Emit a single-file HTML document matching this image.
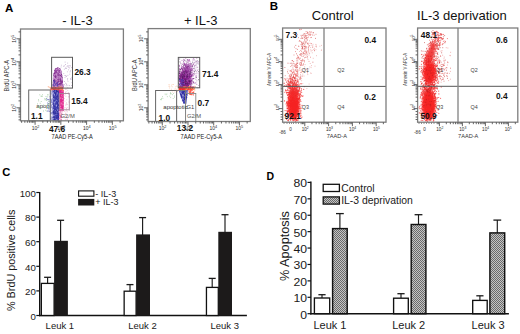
<!DOCTYPE html>
<html><head><meta charset="utf-8"><style>
html,body{margin:0;padding:0;background:#fff;width:520px;height:334px;overflow:hidden}
svg{display:block}
text{font-family:"Liberation Sans",sans-serif}
</style></head><body>
<svg width="520" height="334" viewBox="0 0 520 334">
<defs>
<pattern id="hatch" width="2" height="2" patternUnits="userSpaceOnUse">
<rect width="2" height="2" fill="#c4c4c4"/><rect width="1" height="1" fill="#6a6a6a"/><rect x="1" y="1" width="1" height="1" fill="#6a6a6a"/>
</pattern>
<linearGradient id="bluegrad" x1="0" x2="1" y1="0" y2="0"><stop offset="0" stop-color="#c4c4ea"/><stop offset="0.25" stop-color="#9a9ad4"/><stop offset="0.4" stop-color="#4444b2"/><stop offset="1" stop-color="#3a3aac"/></linearGradient>
<filter id="b1" x="-50%" y="-50%" width="200%" height="200%"><feGaussianBlur stdDeviation="1.2"/></filter>
<filter id="b05" x="-50%" y="-50%" width="200%" height="200%"><feGaussianBlur stdDeviation="0.6"/></filter>
</defs>
<rect width="520" height="334" fill="#fff"/>
<text x="5.0" y="12.2" font-size="11.5" font-weight="bold" text-anchor="start" fill="#000" >A</text>
<text x="269.8" y="10.3" font-size="11.5" font-weight="bold" text-anchor="start" fill="#000" >B</text>
<text x="2.2" y="176.4" font-size="11.2" font-weight="bold" text-anchor="start" fill="#000" >C</text>
<text x="266.5" y="180.4" font-size="10.5" font-weight="bold" text-anchor="start" fill="#000" >D</text>
<line x1="39.70" y1="192.00" x2="39.70" y2="316.20" stroke="#111" stroke-width="1.4"/>
<line x1="39.00" y1="315.50" x2="246.90" y2="315.50" stroke="#111" stroke-width="1.4"/>
<line x1="36.30" y1="315.50" x2="39.70" y2="315.50" stroke="#111" stroke-width="1.2"/>
<text x="35.9" y="319.8" font-size="9.7" font-weight="normal" text-anchor="end" fill="#1a1a1a" >0</text>
<line x1="36.30" y1="290.90" x2="39.70" y2="290.90" stroke="#111" stroke-width="1.2"/>
<text x="35.9" y="295.2" font-size="9.7" font-weight="normal" text-anchor="end" fill="#1a1a1a" >20</text>
<line x1="36.30" y1="266.30" x2="39.70" y2="266.30" stroke="#111" stroke-width="1.2"/>
<text x="35.9" y="270.6" font-size="9.7" font-weight="normal" text-anchor="end" fill="#1a1a1a" >40</text>
<line x1="36.30" y1="241.70" x2="39.70" y2="241.70" stroke="#111" stroke-width="1.2"/>
<text x="35.9" y="246.0" font-size="9.7" font-weight="normal" text-anchor="end" fill="#1a1a1a" >60</text>
<line x1="36.30" y1="217.10" x2="39.70" y2="217.10" stroke="#111" stroke-width="1.2"/>
<text x="35.9" y="221.4" font-size="9.7" font-weight="normal" text-anchor="end" fill="#1a1a1a" >80</text>
<line x1="36.30" y1="192.50" x2="39.70" y2="192.50" stroke="#111" stroke-width="1.2"/>
<text x="35.9" y="196.8" font-size="9.7" font-weight="normal" text-anchor="end" fill="#1a1a1a" >100</text>
<line x1="47.60" y1="283.40" x2="47.60" y2="277.30" stroke="#1a1a1a" stroke-width="1.15"/>
<line x1="44.10" y1="277.30" x2="51.10" y2="277.30" stroke="#1a1a1a" stroke-width="1.3"/>
<rect x="41.35" y="283.40" width="12.75" height="32.10" fill="#fff" stroke="#111" stroke-width="1.3" />
<line x1="60.60" y1="241.30" x2="60.60" y2="220.30" stroke="#1a1a1a" stroke-width="1.15"/>
<line x1="57.10" y1="220.30" x2="64.10" y2="220.30" stroke="#1a1a1a" stroke-width="1.3"/>
<rect x="54.10" y="240.80" width="13.80" height="74.70" fill="#1c1a1a" stroke="none" stroke-width="1" />
<line x1="130.00" y1="291.20" x2="130.00" y2="284.60" stroke="#1a1a1a" stroke-width="1.15"/>
<line x1="126.50" y1="284.60" x2="133.50" y2="284.60" stroke="#1a1a1a" stroke-width="1.3"/>
<rect x="124.15" y="291.20" width="11.95" height="24.30" fill="#fff" stroke="#111" stroke-width="1.3" />
<line x1="142.60" y1="234.90" x2="142.60" y2="217.60" stroke="#1a1a1a" stroke-width="1.15"/>
<line x1="139.10" y1="217.60" x2="146.10" y2="217.60" stroke="#1a1a1a" stroke-width="1.3"/>
<rect x="136.10" y="234.40" width="13.90" height="81.10" fill="#1c1a1a" stroke="none" stroke-width="1" />
<line x1="212.20" y1="287.40" x2="212.20" y2="278.40" stroke="#1a1a1a" stroke-width="1.15"/>
<line x1="208.70" y1="278.40" x2="215.70" y2="278.40" stroke="#1a1a1a" stroke-width="1.3"/>
<rect x="206.45" y="287.40" width="11.85" height="28.10" fill="#fff" stroke="#111" stroke-width="1.3" />
<line x1="225.00" y1="232.30" x2="225.00" y2="214.70" stroke="#1a1a1a" stroke-width="1.15"/>
<line x1="221.50" y1="214.70" x2="228.50" y2="214.70" stroke="#1a1a1a" stroke-width="1.3"/>
<rect x="218.30" y="231.80" width="13.70" height="83.70" fill="#1c1a1a" stroke="none" stroke-width="1" />
<text x="45.6" y="328.6" font-size="9.5" font-weight="normal" text-anchor="start" fill="#1a1a1a" >Leuk 1</text>
<text x="128.2" y="328.6" font-size="9.5" font-weight="normal" text-anchor="start" fill="#1a1a1a" >Leuk 2</text>
<text x="210.5" y="328.6" font-size="9.5" font-weight="normal" text-anchor="start" fill="#1a1a1a" >Leuk 3</text>
<rect x="78.60" y="190.90" width="15.30" height="5.30" fill="#fff" stroke="#111" stroke-width="1.1" />
<rect x="78.10" y="198.90" width="16.20" height="6.60" fill="#1c1a1a" stroke="none" stroke-width="1" />
<text x="95.3" y="196.6" font-size="9" font-weight="normal" text-anchor="start" fill="#1a1a1a" >- IL-3</text>
<text x="95.3" y="205.3" font-size="9" font-weight="normal" text-anchor="start" fill="#1a1a1a" >+ IL-3</text>
<text transform="translate(14.7,260.3) rotate(-90)" font-size="10.8" text-anchor="middle" fill="#1a1a1a">% BrdU positive cells</text>
<line x1="310.90" y1="181.60" x2="310.90" y2="314.40" stroke="#111" stroke-width="1.4"/>
<line x1="310.20" y1="313.70" x2="508.90" y2="313.70" stroke="#111" stroke-width="1.4"/>
<line x1="307.50" y1="313.70" x2="310.90" y2="313.70" stroke="#111" stroke-width="1.2"/>
<text transform="translate(307.0,318.70) scale(1.08,1)" font-size="11.3" text-anchor="end" fill="#1a1a1a">0</text>
<line x1="307.50" y1="297.29" x2="310.90" y2="297.29" stroke="#111" stroke-width="1.2"/>
<text transform="translate(307.0,302.29) scale(1.08,1)" font-size="11.3" text-anchor="end" fill="#1a1a1a">10</text>
<line x1="307.50" y1="280.88" x2="310.90" y2="280.88" stroke="#111" stroke-width="1.2"/>
<text transform="translate(307.0,285.88) scale(1.08,1)" font-size="11.3" text-anchor="end" fill="#1a1a1a">20</text>
<line x1="307.50" y1="264.47" x2="310.90" y2="264.47" stroke="#111" stroke-width="1.2"/>
<text transform="translate(307.0,269.47) scale(1.08,1)" font-size="11.3" text-anchor="end" fill="#1a1a1a">30</text>
<line x1="307.50" y1="248.06" x2="310.90" y2="248.06" stroke="#111" stroke-width="1.2"/>
<text transform="translate(307.0,253.06) scale(1.08,1)" font-size="11.3" text-anchor="end" fill="#1a1a1a">40</text>
<line x1="307.50" y1="231.65" x2="310.90" y2="231.65" stroke="#111" stroke-width="1.2"/>
<text transform="translate(307.0,236.65) scale(1.08,1)" font-size="11.3" text-anchor="end" fill="#1a1a1a">50</text>
<line x1="307.50" y1="215.24" x2="310.90" y2="215.24" stroke="#111" stroke-width="1.2"/>
<text transform="translate(307.0,220.24) scale(1.08,1)" font-size="11.3" text-anchor="end" fill="#1a1a1a">60</text>
<line x1="307.50" y1="198.83" x2="310.90" y2="198.83" stroke="#111" stroke-width="1.2"/>
<text transform="translate(307.0,203.83) scale(1.08,1)" font-size="11.3" text-anchor="end" fill="#1a1a1a">70</text>
<line x1="307.50" y1="182.42" x2="310.90" y2="182.42" stroke="#111" stroke-width="1.2"/>
<text transform="translate(307.0,187.42) scale(1.08,1)" font-size="11.3" text-anchor="end" fill="#1a1a1a">80</text>
<line x1="322.00" y1="298.00" x2="322.00" y2="294.70" stroke="#1a1a1a" stroke-width="1.15"/>
<line x1="318.40" y1="294.70" x2="325.60" y2="294.70" stroke="#1a1a1a" stroke-width="1.3"/>
<rect x="314.40" y="298.00" width="15.30" height="15.70" fill="#fff" stroke="#111" stroke-width="1.35" />
<line x1="339.90" y1="228.60" x2="339.90" y2="213.60" stroke="#1a1a1a" stroke-width="1.15"/>
<line x1="336.00" y1="213.60" x2="343.80" y2="213.60" stroke="#1a1a1a" stroke-width="1.3"/>
<rect x="332.60" y="228.60" width="14.60" height="85.10" fill="url(#hatch)" stroke="#111" stroke-width="1.45" />
<line x1="401.00" y1="298.20" x2="401.00" y2="293.70" stroke="#1a1a1a" stroke-width="1.15"/>
<line x1="397.40" y1="293.70" x2="404.60" y2="293.70" stroke="#1a1a1a" stroke-width="1.3"/>
<rect x="393.60" y="298.20" width="14.70" height="15.50" fill="#fff" stroke="#111" stroke-width="1.35" />
<line x1="418.50" y1="224.50" x2="418.50" y2="214.70" stroke="#1a1a1a" stroke-width="1.15"/>
<line x1="414.60" y1="214.70" x2="422.40" y2="214.70" stroke="#1a1a1a" stroke-width="1.3"/>
<rect x="411.20" y="224.50" width="14.70" height="89.20" fill="url(#hatch)" stroke="#111" stroke-width="1.45" />
<line x1="479.90" y1="300.40" x2="479.90" y2="295.80" stroke="#1a1a1a" stroke-width="1.15"/>
<line x1="476.30" y1="295.80" x2="483.50" y2="295.80" stroke="#1a1a1a" stroke-width="1.3"/>
<rect x="472.70" y="300.40" width="14.50" height="13.30" fill="#fff" stroke="#111" stroke-width="1.35" />
<line x1="497.30" y1="232.90" x2="497.30" y2="220.10" stroke="#1a1a1a" stroke-width="1.15"/>
<line x1="493.40" y1="220.10" x2="501.20" y2="220.10" stroke="#1a1a1a" stroke-width="1.3"/>
<rect x="489.90" y="232.90" width="14.80" height="80.80" fill="url(#hatch)" stroke="#111" stroke-width="1.45" />
<text x="313.4" y="328.6" font-size="11" font-weight="normal" text-anchor="start" fill="#1a1a1a" >Leuk 1</text>
<text x="392.2" y="328.6" font-size="11" font-weight="normal" text-anchor="start" fill="#1a1a1a" >Leuk 2</text>
<text x="471.6" y="328.6" font-size="11" font-weight="normal" text-anchor="start" fill="#1a1a1a" >Leuk 3</text>
<rect x="323.20" y="184.30" width="16.20" height="7.20" fill="#fff" stroke="#111" stroke-width="1.3" />
<rect x="323.20" y="196.90" width="16.20" height="7.20" fill="url(#hatch)" stroke="#111" stroke-width="1.3" />
<text x="341.2" y="191.6" font-size="10.4" font-weight="normal" text-anchor="start" fill="#1a1a1a" >Control</text>
<text x="341.2" y="204.2" font-size="10.4" font-weight="normal" text-anchor="start" fill="#1a1a1a" >IL-3 deprivation</text>
<text transform="translate(289.2,246.1) rotate(-90)" font-size="12.7" text-anchor="middle" fill="#1a1a1a">% Apoptosis</text>
<text x="62.3" y="25.4" font-size="13" font-weight="normal" text-anchor="start" fill="#111" >- IL-3</text>
<path d="M67.9 85.3h.01M69.5 67.9h.01M64.3 84.7h.01M61.1 83.4h.01M69.8 74.2h.01M64.3 69.2h.01M63.8 73.6h.01M66.6 76.4h.01M72.0 82.6h.01M67.8 87.7h.01M63.4 66.2h.01M67.7 63.1h.01M61.4 75.4h.01M66.1 85.8h.01M67.9 75.4h.01M66.5 68.4h.01M61.1 67.0h.01M68.6 67.2h.01M65.1 62.1h.01M70.1 66.0h.01M63.9 84.9h.01M66.6 84.0h.01M68.0 81.3h.01M62.0 76.1h.01M66.6 84.7h.01M65.0 77.6h.01M61.7 72.1h.01M64.6 65.9h.01M70.0 71.9h.01M71.8 77.3h.01M67.7 78.6h.01M68.4 65.9h.01M65.8 68.2h.01M65.4 64.5h.01M71.6 67.6h.01M68.4 69.8h.01M70.6 79.2h.01M62.4 84.0h.01M71.4 85.5h.01M67.3 65.8h.01M63.1 86.1h.01M67.1 66.7h.01M70.7 78.7h.01M67.3 71.8h.01M65.5 68.2h.01M61.4 84.8h.01M66.1 76.2h.01M64.5 81.5h.01M61.3 71.7h.01M61.3 65.2h.01M71.6 79.1h.01M65.7 75.6h.01M70.6 70.9h.01M67.5 79.8h.01M64.9 75.5h.01M69.4 85.6h.01M62.7 86.3h.01M61.1 81.6h.01M69.9 65.6h.01M65.6 83.2h.01" stroke="#bca0c8" stroke-width="1.00" stroke-linecap="round" opacity="0.8"/>
<g filter="url(#b05)"><polygon points="55.3,68.8 57.3,67.4 59.4,68.0 60.9,70.0 62.0,75.0 62.8,80.0 63.4,88.0 52.7,88.0 53.0,80.0 53.6,74.0 54.3,70.5" fill="#9a4ca6"/></g>
<path d="M56.8 72.6h.01M57.6 80.9h.01M53.8 75.2h.01M54.1 81.0h.01M61.6 75.2h.01M56.7 78.5h.01M55.0 72.5h.01M56.2 76.8h.01M53.6 82.9h.01M58.9 73.6h.01M53.5 83.1h.01M56.0 84.6h.01M59.3 71.3h.01M57.4 85.6h.01M56.7 82.0h.01M53.7 82.4h.01M61.0 84.4h.01M59.9 75.0h.01M53.4 78.1h.01M60.8 71.3h.01M55.5 78.4h.01M60.7 85.9h.01M61.3 80.7h.01M60.4 87.9h.01M62.7 84.8h.01M61.0 75.5h.01M59.6 71.2h.01M60.8 83.0h.01M60.4 76.6h.01M56.7 76.0h.01M53.1 84.8h.01M58.5 75.4h.01M58.6 82.3h.01M56.8 84.5h.01M54.2 83.1h.01M60.3 84.4h.01M53.7 87.8h.01M58.9 76.6h.01M60.7 71.3h.01M57.8 68.1h.01M56.1 73.8h.01M60.4 76.8h.01M53.3 87.9h.01M62.2 86.3h.01M55.3 75.5h.01M55.1 70.0h.01M61.9 77.4h.01M54.7 81.2h.01M55.5 78.3h.01M55.7 78.0h.01M59.4 78.4h.01M56.9 83.7h.01M63.2 86.8h.01M55.2 87.4h.01M54.9 77.8h.01M58.0 86.2h.01M59.1 68.8h.01M55.2 77.0h.01M62.1 83.1h.01M61.6 83.1h.01M60.3 84.9h.01M60.0 82.6h.01M55.9 70.9h.01M60.8 70.8h.01M62.5 79.7h.01M56.2 86.7h.01M54.4 78.0h.01M53.7 87.3h.01M58.9 84.0h.01M55.7 83.9h.01M60.2 80.7h.01M57.1 81.7h.01M61.6 74.3h.01M59.9 71.7h.01M58.6 83.2h.01M53.4 82.4h.01M52.9 87.1h.01M57.7 75.8h.01M60.4 78.2h.01M58.7 78.9h.01M57.5 80.4h.01M58.6 68.9h.01M59.0 72.0h.01M54.8 85.5h.01M54.8 76.8h.01M60.7 82.0h.01M58.6 84.0h.01M57.7 80.2h.01M61.5 81.4h.01M59.6 75.8h.01M58.7 75.6h.01M60.7 75.2h.01M57.7 83.0h.01M58.1 74.4h.01M61.5 75.2h.01M61.7 83.6h.01M57.5 82.1h.01M61.9 79.3h.01M58.7 81.1h.01M60.0 79.4h.01M57.2 71.2h.01M55.8 73.4h.01M57.3 88.0h.01M56.5 76.6h.01M56.7 79.4h.01M62.8 85.7h.01M56.7 72.9h.01M62.2 77.6h.01M60.0 68.9h.01M58.0 71.5h.01M57.2 84.5h.01M61.6 77.2h.01M60.9 76.8h.01M56.7 78.6h.01M54.9 73.9h.01M60.3 83.3h.01M53.3 82.5h.01M61.4 76.6h.01M53.4 81.5h.01M55.3 80.7h.01M56.7 80.5h.01M55.5 77.2h.01M58.3 80.4h.01M54.9 87.2h.01M55.8 73.7h.01M55.4 68.8h.01M57.2 83.3h.01M60.3 71.4h.01M54.2 74.0h.01M60.9 77.5h.01M62.6 80.9h.01M59.3 83.2h.01M60.7 74.5h.01M55.4 76.4h.01M57.9 70.3h.01M57.4 80.6h.01M54.6 73.2h.01M54.7 70.8h.01M57.8 67.7h.01M57.6 70.8h.01M55.6 83.7h.01M54.7 80.1h.01M57.0 76.0h.01M62.6 85.8h.01M59.8 79.8h.01M61.0 71.8h.01M62.9 85.7h.01M53.9 73.9h.01M53.0 84.5h.01M62.5 87.8h.01M59.2 81.1h.01M60.0 79.1h.01M56.3 78.0h.01M60.1 76.1h.01M61.8 83.0h.01M56.3 69.0h.01M56.0 76.6h.01M62.3 81.4h.01M61.8 75.7h.01M55.3 70.3h.01M61.3 81.5h.01M55.0 72.9h.01M60.2 70.1h.01M58.2 68.1h.01M58.6 84.8h.01M60.9 79.9h.01M56.0 80.4h.01M57.6 85.2h.01M55.8 83.0h.01M59.5 82.7h.01" stroke="#7e2a8a" stroke-width="1.10" stroke-linecap="round" opacity="0.9"/>
<path d="M57.0 73.8h.01M57.4 71.5h.01M60.3 77.8h.01M62.0 85.9h.01M56.1 73.2h.01M53.3 77.9h.01M58.1 76.4h.01M62.9 86.9h.01M57.1 84.6h.01M59.4 82.4h.01M58.9 71.7h.01M60.2 71.4h.01M57.7 87.5h.01M58.5 68.6h.01M57.3 81.0h.01M56.8 77.8h.01M55.9 80.9h.01M54.6 86.1h.01M57.7 85.1h.01M55.8 83.9h.01M55.8 82.2h.01M56.3 79.8h.01M61.3 78.6h.01M56.8 74.6h.01M59.4 69.4h.01M59.9 87.2h.01M63.2 85.7h.01M62.0 85.5h.01M59.4 78.1h.01M54.8 78.1h.01M55.8 70.0h.01M54.1 83.9h.01M58.9 76.1h.01M57.3 71.6h.01M59.8 73.4h.01M57.0 76.9h.01M60.4 73.8h.01M58.1 85.5h.01M59.9 69.3h.01M54.2 87.8h.01M54.4 71.8h.01M53.6 77.1h.01M59.0 74.0h.01M53.9 84.1h.01M61.3 79.0h.01M54.2 78.6h.01M59.4 76.2h.01M61.9 75.4h.01M58.2 69.8h.01M58.7 83.2h.01M60.5 72.7h.01M57.2 75.9h.01M61.0 71.0h.01M59.5 82.2h.01M58.2 85.4h.01M57.7 77.0h.01M55.7 86.3h.01M56.1 81.7h.01M57.1 86.7h.01M53.5 77.6h.01M53.2 78.7h.01M54.7 75.0h.01M56.0 79.8h.01M61.5 86.7h.01M56.2 79.1h.01M62.0 80.8h.01M55.8 83.4h.01M55.8 85.8h.01M60.7 76.7h.01M54.3 78.0h.01M55.9 78.7h.01M60.7 85.1h.01M53.3 79.6h.01M62.0 79.4h.01M62.2 83.6h.01M60.4 71.5h.01M55.5 74.1h.01M59.0 80.3h.01M54.8 74.9h.01M61.5 78.7h.01M58.2 83.1h.01M59.7 73.4h.01M53.6 76.9h.01M62.1 79.7h.01M56.8 79.4h.01M59.0 87.0h.01M56.3 75.8h.01M59.3 85.7h.01M60.3 77.1h.01M61.4 77.4h.01M54.1 84.5h.01M55.9 84.9h.01M59.2 77.9h.01M53.6 83.6h.01M53.4 87.3h.01M54.1 85.6h.01M57.8 70.0h.01M58.0 72.5h.01M57.1 80.6h.01M62.5 83.9h.01M54.4 77.2h.01M58.0 87.8h.01M53.6 77.9h.01M55.5 78.9h.01M56.1 86.5h.01M53.6 82.1h.01M55.8 85.9h.01M62.3 86.7h.01M56.8 87.2h.01M60.2 86.3h.01M61.9 84.7h.01M56.5 69.4h.01M60.5 70.2h.01M56.8 87.9h.01M58.7 78.1h.01M56.6 74.1h.01M54.1 86.3h.01M62.2 79.7h.01M59.9 82.5h.01M58.0 68.4h.01M58.1 82.6h.01M59.7 80.1h.01M58.4 68.4h.01M57.1 78.7h.01M60.4 86.7h.01M60.6 74.6h.01M53.5 82.0h.01M61.0 71.0h.01M57.6 78.2h.01M59.3 87.8h.01" stroke="#d8acdc" stroke-width="1.00" stroke-linecap="round" opacity="0.9"/>
<path d="M54.5 82.3h.01M57.9 82.5h.01M54.1 87.0h.01M53.7 87.2h.01M57.3 84.9h.01M55.1 81.5h.01M53.5 80.8h.01M54.7 83.1h.01M57.6 84.0h.01M58.0 85.4h.01M53.7 84.2h.01M53.8 80.3h.01M57.7 82.5h.01M53.9 80.8h.01M56.3 83.5h.01M53.1 85.4h.01M54.3 85.9h.01M55.4 84.0h.01M55.3 85.1h.01M58.0 86.0h.01M53.3 83.7h.01M54.2 80.8h.01M54.0 81.9h.01M57.8 85.6h.01M57.3 85.2h.01" stroke="#4a40b0" stroke-width="1.10" stroke-linecap="round" opacity="0.9"/>
<text x="36.3" y="108.3" font-size="6.0" font-weight="normal" text-anchor="start" fill="#333" >apoptotic</text>
<rect x="50.20" y="88.30" width="8.80" height="32.50" fill="url(#bluegrad)" stroke="none" stroke-width="1" />
<path d="M51.0 91.0h.01M50.9 95.3h.01M51.5 99.1h.01M51.4 114.7h.01M50.4 92.3h.01M52.6 105.8h.01M51.6 97.4h.01M51.9 96.0h.01M52.8 115.0h.01M51.2 89.8h.01M52.9 98.4h.01M52.2 116.0h.01M52.6 116.2h.01M51.7 115.5h.01M51.6 97.3h.01M51.7 99.6h.01M52.5 115.2h.01M50.7 94.2h.01M51.4 103.6h.01M53.1 118.7h.01M53.1 112.0h.01M52.3 97.5h.01M51.4 89.1h.01M52.7 97.7h.01M50.5 98.9h.01M51.2 111.8h.01M50.3 96.2h.01M52.9 115.9h.01M52.1 106.6h.01M50.9 116.6h.01M52.5 105.2h.01M50.8 95.8h.01M51.4 99.4h.01M50.5 101.8h.01M51.6 98.0h.01M51.4 99.5h.01M51.4 108.5h.01M51.7 95.2h.01M52.6 105.2h.01M51.6 111.5h.01M52.5 115.7h.01M52.7 110.1h.01M52.4 93.9h.01M52.3 97.0h.01M51.0 92.8h.01M51.5 89.6h.01M52.2 112.6h.01M52.5 93.1h.01M52.2 115.4h.01M50.4 95.1h.01M51.1 103.6h.01M50.8 106.0h.01M51.3 109.6h.01M51.8 110.6h.01M51.0 111.3h.01M52.4 111.7h.01M50.5 118.8h.01M52.0 97.6h.01M51.6 105.3h.01M51.8 96.8h.01M51.1 100.5h.01M52.6 102.8h.01M50.4 103.2h.01M50.9 89.4h.01M53.1 98.3h.01M51.9 100.3h.01M50.5 117.4h.01M53.0 94.9h.01M51.5 100.8h.01M50.8 109.8h.01M52.6 112.9h.01M52.3 89.6h.01M51.0 105.2h.01M52.3 101.2h.01M51.6 115.5h.01M50.4 97.5h.01M51.1 120.3h.01M51.0 90.5h.01M51.5 109.5h.01M50.7 115.5h.01" stroke="#f4f4ff" stroke-width="1.00" stroke-linecap="round" opacity="0.85"/>
<path d="M50.4 118.7h.01M52.3 93.0h.01M53.3 102.6h.01M52.9 115.1h.01M52.3 90.6h.01M53.3 110.9h.01M53.7 97.5h.01M53.2 116.5h.01M51.6 101.9h.01M51.5 89.2h.01M51.2 99.4h.01M50.7 113.1h.01M51.9 106.9h.01M51.4 100.4h.01M53.1 103.8h.01M52.5 102.3h.01M52.4 117.3h.01M51.3 105.4h.01M52.8 91.7h.01M53.9 104.7h.01M51.2 113.0h.01M53.3 108.9h.01M53.7 91.8h.01M52.3 112.4h.01M53.7 109.2h.01" stroke="#5a5ac0" stroke-width="1.00" stroke-linecap="round" opacity="0.8"/>
<path d="M55.2 103.0h.01M54.1 104.6h.01M54.4 94.1h.01M55.3 91.0h.01M55.8 110.9h.01M56.9 119.7h.01M58.3 109.0h.01M58.4 103.0h.01M57.8 98.0h.01M56.2 119.9h.01M56.6 105.0h.01M57.7 98.8h.01M58.0 89.6h.01M54.4 94.6h.01M54.5 118.8h.01M53.1 98.4h.01M56.4 111.1h.01M57.6 101.1h.01M54.3 115.8h.01M53.7 91.0h.01M54.4 104.5h.01M58.7 112.0h.01M56.4 105.4h.01M57.2 108.7h.01M55.0 91.9h.01M54.2 113.7h.01M56.8 114.1h.01M53.3 117.4h.01M55.3 118.2h.01M56.6 106.2h.01M57.9 108.7h.01M57.0 94.0h.01M56.6 100.2h.01M53.5 93.2h.01M55.9 97.3h.01M57.6 92.9h.01M53.1 120.4h.01M54.9 105.1h.01M54.3 95.6h.01M55.4 113.9h.01M53.2 115.4h.01M58.9 106.6h.01M55.2 96.4h.01M54.1 99.2h.01M58.1 89.1h.01M57.7 110.0h.01M53.1 91.2h.01M57.4 110.2h.01M54.9 116.1h.01M54.3 102.4h.01M53.7 109.3h.01M53.5 94.7h.01M57.6 104.8h.01M57.0 112.1h.01M56.6 95.2h.01M57.2 92.7h.01M54.6 103.1h.01M53.7 92.3h.01M56.9 112.4h.01M55.2 101.3h.01" stroke="#e0e0ff" stroke-width="0.90" stroke-linecap="round" opacity="0.7"/>
<path d="M56.4 97.8h.01M54.5 92.1h.01M54.9 113.4h.01M53.1 104.2h.01M56.6 90.6h.01M54.8 117.6h.01M59.0 115.8h.01M54.0 113.1h.01M55.7 94.4h.01M55.9 118.1h.01M58.3 101.3h.01M53.4 117.4h.01M58.9 105.1h.01M54.4 106.1h.01M57.2 104.2h.01M55.1 96.8h.01M54.8 90.6h.01M54.5 119.0h.01M53.0 111.9h.01M57.7 101.7h.01M56.6 96.0h.01M57.0 111.3h.01M57.4 104.5h.01M58.8 116.3h.01M56.4 110.5h.01M54.6 118.7h.01M56.9 117.2h.01M54.7 119.9h.01M53.6 105.7h.01M53.7 95.0h.01M57.6 91.1h.01M55.3 95.0h.01M58.1 91.6h.01M55.0 116.0h.01M57.1 111.2h.01M58.9 89.7h.01M57.0 112.5h.01M57.5 111.5h.01M53.4 91.6h.01M57.6 108.3h.01M54.6 89.3h.01M56.2 91.8h.01M57.5 99.7h.01M57.8 92.0h.01M56.0 92.1h.01M57.7 106.6h.01M54.4 119.3h.01M57.1 99.6h.01M58.1 101.0h.01M58.7 98.4h.01M58.9 91.0h.01M57.4 98.2h.01M55.5 109.0h.01M53.3 96.0h.01M53.6 112.3h.01M54.3 104.7h.01M55.0 96.4h.01M58.6 105.0h.01M56.9 111.2h.01M57.9 97.3h.01M53.5 103.7h.01M54.0 89.6h.01M58.5 108.7h.01M55.5 93.3h.01M57.6 105.8h.01M54.0 119.9h.01M58.7 118.2h.01M58.0 105.7h.01M54.8 109.5h.01M53.9 108.4h.01M53.4 89.4h.01M57.3 99.8h.01M57.2 113.6h.01M58.0 108.4h.01M58.1 109.8h.01M58.6 117.3h.01M53.3 97.4h.01M55.3 96.9h.01M54.1 116.5h.01M53.2 94.7h.01M57.6 96.0h.01M54.6 119.5h.01M57.6 103.1h.01M53.8 97.5h.01M58.9 113.9h.01M53.4 111.3h.01M55.3 111.7h.01M54.8 93.1h.01M53.1 98.3h.01M58.2 117.1h.01M57.1 112.6h.01M54.2 100.2h.01M58.4 120.1h.01M55.7 113.4h.01M58.6 120.4h.01M54.8 109.6h.01M55.3 103.7h.01M55.8 97.8h.01M53.1 113.1h.01M57.2 115.5h.01" stroke="#2a2a96" stroke-width="1.10" stroke-linecap="round" opacity="0.9"/>
<path d="M49.1 101.2h.01M48.2 111.0h.01M48.9 109.0h.01M49.4 111.3h.01M50.1 103.4h.01M50.1 99.0h.01M48.1 104.1h.01M50.1 99.5h.01M50.2 102.3h.01M47.4 99.7h.01M48.5 103.5h.01M49.9 96.8h.01M46.7 98.4h.01M48.8 108.5h.01M48.3 105.8h.01M47.8 111.1h.01M48.4 99.6h.01M47.7 103.0h.01" stroke="#4a4ab8" stroke-width="1.00" stroke-linecap="round" opacity="0.8"/>
<rect x="59.00" y="90.00" width="4.80" height="21.00" fill="#e0288e" stroke="none" stroke-width="1" />
<path d="M59.1 120.1h.01M60.6 111.4h.01M61.9 112.7h.01M59.7 115.5h.01M61.0 119.2h.01M60.2 116.1h.01M59.4 115.4h.01M59.2 111.2h.01M59.4 113.2h.01M60.1 117.4h.01M59.3 111.2h.01M61.3 117.1h.01M61.5 117.6h.01M61.3 115.8h.01M61.6 110.9h.01M59.7 117.8h.01M59.7 115.6h.01M59.9 114.5h.01M61.9 116.9h.01M60.6 112.9h.01M61.8 116.9h.01M60.5 119.1h.01M61.4 120.3h.01M61.3 119.4h.01M60.9 117.5h.01M61.9 110.9h.01M60.7 116.4h.01M59.2 118.3h.01M61.5 119.8h.01M60.3 114.9h.01M62.2 114.3h.01M61.9 114.4h.01M60.2 112.9h.01M59.7 114.5h.01M59.6 118.7h.01M62.4 111.0h.01M59.2 110.0h.01M62.3 110.8h.01M61.4 113.2h.01M59.7 112.6h.01" stroke="#e070b0" stroke-width="1.10" stroke-linecap="round" opacity="0.9"/>
<path d="M62.1 110.4h.01M64.0 95.5h.01M59.7 100.9h.01M61.2 98.0h.01M62.8 104.9h.01M61.8 103.1h.01M61.9 104.2h.01M63.6 109.9h.01M63.9 108.1h.01M59.5 99.5h.01M62.9 96.2h.01M62.0 91.2h.01M60.0 98.4h.01M59.4 98.9h.01M60.2 108.1h.01M60.6 98.0h.01M63.0 101.8h.01M59.3 94.6h.01M62.1 94.2h.01M60.2 103.1h.01M61.5 95.7h.01M61.8 103.3h.01M59.2 95.8h.01M60.5 108.5h.01M59.3 97.3h.01M60.0 104.6h.01M63.1 91.2h.01M63.3 104.6h.01M60.1 109.2h.01M60.5 106.6h.01M59.4 99.6h.01M61.5 108.8h.01M63.2 101.5h.01M59.3 99.0h.01M60.9 110.9h.01M62.4 98.5h.01M60.8 106.1h.01M59.5 107.2h.01M62.4 99.1h.01M62.6 98.4h.01" stroke="#f6a0cc" stroke-width="1.00" stroke-linecap="round" opacity="0.8"/>
<path d="M67.7 104.4h.01M65.3 89.3h.01M66.7 108.8h.01M66.1 119.2h.01M64.7 114.6h.01M67.8 117.3h.01M69.0 96.5h.01M69.0 101.7h.01M67.6 119.0h.01M67.1 107.4h.01M63.9 107.8h.01M64.9 101.2h.01M65.8 119.7h.01M67.3 111.8h.01M64.5 98.6h.01M68.8 92.8h.01M69.2 102.5h.01M65.8 105.2h.01M66.2 103.8h.01M66.0 111.1h.01M65.2 94.2h.01M66.1 91.8h.01M66.2 104.6h.01M68.2 92.4h.01M65.9 113.6h.01M65.5 115.3h.01M67.8 90.3h.01M65.8 113.1h.01M66.7 110.2h.01M69.4 110.3h.01M66.8 115.7h.01M66.1 89.3h.01M65.1 107.7h.01M69.2 108.1h.01M65.2 120.3h.01M65.9 96.2h.01M66.8 99.8h.01M64.2 111.5h.01M67.6 119.6h.01M64.3 117.7h.01M68.3 97.0h.01M66.4 108.8h.01M65.4 92.4h.01M68.5 94.2h.01M66.4 102.8h.01" stroke="#e6aac8" stroke-width="1.00" stroke-linecap="round" opacity="0.8"/>
<rect x="50.50" y="87.40" width="12.80" height="2.40" fill="#f4483a" stroke="none" stroke-width="1" />
<path d="M51.5 89.8h.01M61.2 87.1h.01M51.3 87.2h.01M50.2 88.1h.01M56.0 89.1h.01M48.9 87.0h.01M49.9 87.4h.01M51.0 90.7h.01M54.0 86.7h.01M58.7 90.9h.01M60.7 89.2h.01M54.1 88.0h.01M52.8 90.0h.01M60.9 88.4h.01M61.8 89.3h.01M59.0 87.3h.01M51.9 87.1h.01M62.6 90.0h.01M62.4 90.1h.01M60.9 88.2h.01M60.2 86.8h.01M58.5 86.2h.01M63.5 90.4h.01M50.6 89.8h.01M61.2 86.2h.01M57.1 88.1h.01M57.9 90.4h.01M59.6 87.1h.01M56.9 88.8h.01M48.2 86.7h.01" stroke="#ff8a50" stroke-width="1.00" stroke-linecap="round" opacity="0.7"/>
<path d="M46.5 100.4h.01M40.2 103.3h.01M40.8 108.6h.01M44.7 98.8h.01M47.5 104.5h.01M38.7 100.9h.01M43.4 111.0h.01M41.2 101.5h.01M49.7 101.1h.01M47.8 94.8h.01M42.1 96.5h.01M48.5 103.5h.01M39.8 94.8h.01M42.5 94.8h.01M43.3 106.8h.01M41.0 96.2h.01M41.7 96.2h.01M48.0 94.8h.01M46.6 99.3h.01M46.5 107.6h.01M38.8 107.4h.01M49.3 103.8h.01M45.4 99.1h.01M39.3 107.1h.01M47.7 96.9h.01M38.5 99.7h.01M45.1 99.9h.01M49.5 108.0h.01M48.9 104.4h.01M46.8 111.1h.01M37.5 103.9h.01M39.4 108.1h.01M40.0 107.1h.01M41.3 105.4h.01M45.8 110.3h.01M48.3 101.3h.01M46.0 96.5h.01M38.3 106.6h.01M48.8 107.2h.01M43.7 105.0h.01" stroke="#94c494" stroke-width="1.00" stroke-linecap="round" opacity="0.8"/>
<rect x="51.60" y="57.30" width="20.90" height="30.80" fill="none" stroke="#5a5a5a" stroke-width="1.0" />
<rect x="28.70" y="90.00" width="21.60" height="30.80" fill="none" stroke="#666" stroke-width="1.0" />
<rect x="59.30" y="93.50" width="10.00" height="16.30" fill="none" stroke="#a08898" stroke-width="0.9" />
<text x="60.6" y="118.3" font-size="5.8" font-weight="normal" text-anchor="start" fill="#555" >G2/M</text>
<rect x="20.50" y="29.00" width="102.90" height="91.80" fill="none" stroke="#7d7d7d" stroke-width="1.3" />
<line x1="18.50" y1="119.83" x2="20.50" y2="119.83" stroke="#555" stroke-width="0.9"/>
<line x1="18.50" y1="116.95" x2="20.50" y2="116.95" stroke="#555" stroke-width="0.9"/>
<line x1="18.50" y1="114.72" x2="20.50" y2="114.72" stroke="#555" stroke-width="0.9"/>
<line x1="18.50" y1="112.90" x2="20.50" y2="112.90" stroke="#555" stroke-width="0.9"/>
<line x1="18.50" y1="111.36" x2="20.50" y2="111.36" stroke="#555" stroke-width="0.9"/>
<line x1="18.50" y1="110.03" x2="20.50" y2="110.03" stroke="#555" stroke-width="0.9"/>
<line x1="18.50" y1="108.85" x2="20.50" y2="108.85" stroke="#555" stroke-width="0.9"/>
<line x1="16.50" y1="107.80" x2="20.50" y2="107.80" stroke="#555" stroke-width="0.9"/>
<line x1="18.50" y1="100.88" x2="20.50" y2="100.88" stroke="#555" stroke-width="0.9"/>
<line x1="18.50" y1="96.83" x2="20.50" y2="96.83" stroke="#555" stroke-width="0.9"/>
<line x1="18.50" y1="93.95" x2="20.50" y2="93.95" stroke="#555" stroke-width="0.9"/>
<line x1="18.50" y1="91.72" x2="20.50" y2="91.72" stroke="#555" stroke-width="0.9"/>
<line x1="18.50" y1="89.90" x2="20.50" y2="89.90" stroke="#555" stroke-width="0.9"/>
<line x1="18.50" y1="88.36" x2="20.50" y2="88.36" stroke="#555" stroke-width="0.9"/>
<line x1="18.50" y1="87.03" x2="20.50" y2="87.03" stroke="#555" stroke-width="0.9"/>
<line x1="18.50" y1="85.85" x2="20.50" y2="85.85" stroke="#555" stroke-width="0.9"/>
<line x1="16.50" y1="84.80" x2="20.50" y2="84.80" stroke="#555" stroke-width="0.9"/>
<line x1="18.50" y1="77.88" x2="20.50" y2="77.88" stroke="#555" stroke-width="0.9"/>
<line x1="18.50" y1="73.83" x2="20.50" y2="73.83" stroke="#555" stroke-width="0.9"/>
<line x1="18.50" y1="70.95" x2="20.50" y2="70.95" stroke="#555" stroke-width="0.9"/>
<line x1="18.50" y1="68.72" x2="20.50" y2="68.72" stroke="#555" stroke-width="0.9"/>
<line x1="18.50" y1="66.90" x2="20.50" y2="66.90" stroke="#555" stroke-width="0.9"/>
<line x1="18.50" y1="65.36" x2="20.50" y2="65.36" stroke="#555" stroke-width="0.9"/>
<line x1="18.50" y1="64.03" x2="20.50" y2="64.03" stroke="#555" stroke-width="0.9"/>
<line x1="18.50" y1="62.85" x2="20.50" y2="62.85" stroke="#555" stroke-width="0.9"/>
<line x1="16.50" y1="61.80" x2="20.50" y2="61.80" stroke="#555" stroke-width="0.9"/>
<line x1="18.50" y1="54.88" x2="20.50" y2="54.88" stroke="#555" stroke-width="0.9"/>
<line x1="18.50" y1="50.83" x2="20.50" y2="50.83" stroke="#555" stroke-width="0.9"/>
<line x1="18.50" y1="47.95" x2="20.50" y2="47.95" stroke="#555" stroke-width="0.9"/>
<line x1="18.50" y1="45.72" x2="20.50" y2="45.72" stroke="#555" stroke-width="0.9"/>
<line x1="18.50" y1="43.90" x2="20.50" y2="43.90" stroke="#555" stroke-width="0.9"/>
<line x1="18.50" y1="42.36" x2="20.50" y2="42.36" stroke="#555" stroke-width="0.9"/>
<line x1="18.50" y1="41.03" x2="20.50" y2="41.03" stroke="#555" stroke-width="0.9"/>
<line x1="18.50" y1="39.85" x2="20.50" y2="39.85" stroke="#555" stroke-width="0.9"/>
<line x1="16.50" y1="38.80" x2="20.50" y2="38.80" stroke="#555" stroke-width="0.9"/>
<line x1="18.50" y1="31.88" x2="20.50" y2="31.88" stroke="#555" stroke-width="0.9"/>
<line x1="21.64" y1="120.80" x2="21.64" y2="122.80" stroke="#555" stroke-width="0.9"/>
<line x1="24.85" y1="120.80" x2="24.85" y2="122.80" stroke="#555" stroke-width="0.9"/>
<line x1="27.35" y1="120.80" x2="27.35" y2="122.80" stroke="#555" stroke-width="0.9"/>
<line x1="29.39" y1="120.80" x2="29.39" y2="122.80" stroke="#555" stroke-width="0.9"/>
<line x1="31.11" y1="120.80" x2="31.11" y2="122.80" stroke="#555" stroke-width="0.9"/>
<line x1="32.60" y1="120.80" x2="32.60" y2="122.80" stroke="#555" stroke-width="0.9"/>
<line x1="33.92" y1="120.80" x2="33.92" y2="122.80" stroke="#555" stroke-width="0.9"/>
<line x1="35.10" y1="120.80" x2="35.10" y2="124.80" stroke="#555" stroke-width="0.9"/>
<line x1="42.85" y1="120.80" x2="42.85" y2="122.80" stroke="#555" stroke-width="0.9"/>
<line x1="47.39" y1="120.80" x2="47.39" y2="122.80" stroke="#555" stroke-width="0.9"/>
<line x1="50.60" y1="120.80" x2="50.60" y2="122.80" stroke="#555" stroke-width="0.9"/>
<line x1="53.10" y1="120.80" x2="53.10" y2="122.80" stroke="#555" stroke-width="0.9"/>
<line x1="55.14" y1="120.80" x2="55.14" y2="122.80" stroke="#555" stroke-width="0.9"/>
<line x1="56.86" y1="120.80" x2="56.86" y2="122.80" stroke="#555" stroke-width="0.9"/>
<line x1="58.35" y1="120.80" x2="58.35" y2="122.80" stroke="#555" stroke-width="0.9"/>
<line x1="59.67" y1="120.80" x2="59.67" y2="122.80" stroke="#555" stroke-width="0.9"/>
<line x1="60.85" y1="120.80" x2="60.85" y2="124.80" stroke="#555" stroke-width="0.9"/>
<line x1="68.60" y1="120.80" x2="68.60" y2="122.80" stroke="#555" stroke-width="0.9"/>
<line x1="73.14" y1="120.80" x2="73.14" y2="122.80" stroke="#555" stroke-width="0.9"/>
<line x1="76.35" y1="120.80" x2="76.35" y2="122.80" stroke="#555" stroke-width="0.9"/>
<line x1="78.85" y1="120.80" x2="78.85" y2="122.80" stroke="#555" stroke-width="0.9"/>
<line x1="80.89" y1="120.80" x2="80.89" y2="122.80" stroke="#555" stroke-width="0.9"/>
<line x1="82.61" y1="120.80" x2="82.61" y2="122.80" stroke="#555" stroke-width="0.9"/>
<line x1="84.10" y1="120.80" x2="84.10" y2="122.80" stroke="#555" stroke-width="0.9"/>
<line x1="85.42" y1="120.80" x2="85.42" y2="122.80" stroke="#555" stroke-width="0.9"/>
<line x1="86.60" y1="120.80" x2="86.60" y2="124.80" stroke="#555" stroke-width="0.9"/>
<line x1="94.35" y1="120.80" x2="94.35" y2="122.80" stroke="#555" stroke-width="0.9"/>
<line x1="98.89" y1="120.80" x2="98.89" y2="122.80" stroke="#555" stroke-width="0.9"/>
<line x1="102.10" y1="120.80" x2="102.10" y2="122.80" stroke="#555" stroke-width="0.9"/>
<line x1="104.60" y1="120.80" x2="104.60" y2="122.80" stroke="#555" stroke-width="0.9"/>
<line x1="106.64" y1="120.80" x2="106.64" y2="122.80" stroke="#555" stroke-width="0.9"/>
<line x1="108.36" y1="120.80" x2="108.36" y2="122.80" stroke="#555" stroke-width="0.9"/>
<line x1="109.85" y1="120.80" x2="109.85" y2="122.80" stroke="#555" stroke-width="0.9"/>
<line x1="111.17" y1="120.80" x2="111.17" y2="122.80" stroke="#555" stroke-width="0.9"/>
<line x1="112.35" y1="120.80" x2="112.35" y2="124.80" stroke="#555" stroke-width="0.9"/>
<line x1="120.10" y1="120.80" x2="120.10" y2="122.80" stroke="#555" stroke-width="0.9"/>
<g transform="translate(15.6,38.8) rotate(-90)"><text font-size="5.0" fill="#2a2a2a" text-anchor="middle">10<tspan font-size="3.8" dy="-2">5</tspan></text></g>
<g transform="translate(15.6,61.8) rotate(-90)"><text font-size="5.0" fill="#2a2a2a" text-anchor="middle">10<tspan font-size="3.8" dy="-2">4</tspan></text></g>
<g transform="translate(15.6,84.8) rotate(-90)"><text font-size="5.0" fill="#2a2a2a" text-anchor="middle">10<tspan font-size="3.8" dy="-2">3</tspan></text></g>
<g transform="translate(15.6,107.8) rotate(-90)"><text font-size="5.0" fill="#2a2a2a" text-anchor="middle">10<tspan font-size="3.8" dy="-2">2</tspan></text></g>
<text x="35.5" y="130.0" font-size="5.0" fill="#2a2a2a" text-anchor="middle">10<tspan font-size="3.8" dy="-2">2</tspan></text>
<text x="61.2" y="130.0" font-size="5.0" fill="#2a2a2a" text-anchor="middle">10<tspan font-size="3.8" dy="-2">3</tspan></text>
<text x="86.9" y="130.0" font-size="5.0" fill="#2a2a2a" text-anchor="middle">10<tspan font-size="3.8" dy="-2">4</tspan></text>
<text x="112.7" y="130.0" font-size="5.0" fill="#2a2a2a" text-anchor="middle">10<tspan font-size="3.8" dy="-2">5</tspan></text>
<text transform="translate(9.2,75.7) rotate(-90)" font-size="6.3" fill="#333" text-anchor="middle" textLength="31.5" lengthAdjust="spacingAndGlyphs">BrdU APC-A</text>
<text x="51.5" y="138.6" font-size="6.8" font-weight="normal" text-anchor="start" fill="#222" textLength="41.3" lengthAdjust="spacingAndGlyphs">7AAD PE-Cy5-A</text>
<text transform="translate(74.4,74.7) scale(0.93,1)" font-size="9" font-weight="bold" fill="#111">26.3</text>
<text transform="translate(71.3,103.7) scale(0.93,1)" font-size="9" font-weight="bold" fill="#111">15.4</text>
<text transform="translate(30.9,118.8) scale(0.93,1)" font-size="9" font-weight="bold" fill="#111">1.1</text>
<text transform="translate(48.9,132.0) scale(0.93,1)" font-size="9" font-weight="bold" fill="#111">47.6</text>
<text x="183.9" y="25.4" font-size="13" font-weight="normal" text-anchor="start" fill="#111" >+ IL-3</text>
<path d="M186.9 79.4h.01M186.2 82.4h.01M197.3 63.0h.01M192.8 69.9h.01M182.5 69.1h.01M188.6 85.0h.01M194.3 59.2h.01M180.1 87.8h.01M190.1 76.7h.01M186.1 83.1h.01M190.1 76.2h.01M184.0 81.5h.01M183.3 63.0h.01M190.9 83.1h.01M184.9 67.8h.01M182.0 76.5h.01M194.4 62.6h.01M189.7 74.7h.01M181.1 74.4h.01M184.4 64.8h.01M198.7 61.6h.01M185.9 76.9h.01M187.1 59.5h.01M196.3 65.9h.01M187.2 85.3h.01M198.4 85.5h.01M187.2 80.6h.01M196.0 64.7h.01M198.4 61.9h.01M192.2 65.9h.01M183.3 63.0h.01M197.8 62.7h.01M197.2 63.8h.01M185.6 65.1h.01M198.8 61.7h.01M196.2 67.7h.01M198.0 80.8h.01M184.3 73.8h.01M182.2 70.8h.01M179.5 78.8h.01M190.9 66.9h.01M179.3 86.2h.01M181.5 68.5h.01M179.5 70.1h.01M187.0 74.5h.01M185.5 66.2h.01M194.7 67.1h.01M185.6 73.2h.01M184.5 80.1h.01M180.7 68.4h.01M187.4 66.5h.01M195.8 69.3h.01M187.4 72.6h.01M195.6 65.3h.01M195.6 86.5h.01M184.3 63.9h.01M194.8 68.1h.01M183.5 61.3h.01M191.3 86.2h.01M196.6 76.1h.01M187.8 87.3h.01M192.2 86.7h.01M192.8 79.2h.01M193.0 62.6h.01M184.1 60.9h.01M197.7 87.8h.01M191.1 63.5h.01M181.5 71.9h.01M186.8 64.7h.01M180.8 77.8h.01M194.8 60.8h.01M185.2 67.7h.01M189.8 76.5h.01M187.2 84.1h.01M186.8 67.8h.01M194.3 83.4h.01M196.5 63.9h.01M182.9 72.4h.01M198.4 77.0h.01M191.5 68.5h.01M198.8 64.3h.01M190.2 78.6h.01M195.2 82.6h.01M186.7 66.9h.01M198.6 75.0h.01M184.6 63.0h.01M195.1 83.6h.01M190.4 70.1h.01M192.2 87.4h.01M190.6 81.8h.01M196.6 80.9h.01M188.7 64.2h.01M192.9 83.1h.01M198.3 63.4h.01M181.3 77.5h.01M195.5 61.2h.01M191.3 66.7h.01M199.0 69.5h.01M180.6 81.7h.01M185.0 71.2h.01" stroke="#b898c4" stroke-width="1.00" stroke-linecap="round" opacity="0.7"/>
<path d="M185.9 61.0h.01M190.2 71.8h.01M189.8 66.0h.01M194.5 71.5h.01M187.7 77.7h.01M186.5 68.0h.01M184.7 75.3h.01M185.8 65.2h.01M184.3 74.5h.01M191.1 64.4h.01M189.8 73.0h.01M194.0 78.4h.01M185.1 68.7h.01M181.5 83.4h.01M190.2 81.2h.01M195.7 70.7h.01M188.7 70.4h.01M191.2 74.3h.01M180.0 78.7h.01M185.4 66.3h.01M196.6 77.4h.01M188.8 74.3h.01M187.6 60.0h.01M184.0 60.0h.01M189.1 76.6h.01M193.1 64.1h.01M189.2 74.4h.01M185.4 68.8h.01M198.6 71.6h.01M192.4 66.5h.01M187.9 79.5h.01M198.5 79.6h.01M191.4 70.4h.01M185.0 68.7h.01M191.1 63.7h.01M192.7 62.1h.01M179.1 61.9h.01M179.7 59.0h.01M193.7 68.4h.01M189.1 79.3h.01M194.3 66.0h.01M194.6 73.1h.01M188.0 73.5h.01M180.9 63.7h.01M187.5 74.9h.01M186.1 69.0h.01M192.8 81.3h.01M191.8 80.1h.01M186.0 67.5h.01M189.6 67.6h.01M185.5 83.2h.01M187.0 62.3h.01M190.4 84.7h.01M188.4 79.9h.01M185.8 66.1h.01M184.6 68.9h.01M197.2 60.8h.01M196.2 61.9h.01M186.8 76.7h.01M191.2 72.3h.01" stroke="#402050" stroke-width="0.90" stroke-linecap="round" opacity="0.7"/>
<g filter="url(#b1)"><ellipse cx="185.3" cy="79.0" rx="5.8" ry="9.0" fill="#9a2a9e"/></g>
<g filter="url(#b1)"><ellipse cx="188.0" cy="70.0" rx="4.0" ry="6.0" fill="#a048a8" opacity="0.7"/></g>
<path d="M185.3 80.3h.01M184.6 81.8h.01M184.2 78.5h.01M180.1 78.8h.01M182.2 75.7h.01M185.0 79.7h.01M179.4 68.8h.01M184.2 81.4h.01M186.6 84.0h.01M190.0 81.6h.01M185.2 72.1h.01M181.9 75.6h.01M186.3 79.9h.01M185.3 77.6h.01M187.6 79.8h.01M186.4 80.4h.01M183.3 72.1h.01M187.1 81.1h.01M184.5 75.9h.01M193.5 73.8h.01M184.5 80.1h.01M181.1 79.2h.01M191.8 84.3h.01M187.6 82.2h.01M185.7 84.4h.01M184.7 75.9h.01M185.7 84.1h.01M186.5 82.7h.01M193.7 86.8h.01M184.2 73.2h.01M186.3 72.4h.01M187.9 75.2h.01M188.8 86.9h.01M182.8 69.8h.01M183.1 77.1h.01M189.0 69.1h.01M187.5 81.9h.01M185.3 71.2h.01M187.2 80.9h.01M187.9 81.1h.01M190.9 70.2h.01M181.2 76.2h.01M182.9 82.8h.01M190.8 83.3h.01M183.9 82.3h.01M188.2 71.9h.01M186.6 82.9h.01M189.7 73.4h.01M185.7 73.3h.01M187.4 73.1h.01M188.6 80.9h.01M188.8 77.6h.01M184.7 87.0h.01M186.8 82.7h.01M191.9 80.6h.01M190.3 69.3h.01M188.4 77.0h.01M184.8 78.6h.01M178.6 78.8h.01M182.7 85.7h.01M183.8 81.3h.01M183.9 82.6h.01M189.0 76.0h.01M185.5 69.7h.01M186.4 83.8h.01M183.3 85.4h.01M180.3 75.5h.01M185.4 78.0h.01M185.1 83.0h.01M183.6 70.7h.01M190.5 81.5h.01M182.3 78.5h.01M188.4 86.0h.01M182.1 83.2h.01M186.2 85.3h.01M190.3 76.4h.01M180.1 81.0h.01M191.7 82.8h.01M181.6 84.1h.01M183.2 78.8h.01M185.6 87.9h.01M181.9 75.2h.01M179.6 81.5h.01M183.7 81.1h.01M181.4 76.3h.01M189.0 77.4h.01M187.6 81.8h.01M184.0 68.8h.01M188.8 79.6h.01M188.8 66.0h.01M179.3 65.2h.01M182.1 85.0h.01M187.3 78.3h.01M185.8 83.2h.01M184.2 81.0h.01M185.8 64.9h.01M183.9 86.9h.01M183.9 77.6h.01M183.1 75.5h.01M189.3 76.8h.01M183.2 66.3h.01M178.7 83.4h.01M187.9 66.6h.01M188.4 81.3h.01M182.5 83.1h.01M179.4 71.0h.01M180.1 71.6h.01M188.5 70.2h.01M181.2 72.6h.01M186.0 76.4h.01M188.4 74.1h.01M180.7 75.4h.01M185.4 72.7h.01M183.2 78.7h.01M190.1 74.4h.01M182.2 71.6h.01M186.7 81.6h.01M184.7 78.7h.01M189.8 83.8h.01M180.2 78.3h.01M185.6 82.8h.01M184.4 74.3h.01M183.6 67.3h.01M185.1 74.6h.01M186.9 72.0h.01M183.6 72.2h.01M181.3 82.6h.01M183.5 81.0h.01M181.1 78.9h.01M179.1 75.3h.01M183.4 81.9h.01M185.8 77.2h.01M188.2 79.4h.01M187.1 83.0h.01M184.9 76.4h.01M186.3 75.6h.01M186.5 85.1h.01M188.2 75.9h.01M180.5 77.9h.01M184.7 85.1h.01M183.8 76.9h.01M187.8 75.3h.01M190.5 82.1h.01M186.1 72.2h.01M187.1 78.6h.01M185.9 75.0h.01M185.1 77.1h.01M186.3 87.0h.01M186.4 67.9h.01M181.6 68.4h.01M182.3 81.7h.01M186.6 74.5h.01M186.1 73.5h.01M180.0 69.5h.01M182.0 87.0h.01M180.3 85.9h.01M189.9 77.1h.01M184.9 74.4h.01M185.0 82.3h.01M185.2 84.4h.01M189.4 80.3h.01M186.3 77.8h.01M186.4 71.3h.01M186.6 79.5h.01M181.6 72.8h.01M186.1 66.2h.01M182.3 68.7h.01M181.6 77.4h.01M186.3 85.0h.01M188.0 85.5h.01M187.2 75.3h.01M189.1 75.1h.01M182.9 87.6h.01M187.9 79.5h.01M187.8 83.6h.01M180.2 77.6h.01M180.9 78.9h.01M182.7 86.6h.01M187.0 73.1h.01M185.0 70.7h.01M185.2 81.5h.01M186.0 66.2h.01M183.9 81.3h.01M186.2 85.3h.01M180.5 81.4h.01M182.8 79.4h.01M186.6 82.4h.01M183.0 79.3h.01M180.9 69.4h.01M187.1 77.8h.01M179.3 72.9h.01M185.2 87.8h.01M188.9 83.1h.01M178.7 77.5h.01M186.8 80.6h.01M186.6 76.7h.01M191.4 87.3h.01M184.8 72.1h.01M192.5 74.7h.01M181.7 79.9h.01M183.8 81.3h.01M187.2 78.1h.01M189.1 76.5h.01M182.1 75.1h.01M185.2 71.6h.01M182.3 74.8h.01M183.7 72.1h.01M181.2 79.1h.01M193.7 82.7h.01M187.8 68.8h.01M185.0 70.8h.01M187.9 76.7h.01M185.2 77.6h.01M183.0 68.7h.01M187.2 69.6h.01M180.8 76.3h.01M182.5 79.8h.01M188.7 79.7h.01M185.8 78.3h.01M188.2 66.7h.01M186.4 72.4h.01M180.6 78.2h.01M183.7 81.8h.01M189.1 63.7h.01M188.2 87.1h.01M185.5 69.2h.01M181.0 82.5h.01M188.5 73.6h.01M184.1 79.8h.01M178.8 76.0h.01M183.2 73.1h.01M186.3 79.3h.01M183.8 77.1h.01M188.7 74.4h.01M185.4 80.6h.01M188.6 78.8h.01M191.3 76.6h.01M182.9 75.3h.01M188.7 79.8h.01M182.2 80.3h.01M187.0 82.5h.01M182.3 83.8h.01M191.8 75.5h.01M187.8 68.5h.01M185.3 79.4h.01M183.0 76.3h.01M184.3 67.9h.01M189.7 81.9h.01M187.6 79.3h.01M193.5 78.6h.01M187.0 66.7h.01M183.0 73.9h.01M185.0 80.3h.01M181.3 75.4h.01M186.0 70.4h.01M187.2 82.1h.01M185.4 79.9h.01M181.7 67.8h.01M182.8 76.2h.01M183.5 83.0h.01M183.1 75.0h.01M181.1 83.8h.01M183.6 79.6h.01M186.5 81.6h.01M189.6 77.0h.01M184.5 82.6h.01M186.7 76.7h.01M185.3 75.1h.01M187.7 84.0h.01M179.6 76.7h.01M191.3 75.6h.01M179.4 86.9h.01M187.1 70.8h.01M187.9 71.8h.01M180.3 77.3h.01M183.4 71.4h.01M183.8 72.0h.01M185.3 78.1h.01M187.8 75.4h.01M180.3 70.0h.01M184.2 87.8h.01M188.2 74.2h.01M188.5 71.0h.01M188.8 75.8h.01M187.9 82.1h.01M184.1 80.2h.01M181.3 77.7h.01M187.7 78.8h.01M181.5 84.8h.01M179.2 73.2h.01M186.4 70.7h.01M190.7 85.0h.01M183.1 74.8h.01M180.4 69.5h.01M186.7 82.1h.01M186.4 79.9h.01M183.1 80.5h.01M179.8 78.3h.01M190.5 86.4h.01M183.5 76.1h.01M179.7 75.6h.01M186.0 85.8h.01M182.1 82.2h.01M186.7 77.4h.01M183.9 84.8h.01M187.6 71.5h.01M185.9 69.9h.01M182.4 70.2h.01M180.3 73.9h.01M181.6 81.5h.01M188.0 76.7h.01M181.1 83.2h.01M187.8 82.3h.01M188.7 76.9h.01M180.6 75.1h.01M187.2 73.4h.01M182.6 69.5h.01M180.9 83.5h.01M186.8 71.0h.01M181.2 74.7h.01M187.1 70.9h.01M184.5 64.9h.01M180.6 80.8h.01M188.4 71.0h.01M182.3 83.2h.01M183.7 74.9h.01M187.0 79.4h.01M189.2 83.2h.01M183.1 77.5h.01M184.9 69.8h.01M181.6 84.3h.01M179.4 84.4h.01M186.2 77.4h.01M187.1 81.2h.01M189.5 75.7h.01M184.3 76.7h.01M191.9 84.1h.01M181.8 76.2h.01M182.6 78.3h.01M186.7 73.9h.01M184.6 75.2h.01M185.3 84.5h.01M179.7 86.4h.01M183.8 87.6h.01M186.6 85.9h.01M187.2 85.0h.01M185.4 73.1h.01M187.6 82.7h.01M192.7 65.8h.01M184.5 84.9h.01M180.7 76.9h.01M192.8 87.1h.01M182.0 87.2h.01M189.5 83.1h.01M186.6 79.8h.01M182.0 75.1h.01M187.8 79.2h.01M191.9 76.2h.01M186.2 80.7h.01M185.4 73.2h.01M190.6 74.2h.01M187.8 76.5h.01M180.9 87.1h.01M186.8 76.1h.01M187.9 77.7h.01M184.4 77.4h.01M181.3 73.7h.01M187.6 81.9h.01M185.2 74.0h.01M187.7 67.8h.01M184.0 76.8h.01M182.2 79.3h.01M182.8 73.4h.01M191.7 83.0h.01M189.6 78.7h.01M188.7 83.3h.01M184.4 80.0h.01M180.2 78.6h.01M187.5 74.9h.01M189.4 86.4h.01M183.8 87.3h.01M191.6 81.3h.01M181.7 87.6h.01M184.7 76.1h.01M185.7 75.2h.01M189.2 83.3h.01M189.7 82.1h.01M182.4 77.5h.01M188.5 76.0h.01M195.8 77.0h.01M183.2 85.6h.01M188.0 78.3h.01M184.5 81.1h.01M188.3 83.2h.01M184.2 81.2h.01M188.3 83.2h.01M182.5 77.1h.01M185.9 84.2h.01M187.5 77.7h.01M183.1 80.4h.01M190.9 80.6h.01M183.9 77.8h.01M189.1 81.4h.01M184.3 84.0h.01M186.9 79.2h.01M186.4 80.1h.01M184.1 75.7h.01M185.4 72.6h.01M180.8 86.6h.01M184.4 78.4h.01M184.8 78.6h.01M185.4 78.9h.01M182.4 84.3h.01M182.8 84.9h.01M188.9 77.6h.01M182.9 80.8h.01M181.5 79.0h.01M183.0 81.8h.01M188.5 73.2h.01M191.1 74.8h.01M190.8 78.0h.01M183.0 73.9h.01M181.4 86.9h.01M184.6 63.9h.01M188.3 76.2h.01M184.4 85.7h.01M185.3 73.8h.01M187.1 74.8h.01M189.7 84.5h.01M185.5 82.3h.01M187.3 76.8h.01M188.5 77.1h.01M187.5 72.6h.01M185.7 81.1h.01M182.5 75.9h.01M183.4 83.0h.01M182.7 81.2h.01M190.8 80.7h.01M179.5 79.3h.01M189.1 76.8h.01M189.3 82.4h.01M186.8 76.9h.01M183.5 77.0h.01M185.6 81.8h.01M186.8 76.7h.01M185.6 81.0h.01M179.5 73.8h.01M182.5 77.3h.01M184.4 77.0h.01M182.2 82.8h.01M186.3 68.4h.01M185.4 71.6h.01M191.5 75.8h.01M183.9 79.1h.01M184.6 78.2h.01M190.9 80.0h.01M188.4 85.6h.01M187.8 84.5h.01M182.3 83.7h.01M186.9 75.3h.01M193.6 82.1h.01M184.5 79.8h.01M188.6 85.6h.01M187.5 86.2h.01M190.7 71.0h.01M183.6 72.8h.01M185.7 87.6h.01M187.7 72.1h.01M184.3 85.0h.01M183.5 78.0h.01M186.5 67.3h.01M188.2 80.7h.01M187.4 72.6h.01M182.6 74.9h.01M186.3 79.1h.01M190.1 74.2h.01M184.2 87.2h.01M191.1 75.3h.01M184.4 79.1h.01M182.3 72.6h.01" stroke="#7a1a82" stroke-width="1.10" stroke-linecap="round" opacity="0.85"/>
<path d="M181.8 78.6h.01M187.8 80.7h.01M187.9 65.3h.01M192.7 73.7h.01M188.3 73.0h.01M192.3 78.5h.01M188.8 60.7h.01M185.9 73.2h.01M196.0 75.3h.01M187.3 81.4h.01M187.2 72.2h.01M188.5 61.2h.01M192.2 75.6h.01M186.4 63.8h.01M188.7 82.9h.01M184.8 64.5h.01M189.7 60.4h.01M184.6 70.3h.01M185.2 74.9h.01M186.7 67.9h.01M185.7 77.2h.01M192.2 79.2h.01M183.2 70.1h.01M188.7 60.3h.01M194.3 74.7h.01M184.9 73.7h.01M186.2 66.7h.01M190.1 69.0h.01M181.3 67.7h.01M187.3 64.4h.01M193.6 64.3h.01M195.9 79.2h.01M183.5 73.4h.01M193.2 71.0h.01M182.3 73.3h.01M196.9 61.3h.01M190.3 72.6h.01M187.3 69.6h.01M186.3 80.3h.01M190.6 65.0h.01M195.0 62.8h.01M190.9 73.9h.01M193.3 75.2h.01M192.7 72.3h.01M192.3 75.1h.01M197.7 67.3h.01M193.3 76.0h.01M188.6 68.3h.01M189.9 61.5h.01M181.5 77.9h.01M180.7 83.3h.01M186.6 74.4h.01M188.2 75.7h.01M186.6 69.8h.01M187.3 80.4h.01M193.1 82.1h.01M189.5 71.1h.01M180.1 77.4h.01M191.7 69.5h.01M191.6 82.2h.01M188.3 80.5h.01M189.3 59.6h.01M185.7 69.5h.01M190.3 66.1h.01M185.8 65.4h.01M187.7 73.1h.01M192.3 78.6h.01M188.6 74.4h.01M188.4 73.4h.01M187.0 74.9h.01M193.1 64.4h.01M189.4 79.0h.01M185.8 58.3h.01M186.2 63.6h.01M190.8 66.2h.01M196.0 73.6h.01M184.1 68.8h.01M182.8 75.5h.01M194.7 71.0h.01M192.1 65.5h.01M181.4 81.8h.01M193.3 58.5h.01M181.3 65.3h.01M192.3 69.4h.01M187.1 77.9h.01M188.4 74.3h.01M186.4 81.0h.01M184.3 85.1h.01M186.3 66.6h.01M190.8 76.0h.01M178.7 74.2h.01M181.6 66.3h.01M191.5 66.1h.01M189.5 69.7h.01M196.7 71.8h.01M182.4 64.3h.01M183.7 73.5h.01M187.8 79.8h.01M188.6 73.5h.01M189.3 71.5h.01M189.2 78.4h.01M191.4 68.4h.01M179.7 66.4h.01M185.6 75.8h.01M185.2 64.1h.01M195.9 82.9h.01M186.6 82.4h.01M193.8 64.0h.01M186.6 64.2h.01M188.1 62.6h.01M187.7 80.5h.01M188.7 70.4h.01M194.9 65.7h.01M192.2 70.1h.01M188.7 72.6h.01M188.3 72.0h.01M184.1 68.1h.01M189.8 71.6h.01M182.4 67.1h.01M184.5 71.9h.01M188.5 73.0h.01M184.7 72.5h.01M187.4 59.9h.01M183.3 63.2h.01M190.6 63.2h.01M188.9 68.6h.01M182.0 60.4h.01M189.8 75.1h.01M191.2 85.9h.01M188.9 74.3h.01M187.0 73.0h.01M186.0 65.5h.01M196.8 58.2h.01M188.8 75.4h.01M188.3 64.9h.01M186.7 68.6h.01M182.6 71.7h.01M185.7 67.9h.01M190.7 64.1h.01M189.5 67.5h.01M189.5 72.5h.01M188.6 64.7h.01M183.9 65.6h.01M188.3 77.6h.01M192.4 68.2h.01M187.9 59.8h.01M184.4 60.3h.01M179.3 75.9h.01M183.8 59.3h.01M198.1 73.2h.01M186.0 77.0h.01M183.9 83.8h.01M180.4 62.1h.01M186.8 66.1h.01M193.9 59.8h.01M184.0 73.6h.01M190.0 79.3h.01M185.2 73.1h.01M191.3 69.4h.01M186.0 68.3h.01M184.4 63.3h.01M184.8 60.2h.01M189.1 59.8h.01M196.8 84.4h.01M192.4 70.1h.01M184.6 80.8h.01M188.1 75.9h.01M184.0 79.6h.01M183.6 72.5h.01M179.4 66.8h.01M189.6 68.3h.01M185.2 77.5h.01M186.9 80.9h.01M189.6 60.1h.01M181.3 78.2h.01M182.4 66.9h.01M190.0 69.1h.01M189.4 65.1h.01M188.6 79.7h.01M190.2 72.0h.01M183.1 82.0h.01M179.3 85.6h.01M184.4 83.4h.01M187.1 61.7h.01M187.7 74.1h.01M189.7 79.5h.01M183.1 75.3h.01M190.6 69.6h.01M183.0 64.5h.01M190.7 77.6h.01M183.5 61.6h.01M192.9 60.0h.01M188.0 65.6h.01M179.2 72.5h.01M186.4 82.3h.01M197.6 70.2h.01M191.9 79.4h.01M184.8 65.1h.01M194.6 68.9h.01M187.1 69.4h.01" stroke="#aa58b0" stroke-width="1.00" stroke-linecap="round" opacity="0.8"/>
<path d="M184.0 85.6h.01M183.5 65.2h.01M190.2 73.4h.01M184.7 71.7h.01M180.6 76.9h.01M188.3 84.9h.01M182.5 82.9h.01M183.4 80.5h.01M185.5 83.6h.01M182.5 79.1h.01M185.8 80.4h.01M183.1 84.4h.01M185.7 87.1h.01M184.0 72.5h.01M186.9 72.5h.01M183.0 87.8h.01M179.3 78.7h.01M183.7 87.7h.01M182.2 75.0h.01M188.9 83.5h.01M187.4 76.2h.01M185.8 81.4h.01M182.9 76.3h.01M182.2 78.2h.01M179.6 79.6h.01M178.9 80.3h.01M184.5 73.6h.01M190.1 71.7h.01M189.9 81.1h.01M184.7 76.3h.01M187.0 77.3h.01M182.2 77.3h.01M180.7 79.8h.01M183.3 75.3h.01M186.4 83.1h.01M179.2 73.6h.01M189.6 81.7h.01M186.9 76.8h.01M183.4 82.5h.01M182.9 73.2h.01M184.9 85.2h.01M180.8 86.1h.01M187.6 74.7h.01M184.9 79.5h.01M187.4 83.8h.01M179.7 71.8h.01M188.9 80.5h.01M186.5 81.8h.01M190.9 72.6h.01M189.2 74.9h.01" stroke="#2a1a3a" stroke-width="0.90" stroke-linecap="round" opacity="0.7"/>
<path d="M181.3 83.8h.01M183.7 81.2h.01M182.1 83.0h.01M183.8 80.7h.01M182.2 79.7h.01M181.7 86.7h.01M182.6 79.3h.01M183.9 83.3h.01M181.9 86.6h.01M181.9 80.8h.01M181.1 85.0h.01M181.0 80.3h.01M180.9 79.8h.01M179.5 80.0h.01M181.5 81.6h.01M179.9 84.9h.01M182.1 85.6h.01M179.8 84.0h.01M180.3 83.0h.01M181.2 83.7h.01M181.9 86.3h.01M182.1 81.8h.01M183.0 80.3h.01M182.9 83.6h.01M180.3 85.0h.01M179.6 79.3h.01M180.4 83.0h.01M182.2 81.5h.01M181.9 86.8h.01M184.0 84.8h.01" stroke="#4a3ab0" stroke-width="1.10" stroke-linecap="round" opacity="0.85"/>
<rect x="178.50" y="86.80" width="14.50" height="3.60" fill="#ff2a2a" stroke="none" stroke-width="1" />
<path d="M191.5 87.3h.01M191.6 88.9h.01M189.9 94.4h.01M192.8 92.3h.01M194.0 88.9h.01M190.1 93.7h.01M190.9 90.6h.01M193.3 95.0h.01M190.9 92.6h.01M189.5 89.0h.01M189.3 92.5h.01M189.7 92.3h.01M190.3 93.6h.01M191.2 89.0h.01M189.9 87.7h.01M190.3 89.7h.01M191.0 92.3h.01M191.7 89.9h.01M189.1 91.7h.01M188.4 87.4h.01M192.2 88.3h.01M193.5 92.4h.01M191.4 94.5h.01M188.9 89.5h.01M191.3 94.7h.01M194.0 88.2h.01M192.6 92.5h.01M190.3 91.3h.01M191.0 91.5h.01M193.8 91.9h.01M190.0 91.8h.01M192.4 88.1h.01M193.0 89.4h.01M191.3 89.1h.01M189.8 94.0h.01M193.0 87.5h.01M193.0 94.4h.01M192.6 92.5h.01M189.7 92.6h.01M190.5 94.4h.01M192.6 89.6h.01M189.3 88.7h.01M188.6 89.2h.01M192.8 89.4h.01M189.9 87.5h.01" stroke="#ff4a3a" stroke-width="1.20" stroke-linecap="round" opacity="0.9"/>
<path d="M186.3 90.9h.01M194.4 88.3h.01M187.0 89.5h.01M184.6 90.3h.01M184.1 86.2h.01M187.7 88.3h.01M184.1 87.4h.01M194.8 89.9h.01M184.6 90.4h.01M189.1 90.9h.01M187.5 87.5h.01M191.5 88.4h.01M187.0 88.6h.01M191.0 87.6h.01M193.1 89.7h.01M192.3 89.3h.01M186.5 89.5h.01M185.9 86.7h.01M189.5 86.9h.01M185.4 89.0h.01M194.7 86.3h.01M188.9 86.5h.01M189.9 88.9h.01M189.4 86.2h.01M191.7 88.5h.01" stroke="#ff9a50" stroke-width="1.10" stroke-linecap="round" opacity="0.9"/>
<path d="M178.3 88.3h.01M175.8 88.8h.01M169.0 84.6h.01M169.6 88.0h.01M174.9 92.0h.01M177.9 89.9h.01M172.2 86.8h.01M175.7 86.8h.01M176.4 89.8h.01M169.3 90.4h.01M169.0 86.5h.01M178.7 89.2h.01M177.4 91.4h.01M170.9 90.4h.01M172.1 84.5h.01M169.2 85.0h.01M174.9 89.1h.01M177.3 86.4h.01M176.4 86.1h.01M171.5 89.2h.01M172.3 92.0h.01M171.5 85.9h.01M177.7 91.0h.01M169.8 86.7h.01M173.6 84.5h.01" stroke="#f8c0a0" stroke-width="1.00" stroke-linecap="round" opacity="0.7"/>
<g filter="url(#b05)"><polygon points="178.8,90.2 187.8,90.2 187.2,96.0 186.2,103.5 183.6,103.5 180.8,97.0" fill="#3c3cb2"/></g>
<path d="M183.8 96.6h.01M184.9 97.5h.01M185.5 95.7h.01M180.8 91.0h.01M182.1 96.2h.01M180.9 91.8h.01M184.8 92.1h.01M181.3 95.7h.01M185.8 92.0h.01M184.8 94.5h.01M187.1 94.9h.01M181.7 93.8h.01M183.7 102.9h.01M183.7 100.1h.01M183.5 91.3h.01M184.1 98.1h.01M184.2 94.2h.01M181.2 94.6h.01M181.4 97.0h.01M183.4 99.7h.01M182.8 90.8h.01M185.0 99.6h.01M184.7 101.5h.01M185.8 101.2h.01M184.1 98.1h.01M184.3 93.8h.01M184.2 103.0h.01M184.2 90.7h.01M184.4 95.3h.01M182.7 92.7h.01M184.2 99.2h.01M185.1 93.9h.01M183.7 91.3h.01M183.9 94.3h.01M183.6 100.2h.01M180.8 90.7h.01M183.1 93.7h.01M184.3 94.9h.01M183.6 96.3h.01M185.2 92.0h.01M183.4 92.6h.01M185.2 92.7h.01M180.4 94.0h.01M182.4 100.8h.01M182.1 92.7h.01M186.9 90.7h.01M185.9 103.0h.01M185.8 90.8h.01M182.8 93.7h.01M182.3 95.3h.01M182.4 90.3h.01M181.2 94.1h.01M184.6 99.5h.01M185.6 98.7h.01M186.8 97.6h.01" stroke="#2a2a98" stroke-width="1.10" stroke-linecap="round" opacity="0.9"/>
<path d="M186.9 91.4h.01M183.2 94.3h.01M180.6 91.9h.01M186.0 95.5h.01M183.1 97.9h.01M186.1 90.3h.01M180.7 92.8h.01M182.6 98.7h.01M183.1 90.5h.01M182.3 94.9h.01M181.3 91.9h.01M179.8 90.5h.01M185.6 97.3h.01M183.5 95.7h.01M183.1 99.4h.01M186.7 92.6h.01M185.4 101.4h.01M181.7 90.3h.01M184.8 92.9h.01M185.3 102.8h.01M183.0 96.5h.01M185.3 90.8h.01M185.6 101.0h.01M184.2 101.0h.01M183.0 95.6h.01M185.1 96.4h.01M181.6 93.7h.01M182.7 95.3h.01M185.6 100.6h.01M186.0 101.4h.01" stroke="#c8c8f0" stroke-width="0.90" stroke-linecap="round" opacity="0.8"/>
<path d="M170.7 97.6h.01M170.7 93.9h.01M160.4 99.6h.01M174.4 96.0h.01M170.6 92.7h.01M167.3 96.7h.01M171.2 93.8h.01M161.5 99.7h.01M173.6 93.4h.01M173.2 98.5h.01M162.9 98.4h.01M166.1 94.7h.01M162.6 96.7h.01M169.8 96.1h.01M161.6 98.4h.01M165.1 94.1h.01M170.3 93.5h.01M174.6 97.2h.01M172.6 94.7h.01M166.9 94.0h.01" stroke="#9ccc9c" stroke-width="1.00" stroke-linecap="round" opacity="0.8"/>
<rect x="178.30" y="57.40" width="21.40" height="30.40" fill="none" stroke="#5a5a5a" stroke-width="1.0" />
<rect x="155.60" y="90.50" width="21.00" height="31.00" fill="none" stroke="#666" stroke-width="1.0" />
<rect x="176.60" y="90.50" width="8.90" height="31.00" fill="none" stroke="#777" stroke-width="0.9" />
<rect x="185.60" y="93.50" width="10.20" height="28.00" fill="none" stroke="#888" stroke-width="0.9" />
<text x="163.3" y="109.0" font-size="6.0" font-weight="normal" text-anchor="start" fill="#333" >apoptotic</text>
<text x="186.5" y="109.0" font-size="5.8" font-weight="normal" text-anchor="start" fill="#444" >G1</text>
<text x="187.0" y="118.4" font-size="5.8" font-weight="normal" text-anchor="start" fill="#555" >G2/M</text>
<rect x="148.10" y="28.60" width="102.20" height="92.90" fill="none" stroke="#7d7d7d" stroke-width="1.3" />
<line x1="146.10" y1="119.83" x2="148.10" y2="119.83" stroke="#555" stroke-width="0.9"/>
<line x1="146.10" y1="116.95" x2="148.10" y2="116.95" stroke="#555" stroke-width="0.9"/>
<line x1="146.10" y1="114.72" x2="148.10" y2="114.72" stroke="#555" stroke-width="0.9"/>
<line x1="146.10" y1="112.90" x2="148.10" y2="112.90" stroke="#555" stroke-width="0.9"/>
<line x1="146.10" y1="111.36" x2="148.10" y2="111.36" stroke="#555" stroke-width="0.9"/>
<line x1="146.10" y1="110.03" x2="148.10" y2="110.03" stroke="#555" stroke-width="0.9"/>
<line x1="146.10" y1="108.85" x2="148.10" y2="108.85" stroke="#555" stroke-width="0.9"/>
<line x1="144.10" y1="107.80" x2="148.10" y2="107.80" stroke="#555" stroke-width="0.9"/>
<line x1="146.10" y1="100.88" x2="148.10" y2="100.88" stroke="#555" stroke-width="0.9"/>
<line x1="146.10" y1="96.83" x2="148.10" y2="96.83" stroke="#555" stroke-width="0.9"/>
<line x1="146.10" y1="93.95" x2="148.10" y2="93.95" stroke="#555" stroke-width="0.9"/>
<line x1="146.10" y1="91.72" x2="148.10" y2="91.72" stroke="#555" stroke-width="0.9"/>
<line x1="146.10" y1="89.90" x2="148.10" y2="89.90" stroke="#555" stroke-width="0.9"/>
<line x1="146.10" y1="88.36" x2="148.10" y2="88.36" stroke="#555" stroke-width="0.9"/>
<line x1="146.10" y1="87.03" x2="148.10" y2="87.03" stroke="#555" stroke-width="0.9"/>
<line x1="146.10" y1="85.85" x2="148.10" y2="85.85" stroke="#555" stroke-width="0.9"/>
<line x1="144.10" y1="84.80" x2="148.10" y2="84.80" stroke="#555" stroke-width="0.9"/>
<line x1="146.10" y1="77.88" x2="148.10" y2="77.88" stroke="#555" stroke-width="0.9"/>
<line x1="146.10" y1="73.83" x2="148.10" y2="73.83" stroke="#555" stroke-width="0.9"/>
<line x1="146.10" y1="70.95" x2="148.10" y2="70.95" stroke="#555" stroke-width="0.9"/>
<line x1="146.10" y1="68.72" x2="148.10" y2="68.72" stroke="#555" stroke-width="0.9"/>
<line x1="146.10" y1="66.90" x2="148.10" y2="66.90" stroke="#555" stroke-width="0.9"/>
<line x1="146.10" y1="65.36" x2="148.10" y2="65.36" stroke="#555" stroke-width="0.9"/>
<line x1="146.10" y1="64.03" x2="148.10" y2="64.03" stroke="#555" stroke-width="0.9"/>
<line x1="146.10" y1="62.85" x2="148.10" y2="62.85" stroke="#555" stroke-width="0.9"/>
<line x1="144.10" y1="61.80" x2="148.10" y2="61.80" stroke="#555" stroke-width="0.9"/>
<line x1="146.10" y1="54.88" x2="148.10" y2="54.88" stroke="#555" stroke-width="0.9"/>
<line x1="146.10" y1="50.83" x2="148.10" y2="50.83" stroke="#555" stroke-width="0.9"/>
<line x1="146.10" y1="47.95" x2="148.10" y2="47.95" stroke="#555" stroke-width="0.9"/>
<line x1="146.10" y1="45.72" x2="148.10" y2="45.72" stroke="#555" stroke-width="0.9"/>
<line x1="146.10" y1="43.90" x2="148.10" y2="43.90" stroke="#555" stroke-width="0.9"/>
<line x1="146.10" y1="42.36" x2="148.10" y2="42.36" stroke="#555" stroke-width="0.9"/>
<line x1="146.10" y1="41.03" x2="148.10" y2="41.03" stroke="#555" stroke-width="0.9"/>
<line x1="146.10" y1="39.85" x2="148.10" y2="39.85" stroke="#555" stroke-width="0.9"/>
<line x1="144.10" y1="38.80" x2="148.10" y2="38.80" stroke="#555" stroke-width="0.9"/>
<line x1="146.10" y1="31.88" x2="148.10" y2="31.88" stroke="#555" stroke-width="0.9"/>
<line x1="148.86" y1="121.50" x2="148.86" y2="123.50" stroke="#555" stroke-width="0.9"/>
<line x1="152.07" y1="121.50" x2="152.07" y2="123.50" stroke="#555" stroke-width="0.9"/>
<line x1="154.56" y1="121.50" x2="154.56" y2="123.50" stroke="#555" stroke-width="0.9"/>
<line x1="156.60" y1="121.50" x2="156.60" y2="123.50" stroke="#555" stroke-width="0.9"/>
<line x1="158.32" y1="121.50" x2="158.32" y2="123.50" stroke="#555" stroke-width="0.9"/>
<line x1="159.81" y1="121.50" x2="159.81" y2="123.50" stroke="#555" stroke-width="0.9"/>
<line x1="161.12" y1="121.50" x2="161.12" y2="123.50" stroke="#555" stroke-width="0.9"/>
<line x1="162.30" y1="121.50" x2="162.30" y2="125.50" stroke="#555" stroke-width="0.9"/>
<line x1="170.04" y1="121.50" x2="170.04" y2="123.50" stroke="#555" stroke-width="0.9"/>
<line x1="174.56" y1="121.50" x2="174.56" y2="123.50" stroke="#555" stroke-width="0.9"/>
<line x1="177.77" y1="121.50" x2="177.77" y2="123.50" stroke="#555" stroke-width="0.9"/>
<line x1="180.26" y1="121.50" x2="180.26" y2="123.50" stroke="#555" stroke-width="0.9"/>
<line x1="182.30" y1="121.50" x2="182.30" y2="123.50" stroke="#555" stroke-width="0.9"/>
<line x1="184.02" y1="121.50" x2="184.02" y2="123.50" stroke="#555" stroke-width="0.9"/>
<line x1="185.51" y1="121.50" x2="185.51" y2="123.50" stroke="#555" stroke-width="0.9"/>
<line x1="186.82" y1="121.50" x2="186.82" y2="123.50" stroke="#555" stroke-width="0.9"/>
<line x1="188.00" y1="121.50" x2="188.00" y2="125.50" stroke="#555" stroke-width="0.9"/>
<line x1="195.74" y1="121.50" x2="195.74" y2="123.50" stroke="#555" stroke-width="0.9"/>
<line x1="200.26" y1="121.50" x2="200.26" y2="123.50" stroke="#555" stroke-width="0.9"/>
<line x1="203.47" y1="121.50" x2="203.47" y2="123.50" stroke="#555" stroke-width="0.9"/>
<line x1="205.96" y1="121.50" x2="205.96" y2="123.50" stroke="#555" stroke-width="0.9"/>
<line x1="208.00" y1="121.50" x2="208.00" y2="123.50" stroke="#555" stroke-width="0.9"/>
<line x1="209.72" y1="121.50" x2="209.72" y2="123.50" stroke="#555" stroke-width="0.9"/>
<line x1="211.21" y1="121.50" x2="211.21" y2="123.50" stroke="#555" stroke-width="0.9"/>
<line x1="212.52" y1="121.50" x2="212.52" y2="123.50" stroke="#555" stroke-width="0.9"/>
<line x1="213.70" y1="121.50" x2="213.70" y2="125.50" stroke="#555" stroke-width="0.9"/>
<line x1="221.44" y1="121.50" x2="221.44" y2="123.50" stroke="#555" stroke-width="0.9"/>
<line x1="225.96" y1="121.50" x2="225.96" y2="123.50" stroke="#555" stroke-width="0.9"/>
<line x1="229.17" y1="121.50" x2="229.17" y2="123.50" stroke="#555" stroke-width="0.9"/>
<line x1="231.66" y1="121.50" x2="231.66" y2="123.50" stroke="#555" stroke-width="0.9"/>
<line x1="233.70" y1="121.50" x2="233.70" y2="123.50" stroke="#555" stroke-width="0.9"/>
<line x1="235.42" y1="121.50" x2="235.42" y2="123.50" stroke="#555" stroke-width="0.9"/>
<line x1="236.91" y1="121.50" x2="236.91" y2="123.50" stroke="#555" stroke-width="0.9"/>
<line x1="238.22" y1="121.50" x2="238.22" y2="123.50" stroke="#555" stroke-width="0.9"/>
<line x1="239.40" y1="121.50" x2="239.40" y2="125.50" stroke="#555" stroke-width="0.9"/>
<line x1="247.14" y1="121.50" x2="247.14" y2="123.50" stroke="#555" stroke-width="0.9"/>
<g transform="translate(143.2,38.4) rotate(-90)"><text font-size="5.0" fill="#2a2a2a" text-anchor="middle">10<tspan font-size="3.8" dy="-2">5</tspan></text></g>
<g transform="translate(143.2,61.4) rotate(-90)"><text font-size="5.0" fill="#2a2a2a" text-anchor="middle">10<tspan font-size="3.8" dy="-2">4</tspan></text></g>
<g transform="translate(143.2,84.4) rotate(-90)"><text font-size="5.0" fill="#2a2a2a" text-anchor="middle">10<tspan font-size="3.8" dy="-2">3</tspan></text></g>
<g transform="translate(143.2,107.4) rotate(-90)"><text font-size="5.0" fill="#2a2a2a" text-anchor="middle">10<tspan font-size="3.8" dy="-2">2</tspan></text></g>
<text x="162.6" y="130.0" font-size="5.0" fill="#2a2a2a" text-anchor="middle">10<tspan font-size="3.8" dy="-2">2</tspan></text>
<text x="188.0" y="130.0" font-size="5.0" fill="#2a2a2a" text-anchor="middle">10<tspan font-size="3.8" dy="-2">3</tspan></text>
<text x="213.4" y="130.0" font-size="5.0" fill="#2a2a2a" text-anchor="middle">10<tspan font-size="3.8" dy="-2">4</tspan></text>
<text x="239.4" y="130.0" font-size="5.0" fill="#2a2a2a" text-anchor="middle">10<tspan font-size="3.8" dy="-2">5</tspan></text>
<text transform="translate(136.8,75.3) rotate(-90)" font-size="6.3" fill="#333" text-anchor="middle" textLength="31.5" lengthAdjust="spacingAndGlyphs">BrdU APC-A</text>
<text x="180.6" y="138.6" font-size="6.8" font-weight="normal" text-anchor="start" fill="#222" textLength="41.3" lengthAdjust="spacingAndGlyphs">7AAD PE-Cy5-A</text>
<text transform="translate(202.0,77.4) scale(0.93,1)" font-size="9" font-weight="bold" fill="#111">71.4</text>
<text transform="translate(197.5,105.5) scale(0.93,1)" font-size="9" font-weight="bold" fill="#111">0.7</text>
<text transform="translate(158.6,120.8) scale(0.93,1)" font-size="9" font-weight="bold" fill="#111">1.0</text>
<text transform="translate(176.8,131.4) scale(0.93,1)" font-size="9" font-weight="bold" fill="#111">13.2</text>
<text x="311.8" y="20.1" font-size="13" font-weight="normal" text-anchor="start" fill="#111" >Control</text>
<path d="M300.8 72.6h.01M297.1 60.1h.01M293.1 69.3h.01M297.8 69.5h.01M304.1 55.0h.01M297.8 73.4h.01M301.8 46.6h.01M295.5 81.8h.01M300.1 62.5h.01M290.8 66.5h.01M303.5 56.2h.01M307.7 32.0h.01M305.4 35.1h.01M301.4 42.9h.01M305.5 36.4h.01M300.4 64.2h.01M299.8 78.8h.01M310.0 33.2h.01M308.3 47.8h.01M303.0 60.1h.01M305.7 57.4h.01M301.7 44.2h.01M298.0 57.7h.01M306.1 31.5h.01M305.6 47.3h.01M293.0 65.8h.01M291.0 84.1h.01M295.8 67.2h.01M295.6 51.6h.01M305.1 38.3h.01M299.4 54.7h.01M304.6 48.6h.01M296.2 66.7h.01M292.9 67.9h.01M296.3 67.4h.01M306.8 51.7h.01M302.9 38.1h.01M301.3 63.1h.01M310.8 37.6h.01M308.1 32.9h.01M310.9 34.4h.01M308.5 37.1h.01M305.8 38.8h.01M302.6 48.2h.01M296.7 64.4h.01M285.2 75.7h.01M294.3 66.4h.01M290.2 75.7h.01M290.4 74.2h.01M311.5 37.4h.01M308.3 46.8h.01M298.9 46.4h.01M313.2 32.8h.01M304.4 53.6h.01M290.6 78.3h.01M308.3 48.0h.01M300.0 67.6h.01M295.9 79.3h.01M299.9 70.2h.01M295.5 80.4h.01M302.1 60.8h.01M290.9 70.6h.01M292.1 64.1h.01M300.3 76.1h.01M301.4 64.0h.01M310.2 35.4h.01M295.9 76.2h.01M297.7 72.5h.01M305.9 52.9h.01M292.9 85.6h.01M304.6 46.2h.01M308.9 34.3h.01M291.6 75.7h.01M312.6 35.0h.01M302.5 59.3h.01M303.4 35.0h.01M310.1 43.3h.01M296.0 48.6h.01M302.3 43.4h.01M299.2 59.4h.01M290.3 78.3h.01M290.9 77.2h.01M300.5 55.1h.01M304.0 60.9h.01M294.0 74.1h.01M298.4 46.2h.01M301.4 29.3h.01M301.0 38.5h.01M312.5 47.2h.01M301.7 36.8h.01M309.6 31.8h.01M305.1 42.2h.01M306.1 41.3h.01M304.6 39.7h.01M306.5 52.4h.01M290.3 78.8h.01M298.1 56.7h.01M301.4 48.8h.01M294.0 55.0h.01M296.8 58.3h.01M294.6 87.1h.01M302.6 47.9h.01M294.3 82.5h.01M304.2 44.6h.01M290.8 80.3h.01M299.2 41.4h.01M304.8 40.7h.01M306.9 53.4h.01M300.4 65.6h.01M308.7 51.0h.01M304.6 61.9h.01M301.7 51.4h.01M296.5 63.2h.01M294.4 47.1h.01M293.5 76.9h.01M297.8 63.0h.01M303.2 52.5h.01M311.5 43.6h.01M291.1 81.6h.01M290.3 82.7h.01M305.3 48.8h.01M302.4 49.0h.01M300.8 50.5h.01M287.6 85.2h.01M296.2 69.0h.01M309.4 34.9h.01M294.2 63.8h.01M289.1 83.7h.01M300.2 58.2h.01M287.4 84.0h.01M302.4 60.8h.01M305.7 51.7h.01M306.4 35.9h.01M309.0 61.4h.01M295.1 83.4h.01M297.6 71.0h.01M303.2 53.1h.01M295.5 84.8h.01M303.6 64.8h.01M299.6 64.1h.01M310.4 57.2h.01M295.8 70.8h.01M296.9 60.9h.01M304.1 36.8h.01M298.3 57.9h.01M300.4 54.7h.01M307.4 32.6h.01M288.5 84.9h.01M310.5 34.7h.01M293.3 63.3h.01M300.6 41.3h.01M293.4 77.0h.01M296.2 65.2h.01M297.5 55.4h.01M316.0 34.3h.01M297.1 63.4h.01M302.0 56.4h.01M302.0 37.9h.01M307.6 72.8h.01M296.2 65.0h.01M293.8 86.5h.01M304.3 48.0h.01M297.2 73.1h.01M298.0 57.2h.01M300.1 29.7h.01M287.1 78.3h.01M314.1 35.2h.01M304.9 50.1h.01M305.1 50.5h.01M288.4 85.1h.01M295.6 67.1h.01M290.8 80.4h.01M289.6 75.1h.01M301.7 60.9h.01M297.0 58.7h.01M299.4 40.5h.01M305.1 43.7h.01M292.9 77.3h.01M295.2 64.3h.01M304.0 49.3h.01M295.4 77.7h.01M296.0 82.3h.01M295.3 65.0h.01M302.5 43.0h.01M311.6 32.0h.01M307.3 37.5h.01M290.3 81.6h.01M300.8 65.1h.01M302.7 65.2h.01M307.6 43.8h.01M304.5 33.8h.01M297.6 34.6h.01M293.9 85.8h.01M306.1 37.2h.01M292.1 79.9h.01M302.0 76.1h.01M299.7 68.7h.01M308.9 34.5h.01M307.9 35.3h.01M288.2 73.4h.01M292.7 85.8h.01M293.6 74.6h.01M297.0 70.9h.01M303.4 63.8h.01M291.4 74.1h.01M294.7 79.1h.01M298.6 37.6h.01M284.1 83.0h.01M305.6 46.2h.01M296.2 78.3h.01M291.6 74.6h.01M304.5 57.8h.01M299.8 58.3h.01M305.6 54.1h.01M288.9 81.3h.01M304.2 35.6h.01M306.7 52.1h.01M298.7 77.0h.01M301.0 44.6h.01M308.4 49.6h.01M291.8 65.5h.01M310.5 32.1h.01M291.8 69.9h.01M288.2 82.9h.01M306.5 38.1h.01M300.6 53.7h.01M301.4 63.6h.01M296.6 64.5h.01M292.5 60.7h.01M308.3 44.2h.01" stroke="#e26a6a" stroke-width="1.00" stroke-linecap="round" opacity="0.8"/>
<path d="M321.6 50.0h.01M289.8 76.4h.01M316.0 49.7h.01M302.2 46.9h.01M304.0 76.0h.01M296.4 80.4h.01M302.1 53.2h.01M313.0 44.3h.01M306.2 50.2h.01M321.6 45.4h.01M311.1 45.3h.01M302.8 74.1h.01M300.3 76.6h.01M316.5 46.6h.01M294.3 81.3h.01M306.9 88.6h.01M308.0 59.5h.01M312.9 47.0h.01M299.5 79.3h.01M311.1 51.1h.01M304.6 60.7h.01M304.0 60.2h.01M304.4 60.7h.01M303.8 71.4h.01M308.9 68.8h.01M302.3 76.1h.01M308.3 52.8h.01M313.3 49.4h.01M302.8 83.6h.01M301.7 80.8h.01M311.2 73.4h.01M310.8 49.8h.01M309.7 53.1h.01M308.8 45.8h.01M295.6 77.0h.01M300.5 79.6h.01M308.3 50.7h.01M316.3 45.1h.01M295.4 85.8h.01M312.8 45.7h.01M315.0 66.2h.01M310.2 63.5h.01M313.2 58.3h.01M294.4 81.2h.01M292.1 84.2h.01M297.8 76.5h.01M307.8 74.6h.01M297.0 70.6h.01M300.2 77.9h.01M310.7 73.0h.01M295.9 82.2h.01M300.1 77.4h.01M314.7 48.4h.01M289.0 82.7h.01M311.1 67.6h.01M301.3 69.9h.01M306.1 57.5h.01M302.7 44.3h.01M296.6 75.0h.01M288.0 69.9h.01M311.4 65.6h.01M319.9 46.2h.01M308.4 43.2h.01M309.9 66.9h.01M312.2 52.8h.01M301.3 60.8h.01M302.8 54.5h.01M288.5 81.0h.01M305.0 41.6h.01M301.4 46.5h.01M315.8 44.4h.01M309.1 84.0h.01M305.0 71.7h.01M301.4 45.3h.01M297.7 76.7h.01M310.7 47.6h.01M297.9 61.0h.01M299.8 63.8h.01M312.1 50.5h.01M295.2 84.0h.01M295.5 77.1h.01M299.6 51.5h.01M316.5 46.9h.01M301.7 78.2h.01M321.3 50.3h.01M304.8 44.0h.01M315.3 46.3h.01M314.3 49.8h.01M309.0 55.1h.01M309.5 40.8h.01M297.7 76.0h.01M297.9 82.4h.01M286.7 81.6h.01M306.6 69.7h.01M305.1 64.6h.01M296.1 81.4h.01M299.8 78.9h.01M302.7 71.3h.01M298.7 86.4h.01M304.7 66.9h.01M295.2 76.4h.01M293.5 84.0h.01M307.7 58.1h.01M300.4 74.5h.01M316.5 55.7h.01M298.5 70.9h.01M294.7 84.3h.01M306.1 56.0h.01M292.8 74.1h.01M309.6 53.6h.01" stroke="#e8a0a0" stroke-width="1.00" stroke-linecap="round" opacity="0.8"/>
<path d="M302.2 38.4h.01M303.3 42.1h.01M301.4 42.1h.01M292.3 77.6h.01M307.1 39.1h.01M284.9 67.5h.01M302.8 48.3h.01M294.5 77.6h.01M302.5 35.3h.01M306.1 33.4h.01M304.2 69.1h.01M295.0 65.7h.01M307.3 43.2h.01M293.7 61.6h.01M313.2 32.7h.01M295.8 45.4h.01M306.0 42.3h.01M288.9 84.3h.01M297.2 67.7h.01M295.4 69.9h.01M306.1 46.6h.01M297.3 49.4h.01M291.8 63.2h.01M300.9 60.4h.01M297.4 67.1h.01M307.6 56.8h.01M303.0 45.7h.01M291.2 81.3h.01M290.2 63.3h.01M301.6 53.8h.01M292.5 84.2h.01M295.0 80.4h.01M296.4 53.8h.01M312.9 62.2h.01M297.3 75.7h.01M301.7 65.1h.01M315.4 38.4h.01M297.3 63.3h.01M292.4 82.4h.01M288.0 63.2h.01M290.8 82.0h.01M301.3 55.1h.01M302.6 47.6h.01M292.5 73.1h.01M301.1 62.4h.01M306.3 47.9h.01M305.9 35.5h.01M297.4 65.7h.01M303.5 53.3h.01M304.7 46.5h.01M292.1 60.6h.01M298.2 57.8h.01M304.6 37.3h.01M307.1 54.8h.01M304.0 33.9h.01M302.9 46.5h.01M303.4 43.4h.01M302.5 44.3h.01M287.5 71.8h.01M300.8 78.7h.01M296.1 67.2h.01M304.2 51.6h.01M307.2 40.2h.01M291.5 75.9h.01M314.4 50.7h.01M299.7 29.3h.01M307.7 33.2h.01M309.6 45.8h.01M301.1 35.4h.01M306.2 38.1h.01" stroke="#c83434" stroke-width="0.90" stroke-linecap="round" opacity="0.8"/>
<path d="M293.8 77.3h.01M289.7 83.5h.01M290.3 82.0h.01M297.0 71.4h.01M291.1 81.2h.01M297.6 79.1h.01M294.3 78.5h.01M297.9 74.8h.01M294.6 78.1h.01M292.7 72.4h.01M289.8 85.0h.01M290.9 83.0h.01M294.5 73.9h.01M289.2 76.1h.01M296.9 71.6h.01M290.6 87.0h.01M289.2 87.7h.01M289.6 78.1h.01M293.2 88.2h.01M290.1 82.5h.01M290.9 79.6h.01M284.3 85.5h.01M295.5 75.7h.01M296.6 75.3h.01M297.0 74.0h.01M290.0 70.9h.01M293.3 84.3h.01M291.3 79.8h.01M292.1 78.0h.01M294.0 70.2h.01M295.9 73.9h.01M296.3 76.1h.01M292.3 79.7h.01M291.6 78.9h.01M294.6 81.2h.01M293.4 75.9h.01M291.4 83.4h.01M288.4 86.6h.01M292.1 82.1h.01M292.5 82.0h.01M288.4 84.3h.01M288.8 79.3h.01M292.2 78.5h.01M289.1 78.8h.01M292.0 79.3h.01M292.6 85.8h.01M289.1 85.8h.01M285.8 79.2h.01M288.2 83.6h.01M290.8 84.8h.01M291.8 82.0h.01M290.1 79.8h.01M297.6 89.9h.01M295.7 74.5h.01M290.8 78.1h.01M294.7 83.7h.01M292.9 84.0h.01M295.5 88.5h.01M291.1 86.3h.01M295.0 74.3h.01M288.5 81.2h.01M290.2 85.4h.01M290.5 76.6h.01M295.5 78.2h.01M293.3 71.9h.01M295.3 88.7h.01M290.8 82.6h.01M301.3 72.1h.01M291.4 71.7h.01M288.1 87.4h.01M286.2 86.5h.01M288.3 82.1h.01M293.6 76.2h.01M290.9 71.0h.01M293.6 80.3h.01M289.3 86.4h.01M293.8 72.1h.01M294.2 72.1h.01M288.3 86.5h.01M300.2 77.6h.01" stroke="#e84444" stroke-width="1.00" stroke-linecap="round" opacity="0.8"/>
<g filter="url(#b1)"><ellipse cx="293.6" cy="104.5" rx="5.6" ry="15.5" fill="#ff2a2a"/></g>
<path d="M295.7 102.0h.01M293.3 102.6h.01M294.1 100.2h.01M293.4 112.4h.01M296.1 106.3h.01M297.7 105.6h.01M290.3 88.8h.01M291.2 103.1h.01M294.7 112.8h.01M291.6 96.8h.01M295.9 113.7h.01M291.9 106.5h.01M297.9 106.4h.01M293.3 85.9h.01M297.7 109.1h.01M293.9 99.7h.01M289.5 102.8h.01M293.1 113.0h.01M289.6 115.9h.01M293.6 113.8h.01M290.4 106.6h.01M297.4 104.6h.01M288.8 100.8h.01M295.2 91.7h.01M288.8 105.7h.01M290.4 109.5h.01M289.7 88.0h.01M291.0 116.4h.01M290.7 103.6h.01M294.3 95.6h.01M297.0 105.2h.01M294.9 89.3h.01M287.9 80.2h.01M292.9 101.7h.01M295.8 116.3h.01M292.7 101.4h.01M294.9 116.7h.01M290.8 109.0h.01M292.7 100.8h.01M296.1 97.0h.01M290.1 109.3h.01M293.4 101.4h.01M293.1 107.9h.01M292.3 110.2h.01M294.8 116.3h.01M297.5 111.0h.01M292.8 104.7h.01M292.8 108.4h.01M297.8 92.1h.01M290.8 100.3h.01M290.3 92.9h.01M291.8 114.7h.01M295.8 104.0h.01M293.6 89.6h.01M295.7 107.3h.01M290.0 105.5h.01M292.9 99.3h.01M290.3 98.0h.01M290.5 107.7h.01M294.7 106.5h.01M292.9 100.3h.01M300.0 87.9h.01M297.3 106.7h.01M293.7 99.4h.01M292.8 93.7h.01M289.1 102.8h.01M288.2 110.9h.01M288.5 106.1h.01M294.2 104.7h.01M294.9 110.1h.01M296.3 119.0h.01M293.6 111.1h.01M288.3 102.6h.01M289.6 115.6h.01M301.0 108.4h.01M289.4 102.8h.01M293.6 105.5h.01M297.0 111.9h.01M285.0 115.4h.01M291.9 99.0h.01M298.1 101.5h.01M289.1 92.5h.01M293.7 111.5h.01M298.3 102.3h.01M292.0 117.6h.01M292.1 116.2h.01M294.3 105.8h.01M292.8 106.3h.01M292.0 98.0h.01M293.1 98.3h.01M294.5 104.5h.01M292.7 102.1h.01M292.8 118.6h.01M293.5 98.8h.01M292.6 109.4h.01M292.9 102.5h.01M292.7 105.2h.01M294.8 107.6h.01M288.3 94.7h.01M285.1 110.6h.01M297.1 114.8h.01M294.0 113.6h.01M293.4 102.8h.01M288.6 97.1h.01M291.6 111.6h.01M298.8 99.8h.01M294.7 106.1h.01M291.0 89.2h.01M291.1 91.6h.01M292.5 102.6h.01M292.9 102.4h.01M295.1 95.9h.01M296.4 89.6h.01M293.7 107.1h.01M291.0 90.2h.01M295.6 98.1h.01M296.0 110.3h.01M293.5 103.8h.01M296.7 107.0h.01M290.5 105.2h.01M295.3 105.5h.01M294.1 102.5h.01M293.1 95.8h.01M288.9 113.3h.01M291.5 105.6h.01M288.7 105.1h.01M290.3 95.6h.01M296.5 113.4h.01M286.8 105.9h.01M296.3 93.4h.01M295.7 99.3h.01M290.3 100.8h.01M292.0 92.0h.01M300.6 99.9h.01M291.1 111.0h.01M293.3 115.0h.01M292.7 106.7h.01M293.8 105.2h.01M292.8 102.9h.01M298.8 98.0h.01M291.8 100.9h.01M295.3 107.1h.01M296.5 92.4h.01M294.3 102.3h.01M292.6 105.1h.01M287.3 106.1h.01M294.0 91.7h.01M293.2 116.8h.01M292.3 108.8h.01M292.8 96.9h.01M290.6 100.4h.01M297.6 110.6h.01M291.3 112.2h.01M293.1 97.9h.01M294.9 96.1h.01M288.5 114.7h.01M287.7 108.3h.01M288.7 103.5h.01M292.9 100.1h.01M286.6 102.8h.01M293.4 96.2h.01M293.3 112.1h.01M291.2 105.9h.01M289.9 107.0h.01M296.4 107.4h.01M298.0 95.4h.01M296.9 99.2h.01M291.6 113.0h.01M294.3 114.9h.01M288.9 106.1h.01M291.9 101.5h.01M287.5 111.7h.01M294.2 95.6h.01M289.3 96.5h.01M297.9 103.0h.01M292.5 108.0h.01M293.6 105.8h.01M295.9 106.6h.01M296.3 93.9h.01M293.7 100.9h.01M293.9 103.5h.01M291.6 101.0h.01M296.5 99.3h.01M289.7 108.9h.01M296.6 101.7h.01M294.0 96.9h.01M292.9 113.2h.01M296.1 105.2h.01M292.7 90.4h.01M294.6 107.8h.01M296.9 120.8h.01M294.8 111.9h.01M290.1 114.0h.01M296.3 115.3h.01M295.7 107.8h.01M298.2 98.5h.01M295.6 113.0h.01M291.1 94.4h.01M295.0 105.1h.01M295.5 109.4h.01M291.2 106.9h.01M297.1 101.1h.01M292.7 94.7h.01M296.2 120.3h.01M289.4 110.4h.01M296.5 99.5h.01M292.5 95.4h.01M291.2 105.5h.01M295.7 105.1h.01M296.3 105.8h.01M290.0 116.2h.01M297.3 98.3h.01M299.2 108.0h.01M294.1 120.0h.01M285.9 90.9h.01M295.9 102.1h.01M290.7 116.7h.01M295.2 93.6h.01M291.6 111.2h.01M299.2 87.6h.01M294.5 101.0h.01M288.2 102.8h.01M288.7 99.8h.01M298.7 108.5h.01M296.1 109.2h.01M294.8 112.3h.01M290.1 101.3h.01M296.4 98.2h.01M292.3 114.3h.01M298.5 99.3h.01M291.2 109.1h.01M294.6 98.7h.01M295.6 108.9h.01M298.0 111.1h.01M297.2 98.4h.01M294.7 104.9h.01M292.0 106.5h.01M294.5 103.9h.01M292.2 111.2h.01M288.7 111.2h.01M293.8 106.6h.01M286.3 118.3h.01M288.3 97.2h.01M295.7 99.3h.01M292.5 85.8h.01M292.4 106.1h.01M295.9 102.0h.01M294.4 108.0h.01M291.6 98.1h.01M299.9 97.3h.01M297.6 105.0h.01M298.4 99.1h.01M295.4 107.1h.01M293.0 107.0h.01M291.3 103.7h.01M292.5 110.7h.01M293.5 92.8h.01M292.6 103.6h.01M290.9 115.5h.01M295.0 111.4h.01M291.3 101.1h.01M296.9 92.4h.01M294.9 105.1h.01M292.2 105.1h.01M290.4 106.3h.01M289.9 93.7h.01M298.1 98.5h.01M287.1 112.5h.01M293.6 112.1h.01M294.9 118.7h.01M293.4 109.4h.01M290.6 105.8h.01M298.6 108.6h.01M294.3 87.9h.01M292.6 93.6h.01M296.2 98.2h.01M294.9 96.0h.01M299.7 94.6h.01M294.4 97.1h.01M295.7 112.7h.01M296.5 87.9h.01M294.4 86.6h.01M299.7 105.0h.01M292.3 110.0h.01M295.3 94.5h.01M298.9 102.4h.01M288.2 116.1h.01M298.6 114.9h.01M295.5 96.9h.01M296.7 120.0h.01M296.3 117.9h.01M291.3 113.0h.01M296.7 91.9h.01M288.6 98.4h.01M294.0 108.2h.01M293.0 103.9h.01M293.4 105.2h.01M295.6 108.6h.01M293.6 106.6h.01M292.3 111.2h.01M292.2 118.3h.01M293.7 106.8h.01M291.4 101.5h.01M294.3 104.6h.01M291.8 94.7h.01M293.9 105.7h.01M295.5 115.0h.01M292.8 87.6h.01M293.3 88.9h.01M289.7 113.2h.01M295.6 99.0h.01M291.8 103.7h.01M288.2 108.5h.01M292.7 120.0h.01M290.4 112.9h.01M291.6 113.1h.01M290.7 110.7h.01M292.4 97.5h.01M293.3 108.5h.01M295.1 117.8h.01M296.4 82.2h.01M292.5 87.6h.01M292.6 109.8h.01M289.5 94.5h.01M294.2 102.0h.01M298.8 107.2h.01M295.5 119.3h.01M292.2 104.5h.01M290.6 106.7h.01M297.1 116.1h.01M293.7 98.5h.01M291.3 92.7h.01M294.2 116.0h.01M286.2 86.1h.01M298.3 90.9h.01M294.8 93.8h.01M296.3 111.2h.01M294.3 111.5h.01M294.0 109.3h.01M299.6 113.9h.01M291.7 97.7h.01M293.0 102.6h.01M294.0 99.4h.01M295.9 104.9h.01M295.0 104.6h.01M295.8 94.4h.01M298.9 107.5h.01M295.3 109.8h.01M297.3 110.8h.01M294.6 103.1h.01M288.6 106.4h.01M292.8 102.0h.01M301.5 88.8h.01M294.0 114.9h.01M296.9 115.2h.01M289.8 96.5h.01M295.8 102.1h.01M299.3 106.6h.01M294.5 108.4h.01M293.0 105.7h.01M291.7 104.4h.01M292.3 106.9h.01M289.3 92.0h.01M295.3 106.6h.01M290.8 102.8h.01M288.9 119.3h.01M291.2 108.3h.01M293.0 101.5h.01M296.9 111.7h.01M293.0 97.0h.01M300.5 116.7h.01M294.3 102.2h.01M294.8 105.4h.01M297.7 96.5h.01M294.0 98.1h.01M298.1 120.1h.01M293.6 109.3h.01M298.4 102.2h.01M290.9 113.6h.01M295.5 103.0h.01M298.6 106.8h.01M288.2 107.7h.01M293.7 120.8h.01M293.8 103.0h.01M295.3 106.9h.01M289.4 105.8h.01M292.8 116.7h.01M301.6 95.3h.01M290.8 97.6h.01M291.8 98.9h.01M294.1 114.0h.01M289.7 91.7h.01M288.0 114.2h.01M298.1 91.7h.01M288.7 105.9h.01M297.4 113.4h.01M294.5 110.6h.01M294.9 100.1h.01M300.0 104.8h.01M290.3 100.8h.01M289.0 104.9h.01M297.4 94.0h.01M295.1 95.0h.01M291.2 102.0h.01M289.8 94.2h.01M293.1 103.3h.01M295.8 94.6h.01M299.9 113.8h.01M296.8 99.3h.01M299.5 101.9h.01M299.7 113.9h.01M291.0 100.9h.01M299.9 113.3h.01M293.4 106.5h.01M294.5 98.2h.01M293.3 99.2h.01M292.5 108.8h.01M290.8 111.0h.01M294.3 111.3h.01M296.8 115.4h.01M295.9 110.8h.01M293.3 109.7h.01M291.0 102.7h.01M296.3 104.4h.01M295.3 95.8h.01M298.3 99.9h.01M295.2 104.6h.01M296.9 101.6h.01M290.7 88.6h.01M292.9 94.6h.01M295.6 117.1h.01M286.8 93.8h.01M294.9 115.3h.01M294.9 107.6h.01M295.5 109.7h.01M299.2 110.0h.01M289.9 100.8h.01M294.6 97.9h.01M293.1 100.3h.01M291.7 110.7h.01M292.7 95.5h.01M291.6 105.1h.01M300.7 107.0h.01M298.7 109.0h.01M287.0 108.0h.01M291.2 93.2h.01M290.4 120.1h.01M288.8 99.5h.01M297.6 110.5h.01M288.4 103.8h.01M292.2 103.1h.01M296.3 99.9h.01M292.9 117.3h.01M288.0 101.6h.01M295.4 94.1h.01M291.9 93.5h.01M294.4 99.4h.01M296.4 113.5h.01M294.0 101.5h.01M294.7 105.3h.01M290.0 113.9h.01M294.6 111.5h.01M289.5 112.3h.01M300.7 110.0h.01M289.2 105.1h.01M293.7 106.6h.01M293.1 109.0h.01M292.4 106.7h.01M291.7 105.6h.01M297.1 100.5h.01M296.0 97.1h.01M292.7 102.7h.01M297.9 98.2h.01M297.8 92.2h.01M293.4 112.6h.01M296.1 96.1h.01M289.9 112.3h.01M289.8 109.7h.01M292.2 104.6h.01M301.4 118.0h.01M296.6 92.9h.01M294.9 105.2h.01M293.5 116.2h.01M288.3 107.4h.01M294.3 98.3h.01M299.5 93.8h.01M294.0 105.4h.01M286.8 92.4h.01M290.7 111.5h.01M296.9 109.8h.01M294.6 85.8h.01M294.6 100.3h.01M297.7 116.3h.01M301.1 110.8h.01M296.5 95.8h.01M294.1 94.0h.01M296.8 94.4h.01M293.2 97.6h.01M292.3 108.6h.01M292.0 106.6h.01M290.6 116.7h.01M291.8 113.4h.01M300.8 83.7h.01M290.6 102.9h.01M297.6 100.5h.01M295.1 98.3h.01M295.7 94.2h.01M287.7 120.3h.01M294.4 96.9h.01M301.0 113.7h.01M297.5 101.0h.01M295.9 109.0h.01M288.4 109.7h.01M293.2 115.7h.01M298.1 99.0h.01M291.9 106.3h.01M296.0 101.0h.01M293.5 109.9h.01M295.2 114.7h.01M294.6 96.9h.01M288.1 111.6h.01M292.7 101.6h.01M292.9 90.9h.01M292.5 82.0h.01M292.5 96.8h.01M299.8 108.5h.01M293.1 106.0h.01M296.2 98.0h.01M293.1 101.5h.01M302.0 105.2h.01M287.4 111.5h.01M302.3 96.2h.01M297.1 99.6h.01M292.9 93.8h.01M290.3 85.8h.01M297.6 94.5h.01M295.0 107.4h.01M291.7 105.0h.01M293.5 100.2h.01M294.0 105.0h.01M290.4 93.2h.01M291.0 105.6h.01M298.4 117.4h.01M294.8 112.8h.01M294.2 114.2h.01M294.2 108.0h.01M292.9 104.5h.01M300.1 94.0h.01M293.8 99.3h.01M297.0 120.4h.01M292.8 80.2h.01M295.8 109.9h.01M288.2 102.4h.01M293.6 84.2h.01M296.0 108.3h.01M294.6 95.2h.01M291.4 98.9h.01M295.4 95.8h.01M298.6 107.8h.01M286.6 119.3h.01M294.3 99.6h.01M294.1 88.4h.01M294.4 82.8h.01M290.4 116.4h.01M298.0 101.4h.01M290.5 112.7h.01M293.6 106.3h.01M295.8 94.9h.01M296.4 85.7h.01M298.6 90.5h.01M291.7 98.5h.01M296.2 111.0h.01M294.9 109.2h.01M295.3 103.7h.01M287.4 84.0h.01M286.1 103.9h.01M293.0 103.1h.01M294.5 102.3h.01M290.4 91.0h.01M287.4 115.1h.01M296.8 92.3h.01M292.8 108.2h.01M299.0 99.0h.01M294.3 114.6h.01M287.9 97.8h.01M293.6 97.9h.01M300.8 112.0h.01M294.4 95.8h.01M296.6 109.9h.01M292.0 100.4h.01M288.8 103.6h.01M296.6 113.2h.01M295.6 111.6h.01M291.7 100.1h.01M297.7 108.3h.01M291.0 108.7h.01M296.5 110.5h.01M294.1 99.7h.01M295.0 119.3h.01M294.2 98.3h.01M294.8 93.3h.01M294.5 101.6h.01M296.9 105.1h.01M293.0 96.8h.01M295.2 103.4h.01M294.2 98.9h.01M295.5 104.8h.01M286.5 102.1h.01M294.8 114.6h.01M291.8 97.1h.01M297.5 98.8h.01M294.0 108.4h.01M296.1 104.3h.01M290.0 113.1h.01M292.2 99.6h.01M300.3 112.0h.01M290.1 99.9h.01M292.9 97.6h.01M287.3 111.3h.01M296.2 106.3h.01M292.3 106.0h.01M295.8 95.0h.01M292.6 99.2h.01M296.0 106.5h.01M289.3 98.7h.01M299.5 95.6h.01M294.2 98.6h.01M297.8 103.6h.01M292.2 93.8h.01M292.8 111.4h.01M295.9 92.5h.01M298.8 102.0h.01M290.2 105.3h.01M291.6 99.0h.01M291.6 103.3h.01M292.0 89.1h.01M295.4 99.5h.01M297.6 108.8h.01M295.7 105.7h.01M297.9 101.2h.01M290.3 107.1h.01M284.6 100.9h.01M294.3 100.4h.01M297.8 110.3h.01M294.0 100.6h.01M297.3 98.1h.01M292.3 110.6h.01M292.9 87.6h.01M295.8 115.1h.01M293.1 117.8h.01M299.5 98.2h.01M292.0 93.1h.01M295.4 110.4h.01M295.6 93.2h.01M291.1 91.5h.01M288.3 92.2h.01M288.4 102.4h.01M295.0 109.5h.01M293.5 98.1h.01M293.6 109.0h.01M292.6 104.5h.01M292.6 99.4h.01M293.7 94.2h.01M297.1 90.3h.01M295.1 92.1h.01M298.6 111.6h.01M290.9 100.1h.01M289.9 103.5h.01M289.1 114.9h.01M291.7 106.4h.01M296.5 108.8h.01M295.0 102.3h.01M293.6 105.3h.01M297.5 91.2h.01M292.0 93.1h.01M290.4 97.0h.01M298.1 93.6h.01M293.8 94.1h.01M295.1 115.1h.01M295.5 111.6h.01M293.1 86.8h.01M287.1 103.1h.01M295.5 115.1h.01M292.5 104.6h.01M294.4 113.3h.01M293.4 94.4h.01M297.2 107.6h.01M294.9 92.9h.01M293.6 89.0h.01M287.0 101.9h.01M292.2 109.0h.01M298.3 103.7h.01M299.5 98.9h.01M296.1 92.9h.01M294.0 101.2h.01M292.9 109.1h.01M287.4 105.0h.01M290.9 105.0h.01M294.9 100.8h.01M292.4 93.9h.01M295.4 98.1h.01M295.1 91.6h.01M298.1 95.1h.01M297.4 100.1h.01M295.4 102.7h.01M295.8 104.0h.01M297.8 109.9h.01M295.8 118.6h.01M291.3 115.3h.01M293.8 91.1h.01M295.2 102.2h.01M299.1 99.7h.01M293.8 106.0h.01M287.3 108.4h.01M290.3 116.3h.01M299.1 103.9h.01M288.4 105.6h.01M294.2 110.3h.01M292.6 93.6h.01M293.1 95.9h.01M299.4 97.8h.01M291.5 103.6h.01M289.5 100.1h.01M293.2 99.7h.01M292.8 114.8h.01M295.0 92.3h.01M292.2 110.5h.01M291.5 104.7h.01M293.5 108.6h.01M293.0 102.8h.01M290.8 107.1h.01M290.6 119.1h.01M293.5 102.0h.01M296.2 103.3h.01M293.9 103.5h.01M291.2 96.0h.01M291.3 113.9h.01M291.5 100.5h.01M292.1 110.1h.01M300.1 95.9h.01M295.4 105.0h.01M292.6 108.4h.01M289.4 111.2h.01M294.3 95.3h.01M298.8 111.4h.01M297.4 91.3h.01M292.7 99.5h.01M295.7 115.8h.01M287.4 104.2h.01M293.2 112.7h.01M293.5 92.9h.01M293.0 95.0h.01M291.1 104.4h.01M292.0 106.4h.01M297.7 110.2h.01M289.4 85.2h.01M290.8 102.0h.01M300.9 115.4h.01M291.9 114.5h.01M297.6 104.1h.01M297.6 106.9h.01M291.5 93.8h.01M293.2 112.7h.01M289.2 90.0h.01M295.4 80.4h.01M299.6 100.2h.01M296.0 120.2h.01M288.9 94.9h.01M300.9 101.5h.01M293.2 106.0h.01M297.1 115.5h.01M294.0 101.1h.01M293.5 106.6h.01M297.9 105.2h.01M299.6 96.5h.01M295.3 119.3h.01M297.8 106.9h.01M290.7 97.8h.01M293.1 106.7h.01M292.8 91.3h.01M291.2 108.5h.01M296.3 91.8h.01M292.4 89.5h.01M293.8 101.0h.01M291.7 93.5h.01M287.5 103.6h.01M292.7 116.8h.01M288.2 107.8h.01M298.0 87.0h.01M295.8 90.0h.01M295.3 116.8h.01M293.6 106.5h.01M291.3 106.5h.01M297.3 102.4h.01M293.1 107.4h.01M296.3 89.8h.01M293.8 98.0h.01M295.2 113.0h.01M294.6 115.2h.01M290.4 100.5h.01M290.4 104.5h.01M293.9 102.3h.01M289.6 103.3h.01M292.2 109.3h.01M292.7 114.1h.01M294.4 87.9h.01M293.0 91.6h.01M296.8 116.5h.01M293.5 107.9h.01M288.9 84.5h.01M291.8 101.8h.01M288.6 104.8h.01M294.6 109.6h.01M298.7 111.1h.01M292.4 104.9h.01M295.6 94.9h.01M298.0 111.9h.01M292.9 98.5h.01M296.7 119.7h.01M296.8 105.9h.01M295.9 96.1h.01M296.0 90.6h.01M295.0 108.9h.01M288.5 120.7h.01M289.9 113.2h.01M291.9 106.8h.01M297.0 119.8h.01M296.2 110.2h.01M294.1 102.0h.01M295.6 105.5h.01M293.2 92.2h.01M292.7 109.4h.01M292.1 107.2h.01M293.2 95.2h.01M290.7 97.7h.01M292.7 101.9h.01M297.3 94.7h.01M287.0 110.2h.01M292.2 103.2h.01M302.0 117.0h.01M295.6 112.5h.01M294.1 112.6h.01M291.7 98.0h.01M292.2 118.0h.01M298.8 99.0h.01M297.5 102.9h.01M297.2 101.5h.01M296.8 103.3h.01M292.8 104.1h.01M294.2 99.2h.01M289.2 119.1h.01M292.4 88.4h.01M291.7 116.2h.01M288.3 101.5h.01M287.7 113.9h.01M294.9 107.1h.01M298.2 118.7h.01M297.1 99.3h.01M289.4 95.2h.01M288.0 120.1h.01M293.1 105.5h.01M291.9 114.7h.01M294.7 103.0h.01M287.4 112.4h.01M291.3 100.3h.01M294.5 105.2h.01M297.4 98.5h.01M294.3 106.8h.01M293.8 110.3h.01M292.9 114.9h.01M291.4 91.8h.01M293.6 114.7h.01M292.0 98.9h.01M292.6 105.8h.01M293.2 107.1h.01M288.1 117.5h.01M295.7 96.8h.01M298.3 108.3h.01M298.6 94.1h.01M299.2 104.8h.01M287.0 111.0h.01M292.7 95.5h.01M293.0 87.4h.01M295.7 102.5h.01M292.8 116.7h.01M293.9 98.6h.01M290.6 103.8h.01M297.2 99.3h.01M290.3 112.4h.01M293.9 104.1h.01M300.6 93.7h.01M294.4 88.8h.01M292.7 109.5h.01M297.4 93.2h.01M296.5 111.2h.01M293.7 96.6h.01M295.1 88.1h.01M298.9 113.0h.01M292.4 109.7h.01M295.5 121.3h.01" stroke="#f42020" stroke-width="1.10" stroke-linecap="round" opacity="0.85"/>
<path d="M298.5 90.9h.01M297.6 87.2h.01M295.1 89.9h.01M298.3 93.1h.01M295.2 85.7h.01M289.2 84.9h.01M291.3 86.3h.01M289.0 97.4h.01M294.8 78.7h.01M289.6 82.2h.01M294.7 94.4h.01M290.0 92.1h.01M292.7 94.8h.01M299.1 90.6h.01M296.6 89.0h.01M292.4 83.1h.01M295.1 88.6h.01M292.3 88.6h.01M293.1 83.7h.01M291.8 94.8h.01M292.9 96.1h.01M289.4 82.1h.01M294.3 92.9h.01M291.3 92.2h.01M297.4 94.4h.01M293.4 88.7h.01M287.4 89.1h.01M294.9 96.2h.01M288.9 84.7h.01M289.9 93.5h.01M284.1 83.5h.01M301.7 92.3h.01M288.7 88.7h.01M297.1 91.8h.01M292.9 85.0h.01M297.0 89.0h.01M296.9 91.0h.01M292.0 96.3h.01M291.9 91.2h.01M291.4 87.8h.01M292.8 85.7h.01M294.7 95.6h.01M300.9 96.3h.01M293.1 96.4h.01M295.4 98.1h.01M289.0 96.5h.01M291.5 94.8h.01M292.0 93.6h.01M292.7 79.5h.01M290.1 87.8h.01M293.9 77.7h.01M289.2 85.3h.01M293.0 90.1h.01M290.7 81.4h.01M295.0 87.3h.01M297.2 86.4h.01M296.3 84.5h.01M294.8 89.5h.01M295.5 84.3h.01M293.3 84.7h.01M293.2 92.1h.01M296.5 89.6h.01M298.1 91.3h.01M297.8 90.8h.01M303.0 95.9h.01M287.3 90.5h.01M294.1 77.9h.01M290.5 86.7h.01M291.0 89.7h.01M287.0 92.8h.01M296.8 90.8h.01M292.6 89.0h.01M292.0 94.8h.01M295.7 99.0h.01M292.4 96.3h.01M291.6 88.2h.01M289.8 91.7h.01M293.6 92.1h.01M299.5 88.7h.01M295.3 93.5h.01M293.6 86.3h.01M295.2 91.6h.01M296.8 93.2h.01M291.3 91.3h.01M298.5 86.7h.01M295.2 85.9h.01M294.5 97.7h.01M294.5 84.2h.01M295.1 90.1h.01M298.1 82.2h.01M290.3 88.6h.01M287.9 94.7h.01M286.1 84.9h.01M288.2 85.7h.01M296.9 92.1h.01M297.4 92.1h.01M286.1 90.5h.01M286.8 86.5h.01M292.3 86.3h.01M295.7 85.0h.01M300.4 92.0h.01M298.3 92.8h.01M297.2 88.8h.01M301.3 83.8h.01M295.6 89.1h.01M293.0 90.6h.01M291.0 93.4h.01M296.8 89.5h.01M296.6 83.8h.01M286.9 86.1h.01M292.9 101.5h.01M293.0 94.2h.01M297.1 99.6h.01M294.3 92.3h.01M293.1 84.7h.01M290.0 85.1h.01M299.3 90.5h.01M293.2 89.1h.01M291.7 88.9h.01M293.7 92.3h.01M297.3 80.9h.01M294.7 95.9h.01M289.9 87.8h.01M294.5 94.6h.01M296.1 88.0h.01M295.7 94.2h.01M295.3 98.4h.01M295.4 83.8h.01M290.9 88.4h.01M293.1 92.2h.01M295.2 97.6h.01M296.9 96.5h.01M290.9 86.9h.01M296.5 89.5h.01M296.2 90.3h.01M291.5 97.6h.01M298.2 81.3h.01M291.5 89.2h.01M296.4 88.7h.01M288.7 93.2h.01M293.1 95.1h.01M295.0 94.1h.01M297.0 93.5h.01M291.9 94.2h.01M294.6 82.9h.01M292.4 87.4h.01M295.7 92.5h.01M289.6 92.7h.01M293.6 83.8h.01M297.0 85.3h.01M289.4 92.9h.01M297.3 85.8h.01M297.9 94.1h.01M291.9 99.1h.01M293.7 90.2h.01M284.8 92.3h.01M291.5 91.3h.01M287.4 94.9h.01M299.4 98.6h.01M291.1 88.7h.01M299.3 85.0h.01M294.7 88.9h.01M295.3 87.2h.01M297.3 94.0h.01M288.8 94.8h.01M291.1 87.8h.01M298.2 89.7h.01M296.1 93.1h.01M296.2 86.5h.01M290.4 92.6h.01M296.8 91.0h.01M293.3 93.5h.01M293.9 82.4h.01M295.0 91.8h.01M296.9 84.8h.01M291.1 90.9h.01M292.3 88.9h.01M297.6 91.2h.01M300.9 90.7h.01M300.5 94.6h.01M303.7 89.4h.01M293.7 95.8h.01M292.1 87.0h.01M295.0 91.2h.01M288.8 90.6h.01M292.9 89.2h.01M294.8 88.4h.01M298.2 91.8h.01M293.4 89.8h.01M298.1 93.3h.01M298.9 88.8h.01M294.7 99.5h.01M294.0 97.8h.01M297.4 87.3h.01M288.9 92.6h.01M291.5 86.0h.01M287.6 95.4h.01M294.6 89.6h.01M295.7 90.7h.01M294.5 92.1h.01M293.2 76.7h.01M297.0 91.6h.01M294.3 97.4h.01M299.8 91.6h.01M288.0 87.5h.01M296.5 83.5h.01M296.3 100.0h.01M299.4 89.4h.01M295.4 84.8h.01M294.7 87.9h.01M290.4 82.9h.01M301.5 90.0h.01M290.3 87.4h.01M299.8 97.6h.01M291.9 90.5h.01M297.6 87.8h.01M289.8 84.7h.01M294.2 85.7h.01M289.3 88.3h.01M297.7 92.9h.01M293.3 99.0h.01M291.2 89.1h.01M289.0 93.4h.01M293.7 81.2h.01M291.1 98.4h.01M296.9 90.1h.01M297.4 81.6h.01M291.1 82.9h.01M291.1 87.6h.01M296.2 94.5h.01M297.9 102.8h.01M292.3 89.4h.01M296.1 85.4h.01M293.1 91.5h.01M290.8 91.8h.01M298.8 83.9h.01M285.5 89.9h.01M290.2 90.3h.01M292.5 91.0h.01M298.4 93.5h.01M292.8 83.6h.01M284.8 78.7h.01M291.1 89.9h.01M291.6 86.4h.01M288.1 81.2h.01M287.6 92.4h.01M286.6 92.7h.01M290.6 91.9h.01M294.9 93.0h.01M298.5 85.3h.01M290.3 87.0h.01M291.0 92.4h.01M293.5 89.1h.01M295.5 86.7h.01M298.0 79.9h.01M294.7 91.5h.01M290.9 85.6h.01M297.2 87.5h.01M286.6 82.3h.01M297.6 84.6h.01M298.8 95.8h.01M293.1 91.7h.01M290.7 87.0h.01M291.2 91.9h.01M289.0 88.3h.01M294.0 91.6h.01M285.8 80.1h.01M290.5 87.9h.01M294.3 89.9h.01M301.4 92.2h.01M296.0 86.5h.01M296.7 92.4h.01M296.3 88.4h.01M296.1 96.5h.01M290.7 78.2h.01M296.9 92.6h.01M292.9 86.7h.01M304.2 86.6h.01M289.1 86.6h.01M295.6 85.9h.01M292.3 90.4h.01M292.1 89.6h.01M293.6 83.6h.01M294.0 83.2h.01M297.3 84.3h.01M292.8 79.9h.01M292.0 82.7h.01M299.4 88.3h.01M295.7 80.2h.01M289.1 88.1h.01M288.6 94.6h.01M292.2 89.6h.01M294.9 88.1h.01M296.6 85.6h.01M295.1 94.8h.01M294.5 89.5h.01M292.5 89.2h.01M296.2 87.7h.01M287.4 89.7h.01M293.1 91.2h.01" stroke="#f03030" stroke-width="1.10" stroke-linecap="round" opacity="0.8"/>
<rect x="282.60" y="86.40" width="103.40" height="0.00" fill="none" stroke="#555" stroke-width="1.0" />
<line x1="282.60" y1="86.40" x2="386.00" y2="86.40" stroke="#555" stroke-width="1.0"/>
<line x1="324.00" y1="28.00" x2="324.00" y2="122.20" stroke="#8a8a8a" stroke-width="1.4"/>
<text x="301.8" y="71.5" font-size="5.4" font-weight="normal" text-anchor="start" fill="#444" >Q1</text>
<text x="337.3" y="71.5" font-size="5.4" font-weight="normal" text-anchor="start" fill="#444" >Q2</text>
<text x="301.8" y="109.3" font-size="5.4" font-weight="normal" text-anchor="start" fill="#444" >Q3</text>
<text x="337.3" y="109.3" font-size="5.4" font-weight="normal" text-anchor="start" fill="#444" >Q4</text>
<rect x="282.60" y="28.00" width="103.40" height="94.20" fill="none" stroke="#7d7d7d" stroke-width="1.3" />
<line x1="278.60" y1="108.60" x2="282.60" y2="108.60" stroke="#555" stroke-width="0.9"/>
<line x1="280.60" y1="101.38" x2="282.60" y2="101.38" stroke="#555" stroke-width="0.9"/>
<line x1="280.60" y1="97.15" x2="282.60" y2="97.15" stroke="#555" stroke-width="0.9"/>
<line x1="280.60" y1="94.15" x2="282.60" y2="94.15" stroke="#555" stroke-width="0.9"/>
<line x1="280.60" y1="91.82" x2="282.60" y2="91.82" stroke="#555" stroke-width="0.9"/>
<line x1="280.60" y1="89.92" x2="282.60" y2="89.92" stroke="#555" stroke-width="0.9"/>
<line x1="280.60" y1="88.32" x2="282.60" y2="88.32" stroke="#555" stroke-width="0.9"/>
<line x1="280.60" y1="86.93" x2="282.60" y2="86.93" stroke="#555" stroke-width="0.9"/>
<line x1="280.60" y1="85.70" x2="282.60" y2="85.70" stroke="#555" stroke-width="0.9"/>
<line x1="278.60" y1="84.60" x2="282.60" y2="84.60" stroke="#555" stroke-width="0.9"/>
<line x1="280.60" y1="77.68" x2="282.60" y2="77.68" stroke="#555" stroke-width="0.9"/>
<line x1="280.60" y1="73.63" x2="282.60" y2="73.63" stroke="#555" stroke-width="0.9"/>
<line x1="280.60" y1="70.75" x2="282.60" y2="70.75" stroke="#555" stroke-width="0.9"/>
<line x1="280.60" y1="68.52" x2="282.60" y2="68.52" stroke="#555" stroke-width="0.9"/>
<line x1="280.60" y1="66.70" x2="282.60" y2="66.70" stroke="#555" stroke-width="0.9"/>
<line x1="280.60" y1="65.16" x2="282.60" y2="65.16" stroke="#555" stroke-width="0.9"/>
<line x1="280.60" y1="63.83" x2="282.60" y2="63.83" stroke="#555" stroke-width="0.9"/>
<line x1="280.60" y1="62.65" x2="282.60" y2="62.65" stroke="#555" stroke-width="0.9"/>
<line x1="278.60" y1="61.60" x2="282.60" y2="61.60" stroke="#555" stroke-width="0.9"/>
<line x1="280.60" y1="54.89" x2="282.60" y2="54.89" stroke="#555" stroke-width="0.9"/>
<line x1="280.60" y1="50.96" x2="282.60" y2="50.96" stroke="#555" stroke-width="0.9"/>
<line x1="280.60" y1="48.17" x2="282.60" y2="48.17" stroke="#555" stroke-width="0.9"/>
<line x1="280.60" y1="46.01" x2="282.60" y2="46.01" stroke="#555" stroke-width="0.9"/>
<line x1="280.60" y1="44.25" x2="282.60" y2="44.25" stroke="#555" stroke-width="0.9"/>
<line x1="280.60" y1="42.75" x2="282.60" y2="42.75" stroke="#555" stroke-width="0.9"/>
<line x1="280.60" y1="41.46" x2="282.60" y2="41.46" stroke="#555" stroke-width="0.9"/>
<line x1="280.60" y1="40.32" x2="282.60" y2="40.32" stroke="#555" stroke-width="0.9"/>
<line x1="278.60" y1="39.30" x2="282.60" y2="39.30" stroke="#555" stroke-width="0.9"/>
<line x1="280.60" y1="111.50" x2="282.60" y2="111.50" stroke="#555" stroke-width="0.9"/>
<line x1="280.60" y1="114.50" x2="282.60" y2="114.50" stroke="#555" stroke-width="0.9"/>
<line x1="280.60" y1="117.00" x2="282.60" y2="117.00" stroke="#555" stroke-width="0.9"/>
<line x1="280.60" y1="119.50" x2="282.60" y2="119.50" stroke="#555" stroke-width="0.9"/>
<line x1="301.11" y1="122.20" x2="301.11" y2="124.20" stroke="#555" stroke-width="0.9"/>
<line x1="302.49" y1="122.20" x2="302.49" y2="124.20" stroke="#555" stroke-width="0.9"/>
<line x1="303.71" y1="122.20" x2="303.71" y2="124.20" stroke="#555" stroke-width="0.9"/>
<line x1="304.80" y1="122.20" x2="304.80" y2="126.20" stroke="#555" stroke-width="0.9"/>
<line x1="311.96" y1="122.20" x2="311.96" y2="124.20" stroke="#555" stroke-width="0.9"/>
<line x1="316.16" y1="122.20" x2="316.16" y2="124.20" stroke="#555" stroke-width="0.9"/>
<line x1="319.13" y1="122.20" x2="319.13" y2="124.20" stroke="#555" stroke-width="0.9"/>
<line x1="321.44" y1="122.20" x2="321.44" y2="124.20" stroke="#555" stroke-width="0.9"/>
<line x1="323.32" y1="122.20" x2="323.32" y2="124.20" stroke="#555" stroke-width="0.9"/>
<line x1="324.91" y1="122.20" x2="324.91" y2="124.20" stroke="#555" stroke-width="0.9"/>
<line x1="326.29" y1="122.20" x2="326.29" y2="124.20" stroke="#555" stroke-width="0.9"/>
<line x1="327.51" y1="122.20" x2="327.51" y2="124.20" stroke="#555" stroke-width="0.9"/>
<line x1="328.60" y1="122.20" x2="328.60" y2="126.20" stroke="#555" stroke-width="0.9"/>
<line x1="335.76" y1="122.20" x2="335.76" y2="124.20" stroke="#555" stroke-width="0.9"/>
<line x1="339.96" y1="122.20" x2="339.96" y2="124.20" stroke="#555" stroke-width="0.9"/>
<line x1="342.93" y1="122.20" x2="342.93" y2="124.20" stroke="#555" stroke-width="0.9"/>
<line x1="345.24" y1="122.20" x2="345.24" y2="124.20" stroke="#555" stroke-width="0.9"/>
<line x1="347.12" y1="122.20" x2="347.12" y2="124.20" stroke="#555" stroke-width="0.9"/>
<line x1="348.71" y1="122.20" x2="348.71" y2="124.20" stroke="#555" stroke-width="0.9"/>
<line x1="350.09" y1="122.20" x2="350.09" y2="124.20" stroke="#555" stroke-width="0.9"/>
<line x1="351.31" y1="122.20" x2="351.31" y2="124.20" stroke="#555" stroke-width="0.9"/>
<line x1="352.40" y1="122.20" x2="352.40" y2="126.20" stroke="#555" stroke-width="0.9"/>
<line x1="359.56" y1="122.20" x2="359.56" y2="124.20" stroke="#555" stroke-width="0.9"/>
<line x1="363.76" y1="122.20" x2="363.76" y2="124.20" stroke="#555" stroke-width="0.9"/>
<line x1="366.73" y1="122.20" x2="366.73" y2="124.20" stroke="#555" stroke-width="0.9"/>
<line x1="369.04" y1="122.20" x2="369.04" y2="124.20" stroke="#555" stroke-width="0.9"/>
<line x1="370.92" y1="122.20" x2="370.92" y2="124.20" stroke="#555" stroke-width="0.9"/>
<line x1="372.51" y1="122.20" x2="372.51" y2="124.20" stroke="#555" stroke-width="0.9"/>
<line x1="373.89" y1="122.20" x2="373.89" y2="124.20" stroke="#555" stroke-width="0.9"/>
<line x1="375.11" y1="122.20" x2="375.11" y2="124.20" stroke="#555" stroke-width="0.9"/>
<line x1="376.20" y1="122.20" x2="376.20" y2="126.20" stroke="#555" stroke-width="0.9"/>
<line x1="383.36" y1="122.20" x2="383.36" y2="124.20" stroke="#555" stroke-width="0.9"/>
<line x1="284.00" y1="122.20" x2="284.00" y2="124.00" stroke="#777" stroke-width="0.8"/>
<line x1="287.00" y1="122.20" x2="287.00" y2="124.00" stroke="#777" stroke-width="0.8"/>
<line x1="289.50" y1="122.20" x2="289.50" y2="124.00" stroke="#777" stroke-width="0.8"/>
<line x1="291.50" y1="122.20" x2="291.50" y2="124.00" stroke="#777" stroke-width="0.8"/>
<line x1="293.50" y1="122.20" x2="293.50" y2="124.00" stroke="#777" stroke-width="0.8"/>
<line x1="296.00" y1="122.20" x2="296.00" y2="124.00" stroke="#777" stroke-width="0.8"/>
<line x1="298.50" y1="122.20" x2="298.50" y2="124.00" stroke="#777" stroke-width="0.8"/>
<g transform="translate(279.0,37.9) rotate(-90)"><text font-size="4.4" fill="#2a2a2a" text-anchor="middle">10<tspan font-size="3.3" dy="-2">5</tspan></text></g>
<g transform="translate(279.0,60.2) rotate(-90)"><text font-size="4.4" fill="#2a2a2a" text-anchor="middle">10<tspan font-size="3.3" dy="-2">4</tspan></text></g>
<g transform="translate(279.0,83.2) rotate(-90)"><text font-size="4.4" fill="#2a2a2a" text-anchor="middle">10<tspan font-size="3.3" dy="-2">3</tspan></text></g>
<g transform="translate(279.0,107.2) rotate(-90)"><text font-size="4.4" fill="#2a2a2a" text-anchor="middle">10<tspan font-size="3.3" dy="-2">2</tspan></text></g>
<text x="305.2" y="130.8" font-size="4.6" fill="#2a2a2a" text-anchor="middle">10<tspan font-size="3.4" dy="-2">2</tspan></text>
<text x="329.4" y="130.8" font-size="4.6" fill="#2a2a2a" text-anchor="middle">10<tspan font-size="3.4" dy="-2">3</tspan></text>
<text x="352.6" y="130.8" font-size="4.6" fill="#2a2a2a" text-anchor="middle">10<tspan font-size="3.4" dy="-2">4</tspan></text>
<text x="376.4" y="130.8" font-size="4.6" fill="#2a2a2a" text-anchor="middle">10<tspan font-size="3.4" dy="-2">5</tspan></text>
<text x="282.6" y="133.6" font-size="4.6" font-weight="normal" text-anchor="middle" fill="#333" >-86</text>
<text x="290.6" y="130.6" font-size="4.6" font-weight="normal" text-anchor="middle" fill="#333" >0</text>
<text transform="translate(271.4,69.5) rotate(-90)" font-size="4.6" fill="#333" text-anchor="middle" textLength="33" lengthAdjust="spacingAndGlyphs">Annexin V APC-A</text>
<text x="336.8" y="137.8" font-size="5.6" font-weight="normal" text-anchor="middle" fill="#333" >7AAD-A</text>
<text transform="translate(285.6,38.0) scale(0.93,1)" font-size="9" font-weight="bold" fill="#111">7.3</text>
<text transform="translate(364.4,42.6) scale(0.93,1)" font-size="9" font-weight="bold" fill="#111">0.4</text>
<text transform="translate(284.5,118.8) scale(0.93,1)" font-size="9" font-weight="bold" fill="#111">92.1</text>
<text transform="translate(364.2,99.7) scale(0.93,1)" font-size="9" font-weight="bold" fill="#111">0.2</text>
<text x="417.1" y="20.1" font-size="13" font-weight="normal" text-anchor="start" fill="#111" >IL-3 deprivation</text>
<path d="M446.2 47.7h.01M447.9 48.0h.01M447.3 65.0h.01M437.2 46.9h.01M440.4 55.7h.01M450.3 71.4h.01M444.2 57.1h.01M437.4 48.2h.01M450.2 55.7h.01M441.1 82.2h.01M440.3 75.6h.01M442.7 55.2h.01M442.0 50.7h.01M441.0 51.2h.01M444.0 58.8h.01M437.3 56.5h.01M449.3 73.4h.01M438.9 47.7h.01M446.4 67.5h.01M437.8 52.6h.01M444.7 70.0h.01M445.4 68.2h.01M450.3 79.2h.01M440.0 78.8h.01M440.2 38.2h.01M448.7 80.6h.01M438.6 73.4h.01M438.2 81.0h.01M444.0 60.9h.01M450.7 52.3h.01M445.1 42.7h.01M439.7 63.1h.01M450.0 55.4h.01M437.1 48.9h.01M444.5 41.0h.01" stroke="#e88080" stroke-width="1.00" stroke-linecap="round" opacity="0.75"/>
<path d="M450.6 68.2h.01M447.5 78.4h.01M444.6 76.6h.01M436.2 72.9h.01M434.9 64.1h.01M439.0 72.4h.01M447.1 73.5h.01M444.7 63.0h.01M435.0 67.8h.01M447.7 62.0h.01M445.3 60.1h.01M439.0 61.9h.01M446.4 75.8h.01M441.3 70.8h.01M439.0 72.0h.01M437.2 65.1h.01M435.2 71.2h.01M436.6 77.0h.01M442.4 79.4h.01M439.0 60.9h.01M436.0 78.8h.01M438.7 68.3h.01M437.5 70.6h.01M439.1 60.5h.01M437.4 77.9h.01M446.4 70.2h.01M437.8 80.3h.01M439.3 63.1h.01M439.5 75.8h.01M446.9 67.8h.01M442.4 68.8h.01M445.0 72.8h.01M441.2 64.4h.01M438.6 68.9h.01M440.0 69.6h.01M438.5 71.2h.01M441.1 62.2h.01M440.6 71.8h.01M440.2 60.9h.01M439.4 62.3h.01M441.6 80.0h.01M443.8 68.7h.01M437.7 67.2h.01M441.6 66.5h.01M437.7 54.0h.01M436.3 65.7h.01M437.7 79.3h.01M434.1 62.0h.01M442.7 64.4h.01M439.3 72.2h.01M440.1 65.8h.01M444.0 81.2h.01M435.6 69.2h.01M444.1 69.6h.01M435.6 68.1h.01M443.7 64.3h.01M441.1 73.6h.01M437.2 74.9h.01M442.9 77.8h.01M444.1 60.9h.01M443.9 75.0h.01M444.3 65.3h.01M444.0 73.6h.01M435.0 79.7h.01M436.6 64.1h.01M441.8 66.9h.01M441.6 69.4h.01M441.3 76.6h.01M439.9 77.0h.01M443.7 65.4h.01M443.8 75.3h.01M440.6 78.7h.01M447.3 76.2h.01M439.5 69.2h.01M441.6 68.9h.01M447.2 73.0h.01M440.1 76.4h.01M443.6 79.1h.01M442.8 70.9h.01M440.7 56.4h.01M438.6 83.4h.01M447.9 62.6h.01M436.6 73.8h.01M439.1 69.5h.01M438.9 71.0h.01M443.4 65.7h.01M442.3 66.3h.01M442.4 73.3h.01M436.7 72.1h.01M436.9 65.4h.01" stroke="#d85050" stroke-width="1.00" stroke-linecap="round" opacity="0.8"/>
<path d="M427.4 58.4h.01M440.0 33.9h.01M429.4 48.2h.01M427.2 61.4h.01M428.9 58.8h.01M426.0 57.3h.01M427.7 60.7h.01M436.8 38.3h.01M429.7 54.6h.01M435.4 49.9h.01M438.2 38.6h.01M436.2 44.9h.01M430.5 42.1h.01M437.4 32.5h.01M438.3 39.3h.01M426.5 64.0h.01M426.0 63.0h.01M437.5 45.1h.01M435.2 40.5h.01M429.4 59.5h.01M436.0 35.7h.01M445.6 41.4h.01M435.6 38.6h.01M434.7 41.1h.01M430.3 53.7h.01M437.1 52.9h.01M427.0 63.9h.01M430.9 41.7h.01M429.4 49.1h.01M433.4 45.3h.01M432.9 57.3h.01M431.5 53.7h.01M432.5 54.8h.01M426.9 58.7h.01M432.8 40.1h.01M433.0 53.5h.01M429.5 55.4h.01M432.3 34.6h.01M421.8 61.2h.01M437.6 48.8h.01M429.9 62.1h.01M427.7 59.2h.01M438.0 37.5h.01M431.3 59.3h.01M439.4 44.3h.01M431.1 57.7h.01M426.2 62.2h.01M427.7 55.0h.01M439.8 43.5h.01M432.5 48.1h.01M427.3 64.3h.01M432.8 54.6h.01M425.6 57.8h.01M439.4 38.1h.01M427.5 61.0h.01M442.8 39.0h.01M436.1 55.9h.01M427.5 55.4h.01M435.3 42.1h.01M432.5 54.9h.01M427.4 54.1h.01M431.8 54.5h.01M438.3 38.1h.01M435.3 50.3h.01M434.1 49.1h.01M421.4 61.4h.01M431.2 58.5h.01M438.6 41.5h.01M433.1 52.9h.01M438.9 41.8h.01M435.2 40.4h.01M433.4 47.6h.01M441.2 38.2h.01M436.2 46.6h.01M435.6 37.3h.01M431.0 57.9h.01M426.4 48.9h.01M427.5 61.9h.01M429.3 45.5h.01M423.4 55.9h.01M426.1 55.4h.01M433.3 47.2h.01M433.7 46.8h.01M436.4 47.9h.01M436.0 37.7h.01M432.1 34.9h.01M423.0 51.2h.01M431.1 45.2h.01M424.8 62.6h.01M434.1 48.5h.01M427.7 55.8h.01M426.7 53.8h.01M436.2 48.6h.01M432.0 64.2h.01M434.1 54.2h.01M432.6 42.3h.01M426.6 55.0h.01M438.7 45.1h.01M431.4 57.2h.01M434.7 49.5h.01M430.6 62.6h.01M437.6 40.7h.01M424.5 62.0h.01M433.4 45.9h.01M430.4 57.3h.01M442.7 44.1h.01M429.9 64.9h.01M436.2 32.0h.01M438.6 38.1h.01M435.9 44.9h.01M434.7 41.3h.01M432.1 48.0h.01M432.6 58.2h.01M430.1 64.8h.01M427.3 44.8h.01M435.0 31.9h.01M434.9 33.4h.01M433.6 34.6h.01M429.1 48.8h.01M428.0 51.3h.01M435.9 42.0h.01M425.9 60.4h.01M427.9 51.1h.01M437.7 34.8h.01M433.8 49.1h.01M427.3 55.3h.01M433.7 44.6h.01M427.9 60.3h.01M433.6 61.8h.01M432.7 44.8h.01M431.1 37.8h.01M432.7 41.5h.01M429.7 53.3h.01M433.8 39.5h.01M443.0 34.4h.01M435.3 41.9h.01M431.1 45.8h.01M428.5 55.8h.01M432.3 36.8h.01M425.0 60.5h.01M434.4 51.2h.01M425.8 54.5h.01M435.0 45.6h.01M428.3 51.2h.01M429.7 43.3h.01M429.8 61.5h.01M437.4 46.0h.01M430.2 45.1h.01M436.6 35.6h.01M438.9 42.4h.01M434.2 43.0h.01M429.3 61.1h.01M435.0 31.9h.01M433.5 47.0h.01M426.6 52.6h.01M433.5 45.5h.01M431.5 64.8h.01M443.1 43.6h.01M428.5 55.8h.01M433.8 43.3h.01M430.4 54.9h.01M422.1 61.4h.01M430.1 59.4h.01M437.0 39.3h.01M429.3 59.8h.01M430.6 56.4h.01M424.6 58.3h.01M439.9 43.9h.01M433.4 60.8h.01M438.4 32.7h.01M441.4 38.6h.01M438.6 37.5h.01M431.9 39.4h.01M425.0 54.0h.01M429.2 62.7h.01M426.4 59.7h.01M433.4 52.4h.01M433.6 56.9h.01M430.7 59.2h.01M438.0 38.0h.01M434.8 56.3h.01M433.9 46.4h.01M426.5 62.6h.01M436.0 53.4h.01M441.6 37.5h.01M437.4 62.4h.01M430.8 44.8h.01M424.3 59.8h.01M435.2 44.5h.01M428.5 46.3h.01M433.2 54.5h.01M438.9 45.0h.01M442.7 38.9h.01M438.5 49.2h.01M436.3 41.2h.01M429.2 54.2h.01M427.2 62.0h.01M437.3 38.6h.01M429.6 52.7h.01M443.3 41.3h.01M426.9 56.2h.01M423.3 55.1h.01M421.6 54.6h.01M424.0 60.9h.01M426.3 55.6h.01M439.5 40.4h.01M435.0 39.9h.01M425.9 58.3h.01M439.2 45.3h.01M434.8 42.4h.01M431.4 48.5h.01M429.4 56.4h.01M432.6 57.2h.01M435.4 49.1h.01M437.8 40.4h.01M439.0 59.3h.01M438.6 39.5h.01M425.1 55.5h.01M433.1 47.9h.01M424.4 61.1h.01M437.4 58.7h.01M428.2 56.9h.01M434.9 47.9h.01M438.8 35.4h.01M439.5 43.3h.01M441.3 35.2h.01M439.9 37.8h.01M432.2 44.5h.01M434.3 40.5h.01M430.1 51.3h.01M436.4 46.0h.01M437.2 61.0h.01M435.9 45.4h.01M428.4 54.8h.01M426.5 60.9h.01M429.6 52.3h.01M440.7 33.7h.01M426.6 56.2h.01M426.1 63.6h.01M435.5 51.6h.01M432.3 42.7h.01M429.6 64.7h.01M438.6 41.0h.01M436.2 56.8h.01M427.7 51.5h.01M429.5 57.2h.01M435.8 35.4h.01M431.6 46.7h.01M443.4 38.6h.01M440.4 45.0h.01M425.7 63.2h.01M429.9 61.3h.01M447.3 38.6h.01M429.8 56.2h.01M440.6 42.7h.01M429.9 52.6h.01M431.1 47.9h.01M438.0 34.9h.01M435.5 38.6h.01M427.5 61.5h.01M434.1 41.8h.01M431.5 59.3h.01M434.9 56.9h.01M428.4 52.8h.01M432.8 52.0h.01M429.6 51.9h.01M437.0 45.7h.01M432.3 48.8h.01M431.4 43.4h.01M440.9 34.6h.01M421.9 57.9h.01M429.3 58.9h.01M429.1 54.6h.01M433.6 43.7h.01M431.0 58.9h.01M430.8 65.0h.01M443.2 34.6h.01M440.6 35.0h.01M429.6 49.7h.01M437.8 54.6h.01M426.5 61.0h.01M438.3 41.0h.01M430.6 43.1h.01M432.8 51.2h.01M440.9 34.0h.01M433.2 34.3h.01M441.1 39.8h.01M435.9 45.0h.01M436.9 34.1h.01M437.4 40.2h.01M433.4 45.5h.01M425.7 57.7h.01M438.0 33.0h.01M432.3 65.1h.01M429.9 43.7h.01M437.0 31.7h.01M432.3 54.0h.01M427.9 51.6h.01M434.5 34.0h.01M434.7 38.4h.01M439.3 35.5h.01M436.1 36.8h.01M435.9 32.4h.01M431.8 44.6h.01M430.4 54.3h.01M428.8 53.3h.01M430.1 48.8h.01M430.2 56.7h.01M425.7 61.0h.01M431.4 37.3h.01M433.2 32.5h.01M423.4 62.4h.01M429.7 40.2h.01M430.6 45.6h.01M440.4 40.9h.01M433.1 41.5h.01M421.9 54.4h.01M426.2 51.4h.01M434.7 52.3h.01M430.6 61.7h.01M442.2 44.7h.01M441.2 34.6h.01M429.4 55.0h.01M430.6 57.3h.01M428.2 56.9h.01M433.9 36.2h.01M427.0 55.3h.01M432.5 45.0h.01M428.3 63.3h.01M437.2 49.2h.01" stroke="#ec4040" stroke-width="1.00" stroke-linecap="round" opacity="0.85"/>
<path d="M428.1 55.7h.01M437.0 45.2h.01M427.2 55.9h.01M434.6 53.9h.01M426.0 58.7h.01M433.1 49.3h.01M430.0 60.1h.01M442.8 47.7h.01M443.3 36.8h.01M439.1 45.4h.01M434.5 56.9h.01M432.5 45.3h.01M428.5 59.2h.01M427.1 53.0h.01M430.2 61.3h.01M438.8 49.3h.01M433.6 59.4h.01M429.6 55.5h.01M433.5 63.2h.01M436.9 58.0h.01M422.4 56.7h.01M440.3 37.5h.01M438.2 36.3h.01M437.6 53.6h.01M431.6 32.0h.01M427.3 50.5h.01M423.2 58.5h.01M435.0 48.7h.01M433.5 59.9h.01M439.4 46.0h.01M432.9 55.2h.01M433.3 53.8h.01M438.7 57.2h.01M438.6 48.9h.01M431.6 43.0h.01M427.2 58.5h.01M421.3 50.9h.01M440.1 47.7h.01M432.0 50.8h.01M442.4 39.0h.01M432.5 55.1h.01M432.2 57.8h.01M434.5 32.8h.01M433.0 30.6h.01M433.6 48.9h.01M439.0 37.3h.01M433.3 52.1h.01M437.4 44.0h.01M441.7 52.8h.01M437.9 40.0h.01M430.5 42.6h.01M435.8 39.6h.01M434.6 33.2h.01M437.7 47.1h.01M434.0 46.1h.01M432.9 53.6h.01M441.5 34.1h.01M440.2 37.3h.01M432.4 33.2h.01M426.8 48.3h.01M428.9 58.6h.01M425.8 58.0h.01M433.5 46.0h.01M436.8 43.2h.01M432.7 32.8h.01M437.2 41.7h.01M430.0 58.4h.01M437.3 43.3h.01M435.6 44.6h.01M434.6 48.6h.01M436.8 31.3h.01M432.7 41.1h.01M434.8 61.1h.01M444.8 42.7h.01M438.1 35.0h.01M444.7 35.6h.01M431.4 55.9h.01M432.4 61.4h.01M425.1 51.4h.01M431.7 53.9h.01" stroke="#b82828" stroke-width="0.90" stroke-linecap="round" opacity="0.8"/>
<g filter="url(#b1)"><ellipse cx="429.5" cy="73" rx="6.2" ry="10.5" fill="#ff2c2c"/></g>
<g filter="url(#b1)"><ellipse cx="428.8" cy="105" rx="6.6" ry="15" fill="#ff2c2c"/></g>
<g filter="url(#b1)"><polygon points="436,44 432,42 426,56 424,64 432,64" fill="#f24040"/></g>
<path d="M434.3 60.3h.01M432.0 73.5h.01M429.0 74.9h.01M425.3 57.6h.01M436.2 71.0h.01M432.7 80.7h.01M430.5 76.2h.01M432.0 83.9h.01M431.3 81.7h.01M428.5 70.1h.01M429.8 75.8h.01M431.4 86.5h.01M432.5 73.5h.01M436.6 75.3h.01M430.8 76.4h.01M428.3 65.5h.01M430.0 70.9h.01M426.4 73.8h.01M428.8 68.9h.01M423.2 71.8h.01M435.8 79.2h.01M433.4 72.9h.01M433.3 68.4h.01M427.9 76.6h.01M424.4 73.4h.01M430.6 84.7h.01M427.0 75.9h.01M427.2 69.2h.01M419.9 66.5h.01M433.6 76.6h.01M430.1 90.1h.01M431.4 64.5h.01M428.8 72.6h.01M435.2 66.8h.01M431.0 79.8h.01M426.6 73.6h.01M422.4 73.7h.01M421.7 70.4h.01M435.6 75.9h.01M429.7 74.1h.01M437.2 76.9h.01M433.2 70.0h.01M428.0 65.8h.01M428.9 68.2h.01M433.0 77.5h.01M429.1 69.3h.01M419.2 68.9h.01M430.6 77.6h.01M430.1 65.9h.01M428.7 69.8h.01M431.6 60.2h.01M427.5 79.6h.01M430.3 67.3h.01M431.1 75.0h.01M426.4 77.8h.01M431.9 72.1h.01M432.9 64.9h.01M432.2 71.7h.01M426.2 68.9h.01M433.7 69.2h.01M428.3 68.5h.01M426.7 79.7h.01M437.4 82.3h.01M431.3 78.3h.01M428.3 69.6h.01M425.3 83.0h.01M428.3 68.1h.01M427.3 74.4h.01M427.6 73.2h.01M430.1 82.3h.01M425.1 75.1h.01M427.1 70.1h.01M435.3 77.4h.01M428.1 76.4h.01M429.5 80.7h.01M427.8 76.4h.01M428.8 73.1h.01M429.0 68.8h.01M429.9 79.8h.01M427.4 70.4h.01M430.8 67.8h.01M432.6 77.9h.01M421.4 68.5h.01M425.7 78.8h.01M432.9 64.8h.01M427.1 72.5h.01M428.2 78.0h.01M433.0 77.2h.01M433.4 79.5h.01M429.3 70.1h.01M426.9 78.7h.01M432.7 80.1h.01M428.4 70.4h.01M430.5 81.7h.01M430.8 74.6h.01M426.6 76.1h.01M431.5 66.5h.01M435.8 66.7h.01M432.8 71.7h.01M430.1 67.7h.01M427.5 77.9h.01M428.9 70.7h.01M432.7 78.0h.01M430.1 74.7h.01M435.7 71.9h.01M430.9 76.0h.01M424.6 59.8h.01M430.0 79.1h.01M430.3 69.4h.01M427.2 78.7h.01M428.5 62.0h.01M432.0 74.7h.01M430.9 80.3h.01M434.2 77.0h.01M428.9 58.5h.01M430.6 72.1h.01M434.2 81.9h.01M431.2 82.5h.01M429.3 72.8h.01M426.6 71.0h.01M430.3 80.4h.01M426.9 78.6h.01M437.8 63.8h.01M428.6 73.2h.01M433.1 86.8h.01M433.9 72.8h.01M426.5 72.7h.01M429.4 74.8h.01M426.4 83.6h.01M427.0 77.8h.01M430.3 65.5h.01M429.8 73.2h.01M428.9 78.7h.01M427.9 90.6h.01M433.5 66.8h.01M420.7 81.7h.01M430.4 73.6h.01M426.1 63.1h.01M422.9 90.8h.01M435.2 69.3h.01M436.2 60.3h.01M432.0 77.9h.01M426.5 69.9h.01M425.8 73.3h.01M434.2 79.9h.01M431.0 80.8h.01M423.2 87.0h.01M429.3 63.9h.01M428.2 68.5h.01M429.9 75.2h.01M421.2 81.8h.01M435.7 65.8h.01M434.8 81.8h.01M433.1 84.4h.01M424.6 78.1h.01M425.9 89.5h.01M426.0 64.5h.01M433.5 77.4h.01M429.6 74.0h.01M431.7 85.1h.01M427.0 69.1h.01M427.4 72.5h.01M429.6 64.0h.01M430.6 64.2h.01M428.4 71.3h.01M428.6 83.4h.01M435.4 80.5h.01M435.2 71.0h.01M434.6 72.6h.01M430.3 74.9h.01M424.7 68.8h.01M428.9 75.6h.01M429.1 67.1h.01M425.3 73.1h.01M425.3 64.8h.01M429.1 74.3h.01M426.5 60.6h.01M430.5 78.7h.01M428.0 70.4h.01M421.1 79.3h.01M425.6 78.0h.01M427.4 72.0h.01M428.8 60.4h.01M439.4 62.1h.01M429.9 67.3h.01M428.6 82.6h.01M422.8 72.0h.01M431.3 73.8h.01M430.9 67.8h.01M423.6 63.8h.01M428.0 78.2h.01M429.8 84.2h.01M429.9 74.4h.01M430.2 60.9h.01M431.6 65.2h.01M428.1 89.4h.01M425.1 73.8h.01M430.6 73.9h.01M429.5 69.1h.01M436.7 59.0h.01M425.8 83.4h.01M431.5 67.6h.01M426.3 71.3h.01M439.0 76.5h.01M425.8 74.7h.01M427.2 83.5h.01M430.6 81.8h.01M430.1 87.3h.01M431.0 75.0h.01M425.8 70.1h.01M430.9 69.5h.01M438.5 72.9h.01M426.8 79.9h.01M427.6 75.8h.01M429.2 68.0h.01M434.5 73.6h.01M433.4 70.6h.01M424.4 64.3h.01M427.6 71.7h.01M429.7 76.6h.01M425.0 74.6h.01M425.1 68.2h.01M438.7 81.9h.01M428.2 85.5h.01M434.6 79.2h.01M434.8 71.3h.01M429.1 67.0h.01M431.6 64.2h.01M427.7 76.2h.01M427.7 75.4h.01M436.1 66.1h.01M434.6 68.2h.01M426.1 74.6h.01M433.2 68.0h.01M426.9 69.9h.01M426.9 74.3h.01M426.9 71.2h.01M430.8 70.1h.01M433.7 68.3h.01M426.7 87.3h.01M434.9 73.5h.01M432.5 75.4h.01M427.7 77.7h.01M430.6 82.0h.01M422.9 78.6h.01M430.1 68.2h.01M428.0 70.2h.01M424.7 69.0h.01M432.3 62.4h.01M428.1 56.4h.01M427.4 75.7h.01M429.3 73.3h.01M425.5 77.0h.01M426.2 79.4h.01M430.3 70.3h.01M434.8 70.2h.01M433.2 73.7h.01M429.5 80.0h.01M431.1 73.0h.01M429.1 74.5h.01M429.8 70.7h.01M425.8 54.9h.01M429.1 71.3h.01M433.9 76.1h.01M433.6 85.2h.01M429.1 67.1h.01M432.4 68.8h.01M428.6 83.1h.01M431.5 80.7h.01M424.6 73.3h.01M433.5 64.0h.01M430.2 75.8h.01M421.2 84.2h.01M426.9 72.0h.01M435.6 60.5h.01M431.2 69.9h.01M429.7 67.3h.01M434.4 65.2h.01M430.8 76.8h.01M429.2 71.1h.01M428.6 80.2h.01M431.1 72.4h.01M425.6 74.1h.01M431.4 72.8h.01M434.7 59.7h.01M438.5 71.7h.01M425.4 60.8h.01M432.6 77.0h.01M428.7 72.7h.01M430.1 70.1h.01M433.7 77.4h.01M429.1 61.6h.01M434.5 69.7h.01M425.8 82.1h.01M431.3 58.9h.01M423.5 70.3h.01M425.0 72.0h.01M438.9 93.9h.01M429.4 78.7h.01M432.7 72.2h.01M424.2 80.6h.01M428.9 76.2h.01M432.1 67.4h.01M435.6 73.6h.01M430.3 70.0h.01M432.1 80.2h.01M427.5 77.2h.01M428.0 64.4h.01M428.3 77.3h.01M431.5 80.6h.01M427.1 70.9h.01M429.8 77.4h.01M429.1 66.4h.01M423.9 81.3h.01M433.4 68.4h.01M434.9 72.6h.01M431.2 81.9h.01M427.8 67.6h.01M423.3 75.2h.01M431.2 79.2h.01M431.7 73.8h.01M433.7 65.9h.01M431.0 76.7h.01M429.1 85.2h.01M431.1 82.6h.01M432.8 71.9h.01M436.5 80.9h.01M429.6 72.3h.01M425.8 72.1h.01M428.7 74.6h.01M428.0 77.1h.01M429.3 62.0h.01M427.7 66.8h.01M425.0 71.3h.01M432.9 65.3h.01M422.3 72.0h.01M440.4 69.0h.01M430.5 70.2h.01M432.7 83.3h.01M429.0 81.4h.01M425.7 74.6h.01M425.0 74.5h.01M427.4 74.8h.01M425.5 74.8h.01M430.0 69.1h.01M426.7 64.8h.01M428.1 76.0h.01M429.1 74.3h.01M434.2 70.9h.01M430.6 79.0h.01M431.4 75.9h.01M429.9 86.7h.01M429.3 70.4h.01M431.7 84.7h.01M434.7 73.4h.01M432.6 76.7h.01M429.9 77.8h.01M431.8 74.2h.01M435.8 70.5h.01M434.6 87.9h.01M437.2 75.1h.01M428.9 62.0h.01M429.4 90.3h.01M423.9 62.3h.01M432.6 77.5h.01M423.0 72.8h.01M430.8 62.5h.01M433.1 63.9h.01M433.7 74.6h.01M427.1 61.9h.01M428.4 72.5h.01M429.1 69.0h.01M428.8 79.3h.01M426.3 71.7h.01M431.2 73.0h.01M432.7 84.1h.01M428.3 74.7h.01M432.0 65.3h.01M434.4 59.9h.01M434.5 69.5h.01M425.9 69.7h.01M428.6 66.0h.01M424.6 69.5h.01M433.0 76.0h.01M434.4 68.8h.01M428.3 70.8h.01M430.1 76.4h.01M435.9 78.1h.01M430.2 82.6h.01M426.7 63.9h.01M432.0 74.3h.01M430.0 79.7h.01M428.3 72.3h.01M430.9 77.7h.01M433.1 73.9h.01M430.5 56.1h.01M434.0 62.1h.01M429.4 90.9h.01M428.4 62.0h.01M435.4 69.2h.01M429.0 71.9h.01M432.2 78.5h.01M429.1 80.9h.01M426.3 77.8h.01M427.3 78.0h.01M427.1 70.0h.01M434.9 65.2h.01M425.3 77.1h.01M428.6 70.0h.01M429.0 87.9h.01M425.8 71.2h.01M430.1 66.5h.01M429.4 76.4h.01M426.2 80.9h.01M425.4 72.0h.01M430.7 95.3h.01M423.2 75.0h.01M438.6 68.9h.01M433.4 74.5h.01M424.4 75.8h.01M426.3 73.6h.01M424.1 78.1h.01M420.8 71.8h.01M434.1 76.6h.01M428.3 71.4h.01M428.0 92.1h.01M429.3 72.9h.01M426.9 69.7h.01M431.7 68.7h.01M426.6 69.2h.01M428.2 74.2h.01M427.8 71.7h.01M426.8 81.7h.01M429.8 70.8h.01M430.5 72.7h.01M423.9 71.7h.01M435.4 76.5h.01M433.7 68.3h.01M424.1 68.1h.01M434.4 66.0h.01M426.6 80.7h.01M428.6 71.6h.01M430.9 73.6h.01M428.4 74.8h.01M426.9 72.7h.01M431.9 65.6h.01M428.7 65.0h.01M432.2 77.3h.01M432.9 80.2h.01M433.2 78.0h.01M426.7 79.5h.01M426.2 89.3h.01M430.5 77.2h.01M425.1 80.5h.01M433.7 62.0h.01M427.5 69.7h.01M427.2 82.7h.01M437.3 65.5h.01M433.3 71.2h.01M434.4 55.8h.01M427.9 81.5h.01M426.8 81.3h.01M427.7 81.0h.01M431.6 70.0h.01M426.7 71.8h.01M433.7 72.9h.01M427.1 96.2h.01M423.8 71.4h.01M431.4 65.7h.01M429.4 70.0h.01M424.2 76.2h.01M425.4 67.7h.01M433.9 65.1h.01M431.7 81.3h.01M433.1 76.3h.01M428.6 63.1h.01M430.0 76.1h.01M427.6 66.0h.01M432.6 65.6h.01M431.1 69.6h.01M423.4 84.3h.01M431.7 76.7h.01M424.4 72.0h.01M430.5 67.7h.01M435.4 58.7h.01M432.0 59.6h.01M423.8 63.9h.01M431.5 67.8h.01M427.0 66.5h.01M424.1 66.5h.01M425.8 70.5h.01M428.0 55.9h.01M427.0 81.2h.01M427.6 72.1h.01M426.7 67.8h.01M429.0 63.1h.01M428.7 60.8h.01M430.5 61.5h.01M431.6 79.6h.01M423.4 77.2h.01M427.7 80.6h.01M427.3 70.4h.01M428.1 81.2h.01M422.2 77.7h.01M429.5 68.9h.01M428.3 78.9h.01M432.1 84.2h.01M426.8 59.1h.01M427.1 70.9h.01M427.6 80.8h.01M437.3 74.9h.01M422.7 79.6h.01M426.8 72.6h.01M432.2 74.8h.01M428.9 74.3h.01M431.9 76.7h.01M436.6 51.3h.01M426.3 68.2h.01M432.1 73.8h.01M432.2 62.3h.01M428.3 76.8h.01M428.9 69.5h.01M430.1 83.8h.01M421.5 83.4h.01M430.1 66.3h.01M431.5 72.5h.01M433.5 66.6h.01M432.6 65.9h.01M430.3 77.1h.01M428.8 76.7h.01M427.0 79.7h.01M427.3 67.3h.01M428.7 71.9h.01M426.1 77.8h.01M428.7 76.5h.01M423.7 63.0h.01M428.2 65.3h.01M428.6 76.2h.01M433.1 82.5h.01M431.9 67.3h.01M431.1 68.6h.01M431.1 64.9h.01M434.0 75.2h.01M428.1 62.7h.01M430.1 68.6h.01M430.0 67.3h.01M427.2 76.6h.01M434.4 63.4h.01M428.4 75.0h.01M428.6 69.2h.01M436.9 66.4h.01M430.4 68.9h.01M428.8 56.3h.01M432.3 70.8h.01M425.7 83.9h.01M428.1 68.0h.01M426.1 79.8h.01M429.2 70.1h.01M424.4 66.0h.01M430.4 72.1h.01M421.9 66.2h.01M430.0 91.1h.01M426.4 56.7h.01M431.9 68.9h.01M424.4 76.2h.01M428.3 65.5h.01M424.4 71.4h.01M429.4 59.8h.01M432.7 63.4h.01M434.2 74.6h.01M428.5 74.6h.01M427.0 71.8h.01M435.1 68.3h.01M432.1 66.0h.01M429.1 79.0h.01M424.8 74.6h.01M421.4 64.3h.01M427.6 78.5h.01M431.7 65.9h.01M428.7 73.6h.01M423.5 75.3h.01M434.0 81.0h.01M427.0 69.4h.01M425.8 68.8h.01M428.2 77.1h.01M429.4 65.8h.01M432.1 78.5h.01M426.9 70.6h.01M428.8 60.8h.01M429.6 77.0h.01M436.2 73.6h.01M428.1 71.3h.01M431.3 77.9h.01M426.1 73.7h.01M431.5 58.3h.01M434.1 70.8h.01M432.3 72.0h.01M428.3 71.8h.01M430.2 78.4h.01M428.2 64.5h.01M426.6 65.5h.01M431.9 65.6h.01M434.6 73.3h.01M428.8 81.5h.01M427.8 70.3h.01M432.0 77.5h.01M425.6 89.6h.01M431.2 63.6h.01M428.6 78.9h.01M430.0 78.4h.01M437.7 78.9h.01M436.4 77.2h.01M426.8 83.0h.01M426.7 79.1h.01M431.6 66.5h.01M426.7 71.2h.01M430.7 81.8h.01M429.5 85.8h.01M432.4 68.1h.01M427.1 73.2h.01M427.4 72.0h.01M432.1 74.5h.01M432.8 67.8h.01M426.2 62.9h.01M422.9 69.6h.01M429.6 71.3h.01M429.4 87.0h.01M425.4 70.9h.01M427.6 66.4h.01M434.2 72.5h.01M433.9 64.9h.01M436.1 88.6h.01M426.3 72.7h.01M428.9 76.7h.01M424.7 76.1h.01M432.0 68.6h.01M421.3 68.1h.01M428.0 78.2h.01M427.2 64.8h.01M431.6 75.4h.01M432.1 73.2h.01M433.2 76.4h.01M423.0 74.2h.01M432.2 73.1h.01M434.7 69.7h.01M431.9 64.3h.01M429.4 69.0h.01M425.8 63.7h.01M430.2 75.9h.01M427.2 64.2h.01" stroke="#f42222" stroke-width="1.10" stroke-linecap="round" opacity="0.85"/>
<path d="M433.7 100.7h.01M425.5 96.1h.01M433.1 103.3h.01M427.5 89.7h.01M433.3 114.0h.01M430.0 111.4h.01M429.4 105.0h.01M426.6 106.3h.01M426.0 97.8h.01M424.1 105.3h.01M426.1 99.2h.01M434.1 103.6h.01M428.7 89.4h.01M426.8 113.3h.01M430.9 104.5h.01M428.1 104.6h.01M430.3 100.9h.01M433.1 102.5h.01M434.2 91.6h.01M433.7 105.8h.01M432.2 100.7h.01M429.4 109.5h.01M432.8 108.9h.01M430.5 98.4h.01M435.3 106.0h.01M427.9 100.9h.01M424.2 97.0h.01M423.0 105.9h.01M428.5 106.1h.01M424.0 100.0h.01M426.4 113.4h.01M423.1 89.6h.01M433.7 107.4h.01M422.8 116.8h.01M434.5 114.8h.01M421.0 105.1h.01M425.5 101.5h.01M422.8 120.5h.01M426.2 106.6h.01M431.9 109.8h.01M430.4 100.3h.01M429.6 101.9h.01M420.2 113.5h.01M426.4 99.0h.01M427.2 90.8h.01M424.2 86.8h.01M430.6 115.2h.01M429.1 93.1h.01M433.8 100.9h.01M422.7 86.1h.01M429.5 117.7h.01M427.3 97.9h.01M427.7 95.9h.01M426.7 106.4h.01M426.0 112.8h.01M425.1 110.7h.01M430.1 100.3h.01M427.6 100.9h.01M435.2 96.3h.01M433.3 113.5h.01M427.5 119.3h.01M419.7 106.3h.01M429.3 104.1h.01M432.0 100.1h.01M428.1 114.9h.01M428.3 94.1h.01M430.9 103.2h.01M426.6 109.2h.01M425.8 94.6h.01M427.8 102.1h.01M429.0 92.5h.01M435.3 110.4h.01M429.3 106.1h.01M419.3 112.7h.01M424.9 108.7h.01M424.2 113.3h.01M426.7 101.9h.01M434.6 113.3h.01M423.5 97.3h.01M429.5 101.7h.01M431.8 97.4h.01M421.6 95.3h.01M428.1 109.1h.01M431.6 115.8h.01M429.7 102.0h.01M431.6 103.0h.01M427.0 99.5h.01M432.3 118.0h.01M433.8 88.7h.01M432.9 93.3h.01M427.5 109.5h.01M423.7 92.3h.01M425.9 120.0h.01M432.9 95.4h.01M429.3 105.2h.01M430.0 97.2h.01M434.3 100.3h.01M431.9 87.9h.01M430.3 105.3h.01M433.9 79.3h.01M430.9 111.7h.01M427.8 116.4h.01M436.8 112.3h.01M431.9 116.8h.01M430.4 115.6h.01M431.1 97.4h.01M424.8 115.1h.01M431.1 97.6h.01M428.9 117.9h.01M422.3 95.4h.01M431.4 111.8h.01M424.3 94.5h.01M429.4 117.3h.01M428.8 81.9h.01M432.7 103.8h.01M427.0 92.9h.01M433.3 106.5h.01M430.3 107.3h.01M430.4 111.9h.01M435.3 93.9h.01M428.5 99.7h.01M435.2 101.2h.01M422.7 103.7h.01M426.0 96.9h.01M427.1 91.5h.01M428.3 95.1h.01M431.2 116.6h.01M422.1 99.7h.01M429.9 95.9h.01M430.5 92.2h.01M426.2 102.8h.01M430.4 104.3h.01M426.2 100.4h.01M427.2 101.1h.01M429.8 109.4h.01M430.1 97.5h.01M422.5 102.3h.01M425.7 98.7h.01M428.8 106.2h.01M433.7 102.5h.01M422.2 109.5h.01M432.3 88.3h.01M431.1 105.7h.01M426.7 105.5h.01M430.2 109.6h.01M433.1 103.8h.01M424.7 101.3h.01M427.4 111.2h.01M433.0 91.3h.01M433.5 92.6h.01M438.7 97.5h.01M433.0 101.4h.01M431.5 96.8h.01M429.3 104.1h.01M429.1 111.5h.01M427.1 100.8h.01M423.8 102.6h.01M426.9 112.3h.01M431.3 97.0h.01M430.5 116.4h.01M428.0 92.8h.01M438.1 109.2h.01M425.7 106.8h.01M421.6 108.6h.01M430.3 96.5h.01M425.5 102.3h.01M427.9 119.0h.01M427.8 102.4h.01M428.1 88.7h.01M426.9 91.1h.01M429.3 83.1h.01M424.5 106.4h.01M420.8 89.1h.01M432.6 91.3h.01M428.7 106.8h.01M424.7 87.9h.01M434.6 98.6h.01M430.7 96.7h.01M430.2 91.4h.01M423.5 94.0h.01M426.4 97.9h.01M427.5 108.0h.01M426.7 112.8h.01M426.2 110.2h.01M433.8 120.5h.01M421.2 120.3h.01M422.1 117.4h.01M428.7 107.3h.01M425.2 112.8h.01M431.4 98.7h.01M426.4 112.1h.01M432.7 111.2h.01M427.3 104.0h.01M432.3 111.9h.01M433.1 105.3h.01M426.1 106.7h.01M430.5 98.9h.01M430.5 96.0h.01M429.8 98.2h.01M436.8 115.3h.01M429.8 91.5h.01M424.1 110.6h.01M428.2 106.9h.01M422.8 89.6h.01M429.2 102.0h.01M423.7 96.3h.01M431.8 99.8h.01M431.0 119.6h.01M430.1 105.2h.01M426.5 115.5h.01M423.3 93.5h.01M428.7 89.9h.01M432.5 98.0h.01M430.8 101.0h.01M427.8 104.1h.01M421.3 93.6h.01M431.9 110.8h.01M424.8 112.4h.01M433.5 111.1h.01M438.7 91.1h.01M424.7 101.4h.01M425.1 104.4h.01M430.7 103.8h.01M429.2 107.8h.01M431.7 97.7h.01M426.2 115.3h.01M427.5 96.0h.01M429.8 100.6h.01M429.2 103.3h.01M431.2 112.6h.01M425.6 92.4h.01M434.8 97.4h.01M422.9 85.9h.01M428.6 97.8h.01M421.8 94.9h.01M424.7 113.3h.01M429.6 103.8h.01M423.9 102.2h.01M431.3 105.4h.01M432.8 104.6h.01M431.4 108.2h.01M426.6 116.6h.01M430.1 111.7h.01M424.7 93.5h.01M428.1 96.2h.01M431.1 107.7h.01M433.4 109.4h.01M424.4 112.9h.01M426.3 96.9h.01M429.0 103.8h.01M430.3 117.7h.01M427.9 107.0h.01M426.8 99.8h.01M433.8 108.2h.01M430.4 96.2h.01M435.2 102.2h.01M426.3 103.7h.01M431.3 111.0h.01M434.3 93.8h.01M427.1 118.7h.01M437.4 97.9h.01M428.4 89.2h.01M425.6 95.5h.01M428.4 92.6h.01M432.3 103.3h.01M427.8 112.6h.01M427.7 92.1h.01M429.1 108.8h.01M428.0 101.8h.01M430.7 78.8h.01M424.0 98.2h.01M427.7 117.7h.01M438.1 109.9h.01M430.3 110.3h.01M434.5 94.6h.01M426.9 105.4h.01M429.9 85.9h.01M430.4 88.8h.01M431.7 111.9h.01M420.2 108.6h.01M429.5 98.0h.01M430.6 93.5h.01M423.3 92.8h.01M424.9 114.5h.01M429.8 103.6h.01M432.1 104.0h.01M428.9 95.9h.01M426.4 104.1h.01M424.3 119.6h.01M429.2 98.7h.01M432.4 93.8h.01M432.8 104.7h.01M435.9 98.6h.01M427.2 95.9h.01M424.0 106.2h.01M424.7 106.9h.01M426.3 113.8h.01M419.1 107.8h.01M428.9 103.8h.01M426.3 120.4h.01M427.2 107.9h.01M427.7 100.4h.01M429.1 110.2h.01M424.5 99.4h.01M423.4 107.6h.01M425.5 96.8h.01M431.2 103.7h.01M430.3 102.5h.01M430.3 104.6h.01M424.5 105.8h.01M427.4 101.5h.01M429.8 98.6h.01M424.7 115.0h.01M435.7 100.5h.01M433.1 107.5h.01M426.3 95.9h.01M427.7 99.7h.01M427.5 102.6h.01M424.4 112.0h.01M424.4 93.7h.01M432.2 111.0h.01M434.2 105.1h.01M426.3 114.7h.01M428.4 102.6h.01M425.5 107.6h.01M419.8 108.8h.01M421.1 112.1h.01M422.8 110.3h.01M438.1 101.2h.01M427.0 93.2h.01M433.5 76.8h.01M423.1 91.3h.01M426.1 84.6h.01M431.8 113.5h.01M428.5 99.9h.01M422.8 108.2h.01M426.1 109.6h.01M432.6 104.2h.01M420.7 94.9h.01M433.9 106.4h.01M434.1 82.6h.01M428.3 102.1h.01M422.6 97.7h.01M432.4 109.0h.01M426.7 106.9h.01M433.3 93.6h.01M429.8 113.7h.01M426.1 116.2h.01M428.4 114.4h.01M432.2 106.3h.01M427.6 97.6h.01M429.4 105.8h.01M434.1 103.0h.01M430.1 119.9h.01M430.0 108.2h.01M434.9 104.7h.01M430.3 111.0h.01M428.3 93.3h.01M423.2 101.9h.01M433.0 113.3h.01M434.9 112.5h.01M426.3 90.0h.01M426.8 101.3h.01M425.9 112.6h.01M425.7 109.4h.01M431.7 87.3h.01M427.1 115.8h.01M431.9 105.0h.01M424.5 97.2h.01M429.1 115.8h.01M430.6 103.0h.01M429.6 111.2h.01M422.1 94.4h.01M428.9 115.3h.01M432.8 96.4h.01M428.8 96.8h.01M427.3 105.2h.01M427.4 98.5h.01M424.3 88.8h.01M428.0 105.6h.01M431.1 96.1h.01M426.0 115.8h.01M430.3 112.2h.01M426.6 97.0h.01M424.4 113.2h.01M424.4 87.4h.01M425.9 115.8h.01M428.8 106.0h.01M429.2 103.4h.01M428.1 90.5h.01M435.0 102.4h.01M433.3 89.0h.01M430.8 92.6h.01M423.8 106.3h.01M432.6 116.8h.01M433.8 101.2h.01M431.7 98.1h.01M426.7 106.1h.01M428.3 111.9h.01M421.8 114.6h.01M426.5 117.8h.01M433.1 92.9h.01M428.5 110.2h.01M425.7 96.8h.01M427.6 110.9h.01M432.2 99.8h.01M431.9 117.8h.01M432.2 96.9h.01M425.6 106.5h.01M431.8 107.9h.01M427.3 95.1h.01M433.5 102.5h.01M435.8 93.0h.01M427.5 97.8h.01M435.7 115.6h.01M426.9 85.7h.01M433.1 105.1h.01M424.5 89.7h.01M430.3 102.0h.01M429.3 107.6h.01M427.4 101.3h.01M431.3 102.9h.01M427.7 110.0h.01M421.3 115.7h.01M430.5 96.7h.01M428.1 115.5h.01M430.9 87.2h.01M424.9 105.7h.01M435.5 111.2h.01M428.0 109.4h.01M428.8 101.1h.01M430.2 83.8h.01M432.6 109.0h.01M427.1 95.9h.01M424.2 106.6h.01M429.4 105.7h.01M435.3 83.2h.01M426.1 96.7h.01M432.4 101.6h.01M425.2 106.0h.01M430.3 119.2h.01M429.8 99.9h.01M426.9 96.3h.01M430.6 111.7h.01M427.9 102.7h.01M434.0 105.0h.01M430.7 93.8h.01M426.5 83.9h.01M423.6 107.5h.01M433.5 101.5h.01M424.3 104.9h.01M433.1 102.5h.01M432.3 103.4h.01M424.2 95.5h.01M431.0 101.8h.01M429.9 106.0h.01M427.1 103.0h.01M427.8 111.0h.01M434.7 116.5h.01M427.6 109.2h.01M426.1 93.7h.01M429.1 109.8h.01M428.6 111.8h.01M431.9 111.2h.01M428.2 91.2h.01M435.6 99.5h.01M431.6 108.6h.01M427.5 121.2h.01M431.3 103.9h.01M427.2 94.9h.01M424.0 109.4h.01M427.1 99.8h.01M430.7 100.8h.01M431.3 98.0h.01M426.9 112.7h.01M426.2 109.8h.01M430.7 104.1h.01M422.6 91.7h.01M424.7 91.9h.01M432.0 95.8h.01M424.1 99.3h.01M428.4 88.3h.01M431.1 110.8h.01M426.6 111.6h.01M423.0 98.8h.01M428.2 104.7h.01M433.1 100.9h.01M425.0 106.0h.01M429.4 108.2h.01M427.5 105.6h.01M426.7 109.3h.01M426.3 98.2h.01M433.2 96.9h.01M428.8 109.3h.01M427.6 112.5h.01M426.6 113.5h.01M423.0 91.3h.01M429.0 117.4h.01M434.8 95.9h.01M428.7 99.4h.01M420.8 110.8h.01M427.4 116.8h.01M429.8 99.0h.01M426.2 102.2h.01M430.5 99.4h.01M439.3 105.9h.01M424.5 104.7h.01M433.1 108.0h.01M427.6 97.8h.01M425.8 92.9h.01M426.9 106.4h.01M426.7 119.2h.01M430.2 99.8h.01M428.7 117.7h.01M422.4 106.2h.01M438.8 113.3h.01M425.4 105.1h.01M426.3 101.4h.01M427.6 90.7h.01M430.7 99.9h.01M430.6 111.0h.01M431.4 88.1h.01M434.4 112.0h.01M431.8 104.1h.01M428.8 98.9h.01M430.4 112.6h.01M426.7 111.6h.01M427.0 109.5h.01M428.2 112.0h.01M436.0 106.1h.01M427.0 100.0h.01M431.1 99.4h.01M432.5 106.8h.01M432.2 98.8h.01M425.2 97.0h.01M430.3 96.6h.01M431.4 84.8h.01M426.3 102.5h.01M422.0 98.3h.01M423.2 103.3h.01M427.9 111.0h.01M425.7 88.8h.01M426.8 105.2h.01M429.2 105.6h.01M433.4 100.7h.01M428.0 96.1h.01M426.6 113.8h.01M430.2 79.6h.01M433.3 85.4h.01M427.3 113.1h.01M429.3 109.3h.01M432.1 106.8h.01M424.1 107.5h.01M426.2 81.4h.01M427.7 109.2h.01M429.3 104.1h.01M435.3 106.6h.01M432.2 107.1h.01M435.0 100.6h.01M433.2 121.1h.01M427.4 113.9h.01M423.8 107.1h.01M431.6 96.3h.01M422.1 104.6h.01M427.6 105.9h.01M429.9 111.9h.01M434.7 108.2h.01M423.1 110.5h.01M430.3 105.5h.01M434.8 106.7h.01M427.5 108.5h.01M422.9 113.2h.01M429.1 120.0h.01M431.5 107.7h.01M429.6 93.2h.01M428.6 107.0h.01M432.6 108.3h.01M431.5 110.7h.01M426.9 107.1h.01M428.1 92.6h.01M423.3 112.0h.01M434.3 117.6h.01M425.8 118.4h.01M434.8 97.2h.01M430.8 120.3h.01M429.3 115.4h.01M426.6 101.2h.01M432.2 102.8h.01M429.4 105.2h.01M425.1 118.3h.01M428.4 101.3h.01M427.3 105.0h.01M425.5 112.5h.01M427.7 111.8h.01M425.7 94.8h.01M425.5 106.5h.01M424.0 112.2h.01M427.7 112.7h.01M427.5 111.9h.01M425.1 94.0h.01M431.1 99.2h.01M432.9 97.8h.01M430.8 96.6h.01M422.4 117.7h.01M428.1 113.4h.01M429.6 88.2h.01M430.4 114.4h.01M433.7 119.6h.01M430.4 103.3h.01M429.2 93.4h.01M431.7 111.0h.01M430.2 97.0h.01M431.3 99.1h.01M433.6 98.6h.01M426.9 101.2h.01M425.0 95.8h.01M427.8 81.2h.01M436.4 107.7h.01M430.0 95.9h.01M429.6 104.1h.01M429.2 90.3h.01M428.4 86.4h.01M428.1 95.8h.01M426.6 101.1h.01M432.0 115.6h.01M429.0 94.0h.01M434.4 90.9h.01M426.8 102.1h.01M426.1 116.6h.01M430.4 114.2h.01M427.7 112.3h.01M428.3 102.7h.01M430.0 107.8h.01M431.0 102.1h.01M423.2 101.1h.01M425.8 111.8h.01M427.5 89.0h.01M430.4 108.6h.01M425.7 106.8h.01M429.4 97.6h.01M429.9 115.9h.01M425.6 108.3h.01M432.6 110.2h.01M422.8 106.7h.01M427.3 115.6h.01M424.2 108.7h.01M425.5 120.7h.01M434.7 95.3h.01M431.6 103.6h.01M422.7 94.2h.01M429.2 108.9h.01M427.4 106.8h.01M430.0 106.7h.01M424.3 105.3h.01M430.8 90.0h.01M434.6 117.7h.01M425.8 95.1h.01M426.5 97.3h.01M435.8 104.5h.01M428.6 107.5h.01M434.8 105.6h.01M427.4 106.6h.01M433.6 102.1h.01M434.1 106.9h.01M428.1 108.7h.01M436.3 101.7h.01M434.0 109.4h.01M429.4 104.5h.01M431.9 109.8h.01M430.2 110.2h.01M425.6 97.9h.01M425.1 100.8h.01M428.0 100.6h.01M430.8 95.2h.01M427.9 112.2h.01M435.1 104.6h.01M433.3 116.9h.01M425.0 106.3h.01M424.9 100.4h.01M430.3 92.2h.01M430.8 102.7h.01M427.9 109.1h.01M425.7 88.2h.01M428.9 97.3h.01M428.1 93.7h.01M425.3 94.4h.01M424.0 96.4h.01M425.9 104.2h.01M440.6 98.2h.01M422.9 109.4h.01M424.2 95.6h.01M427.5 104.3h.01M429.0 106.2h.01M428.3 114.3h.01M431.9 98.8h.01M428.0 91.3h.01M431.2 102.0h.01M435.9 97.6h.01M434.4 95.3h.01M422.5 95.9h.01M430.0 113.4h.01M425.5 112.9h.01M426.8 99.1h.01M427.6 119.2h.01M429.4 106.7h.01M423.1 105.4h.01M429.8 119.0h.01M425.5 97.3h.01M425.3 97.8h.01M431.2 96.4h.01M433.5 104.1h.01M425.3 97.8h.01M423.6 90.3h.01M433.0 112.0h.01M425.1 99.6h.01M434.7 97.0h.01M429.5 108.5h.01M428.0 102.0h.01M427.4 104.8h.01M422.9 104.2h.01M429.4 91.4h.01M430.4 95.1h.01M429.0 108.9h.01M427.1 90.2h.01M428.1 112.2h.01M428.5 90.0h.01M430.4 101.8h.01M428.0 104.2h.01M430.7 102.6h.01M425.1 102.6h.01M429.1 114.6h.01M424.1 102.3h.01M425.4 106.1h.01M426.6 75.0h.01M432.2 97.4h.01M424.6 89.6h.01M424.7 91.5h.01M428.1 104.9h.01M428.3 106.9h.01M425.5 109.2h.01M428.2 107.7h.01M430.9 100.2h.01M433.2 111.0h.01M427.1 120.0h.01M434.8 89.3h.01M420.3 97.9h.01M430.4 112.3h.01M431.1 103.5h.01M432.3 110.3h.01M427.0 105.4h.01M432.6 97.8h.01M426.3 95.9h.01M434.1 109.9h.01M431.8 100.3h.01M428.6 115.0h.01M427.7 114.7h.01M428.6 103.5h.01M430.7 111.7h.01M435.2 100.5h.01M435.0 96.7h.01M425.5 83.1h.01M431.8 117.5h.01M424.3 100.8h.01M427.8 89.4h.01M429.0 106.6h.01M426.9 94.3h.01M429.2 109.3h.01M423.5 102.9h.01M430.8 77.8h.01M429.9 119.7h.01M424.0 115.9h.01M427.6 109.4h.01M428.1 93.2h.01M423.8 101.3h.01M434.0 106.7h.01M429.4 85.2h.01M426.4 91.5h.01M422.1 107.2h.01M431.8 96.7h.01M426.3 107.8h.01M432.0 94.1h.01M433.1 112.6h.01M428.8 93.5h.01M430.9 110.3h.01M435.3 98.3h.01M434.6 100.6h.01M430.7 102.8h.01M429.1 117.5h.01M426.2 111.6h.01M427.7 103.5h.01M426.1 105.7h.01M421.3 101.5h.01M432.5 111.7h.01M422.7 93.4h.01M427.2 121.3h.01M427.2 103.8h.01M427.8 106.7h.01M425.4 106.3h.01M430.5 113.6h.01M425.5 112.3h.01" stroke="#f42222" stroke-width="1.10" stroke-linecap="round" opacity="0.85"/>
<path d="M427.7 81.4h.01M428.7 88.8h.01M433.6 89.0h.01M441.2 87.1h.01M432.2 84.8h.01M425.2 87.2h.01M430.3 91.2h.01M435.7 93.8h.01M433.0 87.9h.01M431.7 93.5h.01M425.3 91.1h.01M431.5 87.8h.01M436.9 85.6h.01M425.2 88.2h.01M426.7 93.7h.01M422.4 83.1h.01M430.7 91.3h.01M424.4 93.5h.01M421.3 92.4h.01M425.6 86.4h.01M436.9 88.0h.01M426.6 89.2h.01M437.2 88.5h.01M426.0 89.1h.01M424.1 85.5h.01M426.9 90.8h.01M427.2 90.2h.01M434.1 94.5h.01M422.2 88.0h.01M424.4 90.8h.01M430.3 88.2h.01M427.0 84.4h.01M422.1 92.1h.01M428.4 88.3h.01M430.6 91.4h.01M437.1 87.5h.01M432.0 81.7h.01M427.6 85.4h.01M426.6 92.8h.01M429.7 88.5h.01M429.5 87.3h.01M428.3 85.6h.01M427.0 86.5h.01M428.5 80.7h.01M429.5 88.1h.01M431.0 83.8h.01M425.3 91.4h.01M426.2 90.1h.01M426.4 83.4h.01M423.1 85.8h.01M427.2 83.3h.01M435.1 88.3h.01M425.5 94.1h.01M432.6 85.2h.01M424.9 87.5h.01M432.2 82.6h.01M434.0 86.7h.01M432.7 87.6h.01M431.2 90.7h.01M434.6 85.4h.01M437.1 83.2h.01M430.5 90.9h.01M429.3 91.7h.01M422.5 88.1h.01M433.4 88.3h.01M424.7 88.9h.01M430.0 84.3h.01M434.7 86.1h.01M425.0 88.7h.01M426.6 87.5h.01M430.2 86.6h.01M431.7 89.4h.01M434.3 84.3h.01M429.5 89.3h.01M430.5 80.0h.01M424.9 89.6h.01M431.7 88.4h.01M430.0 93.1h.01M427.8 85.3h.01M435.5 90.7h.01M428.6 85.5h.01M435.9 87.2h.01M425.9 93.3h.01M423.2 87.7h.01M431.9 87.2h.01M427.2 90.0h.01M424.3 87.4h.01M432.3 84.0h.01M435.0 87.5h.01M429.0 86.4h.01M431.7 86.4h.01M430.2 93.2h.01M434.5 82.3h.01M434.9 86.3h.01M430.5 88.7h.01M430.4 85.9h.01M431.7 92.3h.01M426.9 88.2h.01M432.7 92.5h.01M430.7 89.3h.01M431.3 86.9h.01M430.7 87.2h.01M427.9 79.0h.01M421.9 89.7h.01M432.3 90.0h.01M429.7 87.1h.01M431.6 86.7h.01M429.2 94.1h.01M423.5 85.9h.01M428.2 80.7h.01M424.3 92.4h.01M431.4 87.7h.01M434.6 84.3h.01M437.1 88.0h.01M426.7 92.5h.01M431.4 89.0h.01M428.7 81.1h.01M420.6 88.2h.01M433.2 85.1h.01M429.6 82.0h.01M423.0 87.9h.01M432.1 91.1h.01M434.1 85.0h.01M428.5 91.2h.01M424.9 86.9h.01M429.1 88.1h.01M432.8 89.8h.01M427.3 79.0h.01M432.4 92.1h.01M431.2 89.5h.01M431.0 92.9h.01M427.0 87.9h.01M425.0 87.3h.01M425.7 84.9h.01M420.9 87.7h.01M433.3 76.3h.01M434.4 87.9h.01M426.3 89.3h.01M428.0 87.8h.01M434.9 88.7h.01M430.6 87.0h.01M428.3 84.5h.01M428.6 85.0h.01M433.8 87.1h.01M432.1 93.1h.01M433.3 85.4h.01M436.0 80.6h.01M434.9 78.1h.01M425.3 87.7h.01M426.1 79.7h.01" stroke="#f03030" stroke-width="1.10" stroke-linecap="round" opacity="0.8"/>
<path d="M426.3 99.7h.01M425.0 102.9h.01M430.5 113.3h.01M429.9 90.7h.01M420.8 96.7h.01M432.6 94.4h.01M429.9 101.6h.01M433.0 72.8h.01M428.8 99.0h.01M430.2 71.6h.01M420.3 96.8h.01M431.0 73.3h.01M431.1 88.2h.01M426.1 62.1h.01M421.0 76.7h.01M427.2 91.6h.01M429.2 94.9h.01M437.6 89.1h.01M435.2 75.0h.01M425.9 80.0h.01M430.2 104.6h.01M436.8 99.3h.01M436.3 43.8h.01M434.7 96.3h.01M426.6 111.8h.01M429.2 76.5h.01M436.2 103.3h.01M426.3 85.0h.01M426.3 95.3h.01M428.7 64.8h.01M422.5 112.9h.01M423.4 67.8h.01M439.4 73.6h.01M423.1 70.8h.01M432.4 75.2h.01M428.4 44.1h.01M426.2 90.7h.01M429.2 119.1h.01M421.7 72.1h.01M427.6 90.8h.01M431.8 56.1h.01M424.4 42.6h.01M424.6 80.7h.01M423.5 66.0h.01M433.4 67.4h.01M430.2 93.7h.01M424.6 84.0h.01M430.2 111.6h.01M432.0 82.5h.01M427.3 113.0h.01M435.8 78.8h.01M434.4 100.9h.01M430.1 67.6h.01M423.2 98.2h.01M430.8 56.3h.01M424.2 87.5h.01M428.4 78.8h.01M426.7 99.4h.01M436.4 91.5h.01M429.4 92.5h.01M425.9 102.3h.01M426.7 70.2h.01M431.9 52.6h.01M426.7 82.0h.01M428.4 59.1h.01M424.7 87.0h.01M431.7 87.6h.01M428.0 73.2h.01M431.9 109.2h.01M428.9 70.5h.01M435.0 76.4h.01M435.0 84.5h.01M425.6 85.7h.01M425.9 86.6h.01M431.2 84.8h.01M426.9 89.5h.01M430.7 90.0h.01M431.4 101.5h.01M430.3 104.2h.01M429.1 112.6h.01M430.8 106.6h.01M428.1 61.9h.01M427.0 90.8h.01M430.6 89.3h.01M435.6 64.3h.01M421.1 86.4h.01M426.0 90.6h.01M423.2 68.9h.01M428.8 60.9h.01M425.6 115.3h.01M428.7 89.5h.01M433.9 56.3h.01M429.5 89.1h.01M430.2 70.4h.01M427.1 88.0h.01M432.3 75.7h.01M431.7 48.3h.01M430.9 105.2h.01M425.0 84.3h.01M429.0 95.7h.01M434.3 93.7h.01M428.0 86.2h.01M430.2 105.3h.01M430.1 79.3h.01M427.5 74.6h.01M425.2 80.5h.01M426.5 105.0h.01M423.8 91.4h.01M423.9 105.5h.01M430.3 114.6h.01M431.4 70.1h.01M429.2 77.8h.01M426.7 70.1h.01M427.7 91.8h.01M428.3 91.7h.01M428.6 85.1h.01M427.7 91.1h.01M428.1 104.2h.01M430.9 73.0h.01M429.0 96.0h.01" stroke="#b81c1c" stroke-width="0.90" stroke-linecap="round" opacity="0.7"/>
<line x1="417.60" y1="86.30" x2="517.80" y2="86.30" stroke="#555" stroke-width="1.0"/>
<line x1="458.00" y1="28.00" x2="458.00" y2="122.20" stroke="#8a8a8a" stroke-width="1.4"/>
<text x="436.0" y="71.5" font-size="5.4" font-weight="normal" text-anchor="start" fill="#444" >Q1</text>
<text x="470.5" y="71.5" font-size="5.4" font-weight="normal" text-anchor="start" fill="#444" >Q2</text>
<text x="436.0" y="109.3" font-size="5.4" font-weight="normal" text-anchor="start" fill="#444" >Q3</text>
<text x="470.5" y="109.3" font-size="5.4" font-weight="normal" text-anchor="start" fill="#444" >Q4</text>
<rect x="417.60" y="28.00" width="100.20" height="94.20" fill="none" stroke="#7d7d7d" stroke-width="1.3" />
<line x1="413.60" y1="108.60" x2="417.60" y2="108.60" stroke="#555" stroke-width="0.9"/>
<line x1="415.60" y1="101.38" x2="417.60" y2="101.38" stroke="#555" stroke-width="0.9"/>
<line x1="415.60" y1="97.15" x2="417.60" y2="97.15" stroke="#555" stroke-width="0.9"/>
<line x1="415.60" y1="94.15" x2="417.60" y2="94.15" stroke="#555" stroke-width="0.9"/>
<line x1="415.60" y1="91.82" x2="417.60" y2="91.82" stroke="#555" stroke-width="0.9"/>
<line x1="415.60" y1="89.92" x2="417.60" y2="89.92" stroke="#555" stroke-width="0.9"/>
<line x1="415.60" y1="88.32" x2="417.60" y2="88.32" stroke="#555" stroke-width="0.9"/>
<line x1="415.60" y1="86.93" x2="417.60" y2="86.93" stroke="#555" stroke-width="0.9"/>
<line x1="415.60" y1="85.70" x2="417.60" y2="85.70" stroke="#555" stroke-width="0.9"/>
<line x1="413.60" y1="84.60" x2="417.60" y2="84.60" stroke="#555" stroke-width="0.9"/>
<line x1="415.60" y1="77.68" x2="417.60" y2="77.68" stroke="#555" stroke-width="0.9"/>
<line x1="415.60" y1="73.63" x2="417.60" y2="73.63" stroke="#555" stroke-width="0.9"/>
<line x1="415.60" y1="70.75" x2="417.60" y2="70.75" stroke="#555" stroke-width="0.9"/>
<line x1="415.60" y1="68.52" x2="417.60" y2="68.52" stroke="#555" stroke-width="0.9"/>
<line x1="415.60" y1="66.70" x2="417.60" y2="66.70" stroke="#555" stroke-width="0.9"/>
<line x1="415.60" y1="65.16" x2="417.60" y2="65.16" stroke="#555" stroke-width="0.9"/>
<line x1="415.60" y1="63.83" x2="417.60" y2="63.83" stroke="#555" stroke-width="0.9"/>
<line x1="415.60" y1="62.65" x2="417.60" y2="62.65" stroke="#555" stroke-width="0.9"/>
<line x1="413.60" y1="61.60" x2="417.60" y2="61.60" stroke="#555" stroke-width="0.9"/>
<line x1="415.60" y1="54.89" x2="417.60" y2="54.89" stroke="#555" stroke-width="0.9"/>
<line x1="415.60" y1="50.96" x2="417.60" y2="50.96" stroke="#555" stroke-width="0.9"/>
<line x1="415.60" y1="48.17" x2="417.60" y2="48.17" stroke="#555" stroke-width="0.9"/>
<line x1="415.60" y1="46.01" x2="417.60" y2="46.01" stroke="#555" stroke-width="0.9"/>
<line x1="415.60" y1="44.25" x2="417.60" y2="44.25" stroke="#555" stroke-width="0.9"/>
<line x1="415.60" y1="42.75" x2="417.60" y2="42.75" stroke="#555" stroke-width="0.9"/>
<line x1="415.60" y1="41.46" x2="417.60" y2="41.46" stroke="#555" stroke-width="0.9"/>
<line x1="415.60" y1="40.32" x2="417.60" y2="40.32" stroke="#555" stroke-width="0.9"/>
<line x1="413.60" y1="39.30" x2="417.60" y2="39.30" stroke="#555" stroke-width="0.9"/>
<line x1="415.60" y1="111.50" x2="417.60" y2="111.50" stroke="#555" stroke-width="0.9"/>
<line x1="415.60" y1="114.50" x2="417.60" y2="114.50" stroke="#555" stroke-width="0.9"/>
<line x1="415.60" y1="117.00" x2="417.60" y2="117.00" stroke="#555" stroke-width="0.9"/>
<line x1="415.60" y1="119.50" x2="417.60" y2="119.50" stroke="#555" stroke-width="0.9"/>
<line x1="437.17" y1="122.20" x2="437.17" y2="124.20" stroke="#555" stroke-width="0.9"/>
<line x1="438.35" y1="122.20" x2="438.35" y2="124.20" stroke="#555" stroke-width="0.9"/>
<line x1="439.40" y1="122.20" x2="439.40" y2="126.20" stroke="#555" stroke-width="0.9"/>
<line x1="446.32" y1="122.20" x2="446.32" y2="124.20" stroke="#555" stroke-width="0.9"/>
<line x1="450.37" y1="122.20" x2="450.37" y2="124.20" stroke="#555" stroke-width="0.9"/>
<line x1="453.25" y1="122.20" x2="453.25" y2="124.20" stroke="#555" stroke-width="0.9"/>
<line x1="455.48" y1="122.20" x2="455.48" y2="124.20" stroke="#555" stroke-width="0.9"/>
<line x1="457.30" y1="122.20" x2="457.30" y2="124.20" stroke="#555" stroke-width="0.9"/>
<line x1="458.84" y1="122.20" x2="458.84" y2="124.20" stroke="#555" stroke-width="0.9"/>
<line x1="460.17" y1="122.20" x2="460.17" y2="124.20" stroke="#555" stroke-width="0.9"/>
<line x1="461.35" y1="122.20" x2="461.35" y2="124.20" stroke="#555" stroke-width="0.9"/>
<line x1="462.40" y1="122.20" x2="462.40" y2="126.20" stroke="#555" stroke-width="0.9"/>
<line x1="469.32" y1="122.20" x2="469.32" y2="124.20" stroke="#555" stroke-width="0.9"/>
<line x1="473.37" y1="122.20" x2="473.37" y2="124.20" stroke="#555" stroke-width="0.9"/>
<line x1="476.25" y1="122.20" x2="476.25" y2="124.20" stroke="#555" stroke-width="0.9"/>
<line x1="478.48" y1="122.20" x2="478.48" y2="124.20" stroke="#555" stroke-width="0.9"/>
<line x1="480.30" y1="122.20" x2="480.30" y2="124.20" stroke="#555" stroke-width="0.9"/>
<line x1="481.84" y1="122.20" x2="481.84" y2="124.20" stroke="#555" stroke-width="0.9"/>
<line x1="483.17" y1="122.20" x2="483.17" y2="124.20" stroke="#555" stroke-width="0.9"/>
<line x1="484.35" y1="122.20" x2="484.35" y2="124.20" stroke="#555" stroke-width="0.9"/>
<line x1="485.40" y1="122.20" x2="485.40" y2="126.20" stroke="#555" stroke-width="0.9"/>
<line x1="492.32" y1="122.20" x2="492.32" y2="124.20" stroke="#555" stroke-width="0.9"/>
<line x1="496.37" y1="122.20" x2="496.37" y2="124.20" stroke="#555" stroke-width="0.9"/>
<line x1="499.25" y1="122.20" x2="499.25" y2="124.20" stroke="#555" stroke-width="0.9"/>
<line x1="501.48" y1="122.20" x2="501.48" y2="124.20" stroke="#555" stroke-width="0.9"/>
<line x1="503.30" y1="122.20" x2="503.30" y2="124.20" stroke="#555" stroke-width="0.9"/>
<line x1="504.84" y1="122.20" x2="504.84" y2="124.20" stroke="#555" stroke-width="0.9"/>
<line x1="506.17" y1="122.20" x2="506.17" y2="124.20" stroke="#555" stroke-width="0.9"/>
<line x1="507.35" y1="122.20" x2="507.35" y2="124.20" stroke="#555" stroke-width="0.9"/>
<line x1="508.40" y1="122.20" x2="508.40" y2="126.20" stroke="#555" stroke-width="0.9"/>
<line x1="515.32" y1="122.20" x2="515.32" y2="124.20" stroke="#555" stroke-width="0.9"/>
<line x1="419.00" y1="122.20" x2="419.00" y2="124.00" stroke="#777" stroke-width="0.8"/>
<line x1="421.50" y1="122.20" x2="421.50" y2="124.00" stroke="#777" stroke-width="0.8"/>
<line x1="424.00" y1="122.20" x2="424.00" y2="124.00" stroke="#777" stroke-width="0.8"/>
<line x1="426.50" y1="122.20" x2="426.50" y2="124.00" stroke="#777" stroke-width="0.8"/>
<line x1="429.00" y1="122.20" x2="429.00" y2="124.00" stroke="#777" stroke-width="0.8"/>
<line x1="431.50" y1="122.20" x2="431.50" y2="124.00" stroke="#777" stroke-width="0.8"/>
<line x1="434.00" y1="122.20" x2="434.00" y2="124.00" stroke="#777" stroke-width="0.8"/>
<g transform="translate(414.6,37.9) rotate(-90)"><text font-size="4.4" fill="#2a2a2a" text-anchor="middle">10<tspan font-size="3.3" dy="-2">5</tspan></text></g>
<g transform="translate(414.6,60.2) rotate(-90)"><text font-size="4.4" fill="#2a2a2a" text-anchor="middle">10<tspan font-size="3.3" dy="-2">4</tspan></text></g>
<g transform="translate(414.6,83.2) rotate(-90)"><text font-size="4.4" fill="#2a2a2a" text-anchor="middle">10<tspan font-size="3.3" dy="-2">3</tspan></text></g>
<g transform="translate(414.6,107.2) rotate(-90)"><text font-size="4.4" fill="#2a2a2a" text-anchor="middle">10<tspan font-size="3.3" dy="-2">2</tspan></text></g>
<text x="439.8" y="130.8" font-size="4.6" fill="#2a2a2a" text-anchor="middle">10<tspan font-size="3.4" dy="-2">2</tspan></text>
<text x="462.8" y="130.8" font-size="4.6" fill="#2a2a2a" text-anchor="middle">10<tspan font-size="3.4" dy="-2">3</tspan></text>
<text x="485.6" y="130.8" font-size="4.6" fill="#2a2a2a" text-anchor="middle">10<tspan font-size="3.4" dy="-2">4</tspan></text>
<text x="508.2" y="130.8" font-size="4.6" fill="#2a2a2a" text-anchor="middle">10<tspan font-size="3.4" dy="-2">5</tspan></text>
<text x="417.4" y="133.6" font-size="4.6" font-weight="normal" text-anchor="middle" fill="#333" >-86</text>
<text x="424.6" y="130.6" font-size="4.6" font-weight="normal" text-anchor="middle" fill="#333" >0</text>
<text transform="translate(407.3,69.5) rotate(-90)" font-size="4.6" fill="#333" text-anchor="middle" textLength="33" lengthAdjust="spacingAndGlyphs">Annexin V APC-A</text>
<text x="468.2" y="137.8" font-size="5.6" font-weight="normal" text-anchor="middle" fill="#333" >7AAD-A</text>
<text transform="translate(420.8,38.0) scale(0.93,1)" font-size="9" font-weight="bold" fill="#111">48.1</text>
<text transform="translate(495.9,42.5) scale(0.93,1)" font-size="9" font-weight="bold" fill="#111">0.6</text>
<text transform="translate(420.4,119.0) scale(0.93,1)" font-size="9" font-weight="bold" fill="#111">50.9</text>
<text transform="translate(495.9,99.4) scale(0.93,1)" font-size="9" font-weight="bold" fill="#111">0.4</text>
</svg>
</body></html>
